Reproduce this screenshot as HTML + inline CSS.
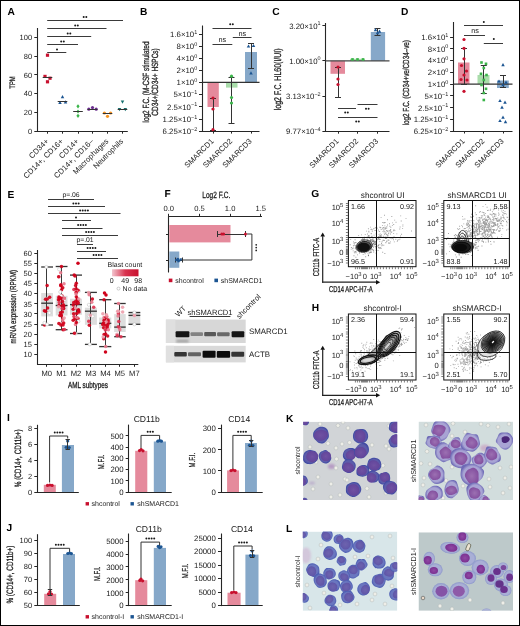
<!DOCTYPE html>
<html><head><meta charset="utf-8"><style>
html,body{margin:0;padding:0;background:#fff;width:520px;height:626px;overflow:hidden}
svg{display:block;will-change:transform}
text{font-family:"Liberation Sans",sans-serif;text-rendering:geometricPrecision}
</style></head><body>
<svg width="520" height="626" viewBox="0 0 520 626" font-family='"Liberation Sans",sans-serif' fill="#1a1a1a">
<defs><linearGradient id="bc" x1="0" x2="1" y1="0" y2="0"><stop offset="0" stop-color="#f2c6cf"/><stop offset="0.5" stop-color="#d9334f"/><stop offset="1" stop-color="#c8102e"/></linearGradient>
<filter id="bl" x="-30%" y="-80%" width="160%" height="260%"><feGaussianBlur stdDeviation="0.9"/></filter>
<filter id="bl2" x="-30%" y="-80%" width="160%" height="260%"><feGaussianBlur stdDeviation="0.6"/></filter>
<filter id="mb" x="-20%" y="-20%" width="140%" height="140%"><feGaussianBlur stdDeviation="0.55"/></filter>
<filter id="mb2" x="-50%" y="-50%" width="200%" height="200%"><feGaussianBlur stdDeviation="1.1"/></filter>
<radialGradient id="c_k1"><stop offset="0" stop-color="#5c5caa"/><stop offset="0.75" stop-color="#5c5caa"/><stop offset="1" stop-color="#3e49a3"/></radialGradient>
<radialGradient id="n_k1"><stop offset="0" stop-color="#7052a2"/><stop offset="1" stop-color="#62459b"/></radialGradient>
<radialGradient id="c_k2"><stop offset="0" stop-color="#a8a4d4"/><stop offset="0.75" stop-color="#a8a4d4"/><stop offset="1" stop-color="#6e6ab6"/></radialGradient>
<radialGradient id="n_k2"><stop offset="0" stop-color="#9c70b2"/><stop offset="1" stop-color="#84509f"/></radialGradient>
<radialGradient id="c_l1"><stop offset="0" stop-color="#6a76bf"/><stop offset="0.75" stop-color="#6a76bf"/><stop offset="1" stop-color="#4a5cb2"/></radialGradient>
<radialGradient id="n_l1"><stop offset="0" stop-color="#6e63ae"/><stop offset="1" stop-color="#5f56a8"/></radialGradient>
<radialGradient id="c_l2"><stop offset="0" stop-color="#a9afd6"/><stop offset="0.75" stop-color="#a9afd6"/><stop offset="1" stop-color="#8d98ca"/></radialGradient>
<radialGradient id="n_l2"><stop offset="0" stop-color="#9049a4"/><stop offset="1" stop-color="#7a3090"/></radialGradient>
<clipPath id="cp_k1"><rect x="303.1" y="421.7" width="94.2" height="78.4"/></clipPath>
<clipPath id="cp_k2"><rect x="418.5" y="421.6" width="94.5" height="78.5"/></clipPath>
<clipPath id="cp_l1"><rect x="302.7" y="531.6" width="94.6" height="79.2"/></clipPath>
<clipPath id="cp_l2"><rect x="418.5" y="532.3" width="94.5" height="78.5"/></clipPath></defs>
<rect x="0" y="0" width="520" height="626" fill="#fff"/>
<text x="7.5" y="15.3" font-size="10.2" font-weight="bold" fill="#000">A</text>
<text x="140" y="14.8" font-size="10.2" font-weight="bold" fill="#000">B</text>
<text x="272.3" y="14.8" font-size="10.2" font-weight="bold" fill="#000">C</text>
<text x="401" y="14.8" font-size="10.2" font-weight="bold" fill="#000">D</text>
<text x="7.5" y="197.6" font-size="10.2" font-weight="bold" fill="#000">E</text>
<text x="164.5" y="197.4" font-size="10.2" font-weight="bold" fill="#000">F</text>
<text x="311.3" y="197.4" font-size="10.2" font-weight="bold" fill="#000">G</text>
<text x="311.8" y="310.9" font-size="10.2" font-weight="bold" fill="#000">H</text>
<text x="7" y="421.2" font-size="10.2" font-weight="bold" fill="#000">I</text>
<text x="6.5" y="530.5" font-size="10.2" font-weight="bold" fill="#000">J</text>
<text x="286.1" y="421.5" font-size="10.2" font-weight="bold" fill="#000">K</text>
<text x="286.1" y="531.8" font-size="10.2" font-weight="bold" fill="#000">L</text>
<line x1="37.5" y1="28" x2="37.5" y2="131.7" stroke="#262626" stroke-width="1.1"/>
<line x1="37" y1="131.5" x2="127.8" y2="131.5" stroke="#262626" stroke-width="1.1"/>
<line x1="34.3" y1="131.5" x2="37.5" y2="131.5" stroke="#262626" stroke-width="1"/>
<text x="32.1" y="133.9" font-size="7.5" text-anchor="end">0</text>
<line x1="34.3" y1="112.5" x2="37.5" y2="112.5" stroke="#262626" stroke-width="1"/>
<text x="32.1" y="115.15" font-size="7.5" text-anchor="end">20</text>
<line x1="34.3" y1="93.5" x2="37.5" y2="93.5" stroke="#262626" stroke-width="1"/>
<text x="32.1" y="96.4" font-size="7.5" text-anchor="end">40</text>
<line x1="34.3" y1="74.5" x2="37.5" y2="74.5" stroke="#262626" stroke-width="1"/>
<text x="32.1" y="77.65" font-size="7.5" text-anchor="end">60</text>
<line x1="34.3" y1="56.5" x2="37.5" y2="56.5" stroke="#262626" stroke-width="1"/>
<text x="32.1" y="58.9" font-size="7.5" text-anchor="end">80</text>
<line x1="34.3" y1="37.5" x2="37.5" y2="37.5" stroke="#262626" stroke-width="1"/>
<text x="32.1" y="40.15" font-size="7.5" text-anchor="end">100</text>
<line x1="47.5" y1="131.2" x2="47.5" y2="133.7" stroke="#262626" stroke-width="1"/>
<text transform="translate(49.1 141.8) rotate(-45)" font-size="7.7" text-anchor="end">CD34+</text>
<line x1="62.5" y1="131.2" x2="62.5" y2="133.7" stroke="#262626" stroke-width="1"/>
<text transform="translate(63.7 141.8) rotate(-45)" font-size="7.7" text-anchor="end">CD14+, CD16+</text>
<line x1="78.5" y1="131.2" x2="78.5" y2="133.7" stroke="#262626" stroke-width="1"/>
<text transform="translate(79.2 141.8) rotate(-45)" font-size="7.7" text-anchor="end">CD14+</text>
<line x1="92.5" y1="131.2" x2="92.5" y2="133.7" stroke="#262626" stroke-width="1"/>
<text transform="translate(94.1 141.8) rotate(-45)" font-size="7.7" text-anchor="end">CD14+, CD16–</text>
<line x1="107.5" y1="131.2" x2="107.5" y2="133.7" stroke="#262626" stroke-width="1"/>
<text transform="translate(108.9 141.8) rotate(-45)" font-size="7.7" text-anchor="end">Macrophages</text>
<line x1="122.5" y1="131.2" x2="122.5" y2="133.7" stroke="#262626" stroke-width="1"/>
<text transform="translate(123.7 141.8) rotate(-45)" font-size="7.7" text-anchor="end">Neutrophils</text>
<text transform="translate(15.4 82.5) rotate(-90) scale(0.74 1)" font-size="7.88" text-anchor="middle" stroke="#1a1a1a" stroke-width="0.28">TPM</text>
<line x1="47.2" y1="20.5" x2="123" y2="20.5" stroke="#3a3a3a" stroke-width="1"/>
<circle cx="83.7" cy="17" r="1" fill="#1a1a1a"/>
<circle cx="86.3" cy="17" r="1" fill="#1a1a1a"/>
<line x1="47.2" y1="28.5" x2="106.5" y2="28.5" stroke="#3a3a3a" stroke-width="1"/>
<circle cx="75.2" cy="25.5" r="1" fill="#1a1a1a"/>
<circle cx="77.8" cy="25.5" r="1" fill="#1a1a1a"/>
<line x1="47.2" y1="36.5" x2="91.2" y2="36.5" stroke="#3a3a3a" stroke-width="1"/>
<circle cx="67.7" cy="33.5" r="1" fill="#1a1a1a"/>
<circle cx="70.3" cy="33.5" r="1" fill="#1a1a1a"/>
<line x1="47.2" y1="44.5" x2="78" y2="44.5" stroke="#3a3a3a" stroke-width="1"/>
<circle cx="61.2" cy="41.5" r="1" fill="#1a1a1a"/>
<circle cx="63.8" cy="41.5" r="1" fill="#1a1a1a"/>
<line x1="47.2" y1="52.5" x2="66.3" y2="52.5" stroke="#3a3a3a" stroke-width="1"/>
<circle cx="57" cy="49.5" r="1" fill="#1a1a1a"/>
<rect x="45.9" y="53.6" width="3.2" height="3.2" fill="#c8102e"/>
<rect x="43.4" y="74.8" width="3.2" height="3.2" fill="#c8102e"/>
<rect x="48.4" y="76.6" width="3.2" height="3.2" fill="#c8102e"/>
<rect x="45.9" y="80.2" width="3.2" height="3.2" fill="#c8102e"/>
<line x1="42.7" y1="77.5" x2="52.3" y2="77.5" stroke="#333" stroke-width="1"/>
<path d="M62.5 95.08L64.26 98.28L60.74 98.28Z" fill="#1c5592"/>
<path d="M60 100.68L61.76 103.88L58.24 103.88Z" fill="#1c5592"/>
<path d="M65.5 100.28L67.26 103.48L63.74 103.48Z" fill="#1c5592"/>
<line x1="57.7" y1="101.5" x2="67.3" y2="101.5" stroke="#333" stroke-width="1"/>
<path d="M78 104.22L79.6 106.3L78 108.38L76.4 106.3Z" fill="#3bb54a"/>
<path d="M78 109.42L79.6 111.5L78 113.58L76.4 111.5Z" fill="#3bb54a"/>
<path d="M78 113.72L79.6 115.8L78 117.88L76.4 115.8Z" fill="#3bb54a"/>
<line x1="73.2" y1="111.5" x2="82.8" y2="111.5" stroke="#333" stroke-width="1"/>
<circle cx="88.8" cy="109.2" r="1.6" fill="#6b2d8f"/>
<circle cx="92.5" cy="107.6" r="1.6" fill="#6b2d8f"/>
<circle cx="96.2" cy="109.2" r="1.6" fill="#6b2d8f"/>
<line x1="87.7" y1="109.5" x2="97.3" y2="109.5" stroke="#333" stroke-width="1"/>
<circle cx="104.4" cy="113" r="1.6" fill="#f7941d"/>
<circle cx="107.5" cy="116.3" r="1.6" fill="#f7941d"/>
<circle cx="110.6" cy="113" r="1.6" fill="#f7941d"/>
<line x1="102.7" y1="113.5" x2="112.3" y2="113.5" stroke="#333" stroke-width="1"/>
<path d="M122.5 103.72L124.26 100.52L120.74 100.52Z" fill="#16706e"/>
<path d="M119.5 111.22L121.26 108.02L117.74 108.02Z" fill="#16706e"/>
<path d="M125.3 111.22L127.06 108.02L123.54 108.02Z" fill="#16706e"/>
<line x1="117.7" y1="109.5" x2="127.3" y2="109.5" stroke="#333" stroke-width="1"/>
<line x1="202.5" y1="25.5" x2="202.5" y2="131.6" stroke="#262626" stroke-width="1.1"/>
<line x1="199" y1="34.5" x2="202.2" y2="34.5" stroke="#262626" stroke-width="1"/>
<text x="197.2" y="37" font-size="7.8" text-anchor="end">1.6×10<tspan font-size="5.46" dy="-3.12">1</tspan></text>
<line x1="199" y1="46.5" x2="202.2" y2="46.5" stroke="#262626" stroke-width="1"/>
<text x="197.2" y="49.1" font-size="7.8" text-anchor="end">8×10<tspan font-size="5.46" dy="-3.12">0</tspan></text>
<line x1="199" y1="58.5" x2="202.2" y2="58.5" stroke="#262626" stroke-width="1"/>
<text x="197.2" y="61.2" font-size="7.8" text-anchor="end">4×10<tspan font-size="5.46" dy="-3.12">0</tspan></text>
<line x1="199" y1="70.5" x2="202.2" y2="70.5" stroke="#262626" stroke-width="1"/>
<text x="197.2" y="73.3" font-size="7.8" text-anchor="end">2×10<tspan font-size="5.46" dy="-3.12">0</tspan></text>
<line x1="199" y1="82.5" x2="202.2" y2="82.5" stroke="#262626" stroke-width="1"/>
<text x="197.2" y="85.1" font-size="7.8" text-anchor="end">1×10<tspan font-size="5.46" dy="-3.12">0</tspan></text>
<line x1="199" y1="94.5" x2="202.2" y2="94.5" stroke="#262626" stroke-width="1"/>
<text x="197.2" y="97.3" font-size="7.8" text-anchor="end">5×10<tspan font-size="5.46" dy="-3.12">−1</tspan></text>
<line x1="199" y1="106.5" x2="202.2" y2="106.5" stroke="#262626" stroke-width="1"/>
<text x="197.2" y="109.6" font-size="7.8" text-anchor="end">2.5×10<tspan font-size="5.46" dy="-3.12">−1</tspan></text>
<line x1="199" y1="119.5" x2="202.2" y2="119.5" stroke="#262626" stroke-width="1"/>
<text x="197.2" y="121.8" font-size="7.8" text-anchor="end">1.25×10<tspan font-size="5.46" dy="-3.12">−1</tspan></text>
<line x1="199" y1="131.5" x2="202.2" y2="131.5" stroke="#262626" stroke-width="1"/>
<text x="197.2" y="133.9" font-size="7.8" text-anchor="end">6.25×10<tspan font-size="5.46" dy="-3.12">−2</tspan></text>
<line x1="201.7" y1="131.5" x2="259.5" y2="131.5" stroke="#262626" stroke-width="1.1"/>
<rect x="207.5" y="82.3" width="11.3" height="24.7" fill="#e58a9c"/>
<rect x="226" y="82.3" width="11.5" height="5.3" fill="#a9dcaa"/>
<rect x="245" y="52" width="12" height="30.3" fill="#86a8c9"/>
<line x1="202.2" y1="82.3" x2="259.5" y2="82.3" stroke="#333" stroke-width="1.2"/>
<line x1="213.5" y1="98" x2="213.5" y2="130" stroke="#333" stroke-width="1"/>
<line x1="210" y1="98.5" x2="216" y2="98.5" stroke="#333" stroke-width="1"/>
<line x1="210" y1="130.5" x2="216" y2="130.5" stroke="#333" stroke-width="1"/>
<line x1="231.5" y1="77" x2="231.5" y2="123" stroke="#333" stroke-width="1"/>
<line x1="228.5" y1="77.5" x2="234.5" y2="77.5" stroke="#333" stroke-width="1"/>
<line x1="228.5" y1="123.5" x2="234.5" y2="123.5" stroke="#333" stroke-width="1"/>
<line x1="251.5" y1="43" x2="251.5" y2="68" stroke="#333" stroke-width="1"/>
<line x1="248" y1="43.5" x2="254" y2="43.5" stroke="#333" stroke-width="1"/>
<line x1="248" y1="68.5" x2="254" y2="68.5" stroke="#333" stroke-width="1"/>
<circle cx="213" cy="98" r="1.6" fill="#c8102e"/>
<circle cx="213" cy="109" r="1.6" fill="#c8102e"/>
<circle cx="213" cy="129.7" r="1.6" fill="#c8102e"/>
<circle cx="231.5" cy="76.2" r="1.6" fill="#3bb54a"/>
<circle cx="231.5" cy="97.5" r="1.6" fill="#3bb54a"/>
<circle cx="231.5" cy="103" r="1.6" fill="#3bb54a"/>
<path d="M248.5 44.38L250.26 47.58L246.74 47.58Z" fill="#1c5592"/>
<path d="M253.5 43.88L255.26 47.08L251.74 47.08Z" fill="#1c5592"/>
<path d="M251 71.28L252.76 74.48L249.24 74.48Z" fill="#1c5592"/>
<line x1="213.5" y1="131.1" x2="213.5" y2="133.6" stroke="#262626" stroke-width="1"/>
<text transform="translate(214.2 141.7) rotate(-45)" font-size="7.7" text-anchor="end">SMARCD1</text>
<line x1="231.5" y1="131.1" x2="231.5" y2="133.6" stroke="#262626" stroke-width="1"/>
<text transform="translate(232.7 141.7) rotate(-45)" font-size="7.7" text-anchor="end">SMARCD2</text>
<line x1="251.5" y1="131.1" x2="251.5" y2="133.6" stroke="#262626" stroke-width="1"/>
<text transform="translate(252.2 141.7) rotate(-45)" font-size="7.7" text-anchor="end">SMARCD3</text>
<line x1="212.5" y1="28.5" x2="251.5" y2="28.5" stroke="#3a3a3a" stroke-width="1"/>
<circle cx="230.2" cy="24.3" r="1" fill="#1a1a1a"/>
<circle cx="232.8" cy="24.3" r="1" fill="#1a1a1a"/>
<line x1="212.5" y1="44.5" x2="232.3" y2="44.5" stroke="#3a3a3a" stroke-width="1"/>
<text x="222.3" y="42" font-size="7.3" text-anchor="middle">ns</text>
<line x1="232.8" y1="37.5" x2="251.5" y2="37.5" stroke="#3a3a3a" stroke-width="1"/>
<text x="242.3" y="35.5" font-size="7.3" text-anchor="middle">ns</text>
<text transform="translate(148.8 82) rotate(-90) scale(0.72 1)" font-size="8.96" text-anchor="middle" stroke="#1a1a1a" stroke-width="0.28">log2 F.C. (M-CSF stimulated</text>
<text transform="translate(157.7 82) rotate(-90) scale(0.72 1)" font-size="8.96" text-anchor="middle" stroke="#1a1a1a" stroke-width="0.28">CD34+/CD34+ HSPCs)</text>
<line x1="325.5" y1="23" x2="325.5" y2="131.6" stroke="#262626" stroke-width="1.1"/>
<line x1="322.4" y1="25.5" x2="325.6" y2="25.5" stroke="#262626" stroke-width="1"/>
<text x="320.6" y="28.6" font-size="7.8" text-anchor="end">3.20×10<tspan font-size="5.46" dy="-3.12">1</tspan></text>
<line x1="322.4" y1="60.5" x2="325.6" y2="60.5" stroke="#262626" stroke-width="1"/>
<text x="320.6" y="63.6" font-size="7.8" text-anchor="end">1.00×10<tspan font-size="5.46" dy="-3.12">0</tspan></text>
<line x1="322.4" y1="96.5" x2="325.6" y2="96.5" stroke="#262626" stroke-width="1"/>
<text x="320.6" y="99" font-size="7.8" text-anchor="end">3.13×10<tspan font-size="5.46" dy="-3.12">−2</tspan></text>
<line x1="322.4" y1="131.5" x2="325.6" y2="131.5" stroke="#262626" stroke-width="1"/>
<text x="320.6" y="134" font-size="7.8" text-anchor="end">9.77×10<tspan font-size="5.46" dy="-3.12">−4</tspan></text>
<line x1="325.1" y1="131.5" x2="389.5" y2="131.5" stroke="#262626" stroke-width="1.1"/>
<rect x="330.5" y="60.8" width="14.5" height="13" fill="#e58a9c"/>
<rect x="350" y="58.8" width="15" height="2.2" fill="#a9dcaa"/>
<rect x="370.8" y="32" width="14.3" height="28.8" fill="#86a8c9"/>
<line x1="325.6" y1="60.8" x2="389.5" y2="60.8" stroke="#444" stroke-width="1.2"/>
<line x1="338.5" y1="67" x2="338.5" y2="97" stroke="#333" stroke-width="1"/>
<line x1="335" y1="67.5" x2="341" y2="67.5" stroke="#333" stroke-width="1"/>
<line x1="335" y1="97.5" x2="341" y2="97.5" stroke="#333" stroke-width="1"/>
<line x1="377.5" y1="28.8" x2="377.5" y2="35" stroke="#333" stroke-width="1"/>
<line x1="374.5" y1="28.5" x2="380.5" y2="28.5" stroke="#333" stroke-width="1"/>
<line x1="374.5" y1="35.5" x2="380.5" y2="35.5" stroke="#333" stroke-width="1"/>
<circle cx="338" cy="67" r="1.6" fill="#c8102e"/>
<circle cx="338" cy="79" r="1.6" fill="#c8102e"/>
<circle cx="338" cy="84.5" r="1.6" fill="#c8102e"/>
<rect x="351.2" y="58.1" width="2.6" height="2.6" fill="#3bb54a"/>
<rect x="356.2" y="58.1" width="2.6" height="2.6" fill="#3bb54a"/>
<rect x="361.7" y="58.1" width="2.6" height="2.6" fill="#3bb54a"/>
<path d="M375.5 28.08L377.26 31.28L373.74 31.28Z" fill="#1c5592"/>
<path d="M379.5 29.58L381.26 32.78L377.74 32.78Z" fill="#1c5592"/>
<path d="M377.5 31.08L379.26 34.28L375.74 34.28Z" fill="#1c5592"/>
<line x1="338.5" y1="131.2" x2="338.5" y2="133.7" stroke="#262626" stroke-width="1"/>
<text transform="translate(339.2 141.8) rotate(-45)" font-size="7.7" text-anchor="end">SMARCD1</text>
<line x1="357.5" y1="131.2" x2="357.5" y2="133.7" stroke="#262626" stroke-width="1"/>
<text transform="translate(358.7 141.8) rotate(-45)" font-size="7.7" text-anchor="end">SMARCD2</text>
<line x1="377.5" y1="131.2" x2="377.5" y2="133.7" stroke="#262626" stroke-width="1"/>
<text transform="translate(378.7 141.8) rotate(-45)" font-size="7.7" text-anchor="end">SMARCD3</text>
<line x1="338" y1="108.5" x2="356" y2="108.5" stroke="#3a3a3a" stroke-width="1"/>
<circle cx="345.2" cy="112.5" r="1" fill="#1a1a1a"/>
<circle cx="347.8" cy="112.5" r="1" fill="#1a1a1a"/>
<line x1="357.5" y1="104.5" x2="377.5" y2="104.5" stroke="#3a3a3a" stroke-width="1"/>
<circle cx="366" cy="108.8" r="1" fill="#1a1a1a"/>
<circle cx="368.6" cy="108.8" r="1" fill="#1a1a1a"/>
<line x1="338" y1="117.5" x2="377.5" y2="117.5" stroke="#3a3a3a" stroke-width="1"/>
<circle cx="356.2" cy="121.5" r="1" fill="#1a1a1a"/>
<circle cx="358.8" cy="121.5" r="1" fill="#1a1a1a"/>
<text transform="translate(280.6 79.3) rotate(-90) scale(0.72 1)" font-size="9.72" text-anchor="middle" stroke="#1a1a1a" stroke-width="0.28">log2 F.C. HL60(I/UI)</text>
<line x1="453.5" y1="22" x2="453.5" y2="131.5" stroke="#262626" stroke-width="1.1"/>
<line x1="450.1" y1="37.5" x2="453.3" y2="37.5" stroke="#262626" stroke-width="1"/>
<text x="448.3" y="39.8" font-size="7.8" text-anchor="end">1.6×10<tspan font-size="5.46" dy="-3.12">1</tspan></text>
<line x1="450.1" y1="48.5" x2="453.3" y2="48.5" stroke="#262626" stroke-width="1"/>
<text x="448.3" y="51.6" font-size="7.8" text-anchor="end">8×10<tspan font-size="5.46" dy="-3.12">0</tspan></text>
<line x1="450.1" y1="60.5" x2="453.3" y2="60.5" stroke="#262626" stroke-width="1"/>
<text x="448.3" y="63.4" font-size="7.8" text-anchor="end">4×10<tspan font-size="5.46" dy="-3.12">0</tspan></text>
<line x1="450.1" y1="72.5" x2="453.3" y2="72.5" stroke="#262626" stroke-width="1"/>
<text x="448.3" y="75.2" font-size="7.8" text-anchor="end">2×10<tspan font-size="5.46" dy="-3.12">0</tspan></text>
<line x1="450.1" y1="84.5" x2="453.3" y2="84.5" stroke="#262626" stroke-width="1"/>
<text x="448.3" y="86.9" font-size="7.8" text-anchor="end">1×10<tspan font-size="5.46" dy="-3.12">0</tspan></text>
<line x1="450.1" y1="95.5" x2="453.3" y2="95.5" stroke="#262626" stroke-width="1"/>
<text x="448.3" y="98.7" font-size="7.8" text-anchor="end">5×10<tspan font-size="5.46" dy="-3.12">−1</tspan></text>
<line x1="450.1" y1="107.5" x2="453.3" y2="107.5" stroke="#262626" stroke-width="1"/>
<text x="448.3" y="110.5" font-size="7.8" text-anchor="end">2.5×10<tspan font-size="5.46" dy="-3.12">−1</tspan></text>
<line x1="450.1" y1="119.5" x2="453.3" y2="119.5" stroke="#262626" stroke-width="1"/>
<text x="448.3" y="122.3" font-size="7.8" text-anchor="end">1.25×10<tspan font-size="5.46" dy="-3.12">−1</tspan></text>
<line x1="450.1" y1="131.5" x2="453.3" y2="131.5" stroke="#262626" stroke-width="1"/>
<text x="448.3" y="133.8" font-size="7.8" text-anchor="end">6.25×10<tspan font-size="5.46" dy="-3.12">−2</tspan></text>
<line x1="452.8" y1="131.5" x2="512.5" y2="131.5" stroke="#262626" stroke-width="1.1"/>
<rect x="458" y="62.5" width="11.5" height="21.6" fill="#e58a9c"/>
<rect x="477.5" y="75" width="12" height="9.1" fill="#a9dcaa"/>
<rect x="497" y="80.5" width="11.8" height="7.5" fill="#86a8c9"/>
<line x1="453.3" y1="84.1" x2="512.5" y2="84.1" stroke="#333" stroke-width="1.2"/>
<line x1="464.5" y1="48.8" x2="464.5" y2="84" stroke="#333" stroke-width="1"/>
<line x1="461" y1="48.5" x2="467" y2="48.5" stroke="#333" stroke-width="1"/>
<line x1="461" y1="84.5" x2="467" y2="84.5" stroke="#333" stroke-width="1"/>
<line x1="483.5" y1="65.5" x2="483.5" y2="93.8" stroke="#333" stroke-width="1"/>
<line x1="480.8" y1="65.5" x2="486.8" y2="65.5" stroke="#333" stroke-width="1"/>
<line x1="480.8" y1="93.5" x2="486.8" y2="93.5" stroke="#333" stroke-width="1"/>
<line x1="503.5" y1="75" x2="503.5" y2="87.5" stroke="#333" stroke-width="1"/>
<line x1="500" y1="75.5" x2="506" y2="75.5" stroke="#333" stroke-width="1"/>
<line x1="500" y1="87.5" x2="506" y2="87.5" stroke="#333" stroke-width="1"/>
<circle cx="464" cy="39.5" r="1.6" fill="#c8102e"/>
<circle cx="464" cy="48.3" r="1.6" fill="#c8102e"/>
<circle cx="464" cy="58.8" r="1.6" fill="#c8102e"/>
<circle cx="461.5" cy="65.5" r="1.6" fill="#c8102e"/>
<circle cx="466.5" cy="71" r="1.6" fill="#c8102e"/>
<circle cx="464" cy="75" r="1.6" fill="#c8102e"/>
<circle cx="461" cy="79.5" r="1.6" fill="#c8102e"/>
<circle cx="467" cy="80" r="1.6" fill="#c8102e"/>
<circle cx="464" cy="91.3" r="1.6" fill="#c8102e"/>
<rect x="480.2" y="61.2" width="2.6" height="2.6" fill="#3bb54a"/>
<rect x="484.7" y="62.5" width="2.6" height="2.6" fill="#3bb54a"/>
<rect x="482.5" y="66.7" width="2.6" height="2.6" fill="#3bb54a"/>
<rect x="479.7" y="72.5" width="2.6" height="2.6" fill="#3bb54a"/>
<rect x="485.2" y="73.7" width="2.6" height="2.6" fill="#3bb54a"/>
<rect x="482.5" y="78.7" width="2.6" height="2.6" fill="#3bb54a"/>
<rect x="480.2" y="83.7" width="2.6" height="2.6" fill="#3bb54a"/>
<rect x="484.7" y="87.5" width="2.6" height="2.6" fill="#3bb54a"/>
<rect x="482.5" y="91.7" width="2.6" height="2.6" fill="#3bb54a"/>
<rect x="482.5" y="98.7" width="2.6" height="2.6" fill="#3bb54a"/>
<path d="M503 63.08L504.76 66.28L501.24 66.28Z" fill="#1c5592"/>
<path d="M499 79.38L500.76 82.58L497.24 82.58Z" fill="#1c5592"/>
<path d="M506 80.58L507.76 83.78L504.24 83.78Z" fill="#1c5592"/>
<path d="M503 83.08L504.76 86.28L501.24 86.28Z" fill="#1c5592"/>
<path d="M500 98.88L501.76 102.08L498.24 102.08Z" fill="#1c5592"/>
<path d="M505 100.58L506.76 103.78L503.24 103.78Z" fill="#1c5592"/>
<path d="M502 105.58L503.76 108.78L500.24 108.78Z" fill="#1c5592"/>
<path d="M503 115.58L504.76 118.78L501.24 118.78Z" fill="#1c5592"/>
<path d="M500 118.88L501.76 122.08L498.24 122.08Z" fill="#1c5592"/>
<path d="M505.5 120.08L507.26 123.28L503.74 123.28Z" fill="#1c5592"/>
<line x1="464.5" y1="131" x2="464.5" y2="133.5" stroke="#262626" stroke-width="1"/>
<text transform="translate(465.2 141.6) rotate(-45)" font-size="7.7" text-anchor="end">SMARCD1</text>
<line x1="483.5" y1="131" x2="483.5" y2="133.5" stroke="#262626" stroke-width="1"/>
<text transform="translate(485 141.6) rotate(-45)" font-size="7.7" text-anchor="end">SMARCD2</text>
<line x1="503.5" y1="131" x2="503.5" y2="133.5" stroke="#262626" stroke-width="1"/>
<text transform="translate(504.2 141.6) rotate(-45)" font-size="7.7" text-anchor="end">SMARCD3</text>
<line x1="464" y1="25.5" x2="503" y2="25.5" stroke="#3a3a3a" stroke-width="1"/>
<circle cx="483.8" cy="22" r="1" fill="#1a1a1a"/>
<line x1="464" y1="35.5" x2="485" y2="35.5" stroke="#3a3a3a" stroke-width="1"/>
<text x="475" y="33" font-size="7.3" text-anchor="middle">ns</text>
<line x1="483.8" y1="43.5" x2="503" y2="43.5" stroke="#3a3a3a" stroke-width="1"/>
<circle cx="493.8" cy="39" r="1" fill="#1a1a1a"/>
<text transform="translate(408.6 82.7) rotate(-90) scale(0.72 1)" font-size="8.75" text-anchor="middle" stroke="#1a1a1a" stroke-width="0.28">log2 F.C. (CD34+ve/CD34–ve)</text>
<line x1="37.5" y1="250" x2="37.5" y2="364.8" stroke="#262626" stroke-width="1.1"/>
<line x1="37" y1="364.5" x2="138.3" y2="364.5" stroke="#262626" stroke-width="1.1"/>
<line x1="34.3" y1="354.5" x2="37.5" y2="354.5" stroke="#262626" stroke-width="1"/>
<text x="31.9" y="357.3" font-size="7.5" text-anchor="end">10</text>
<line x1="34.3" y1="344.5" x2="37.5" y2="344.5" stroke="#262626" stroke-width="1"/>
<text x="31.9" y="347.14" font-size="7.5" text-anchor="end">15</text>
<line x1="34.3" y1="334.5" x2="37.5" y2="334.5" stroke="#262626" stroke-width="1"/>
<text x="31.9" y="336.98" font-size="7.5" text-anchor="end">20</text>
<line x1="34.3" y1="324.5" x2="37.5" y2="324.5" stroke="#262626" stroke-width="1"/>
<text x="31.9" y="326.82" font-size="7.5" text-anchor="end">25</text>
<line x1="34.3" y1="313.5" x2="37.5" y2="313.5" stroke="#262626" stroke-width="1"/>
<text x="31.9" y="316.66" font-size="7.5" text-anchor="end">30</text>
<line x1="34.3" y1="303.5" x2="37.5" y2="303.5" stroke="#262626" stroke-width="1"/>
<text x="31.9" y="306.5" font-size="7.5" text-anchor="end">35</text>
<line x1="34.3" y1="293.5" x2="37.5" y2="293.5" stroke="#262626" stroke-width="1"/>
<text x="31.9" y="296.34" font-size="7.5" text-anchor="end">40</text>
<line x1="34.3" y1="283.5" x2="37.5" y2="283.5" stroke="#262626" stroke-width="1"/>
<text x="31.9" y="286.18" font-size="7.5" text-anchor="end">45</text>
<line x1="34.3" y1="273.5" x2="37.5" y2="273.5" stroke="#262626" stroke-width="1"/>
<text x="31.9" y="276.02" font-size="7.5" text-anchor="end">50</text>
<line x1="34.3" y1="263.5" x2="37.5" y2="263.5" stroke="#262626" stroke-width="1"/>
<text x="31.9" y="265.86" font-size="7.5" text-anchor="end">55</text>
<line x1="34.3" y1="253.5" x2="37.5" y2="253.5" stroke="#262626" stroke-width="1"/>
<text x="31.9" y="255.7" font-size="7.5" text-anchor="end">60</text>
<line x1="46.5" y1="364.4" x2="46.5" y2="366.8" stroke="#262626" stroke-width="1"/>
<text x="46.8" y="376.1" font-size="7.6" text-anchor="middle">M0</text>
<line x1="61.5" y1="364.4" x2="61.5" y2="366.8" stroke="#262626" stroke-width="1"/>
<text x="61.5" y="376.1" font-size="7.6" text-anchor="middle">M1</text>
<line x1="76.5" y1="364.4" x2="76.5" y2="366.8" stroke="#262626" stroke-width="1"/>
<text x="76" y="376.1" font-size="7.6" text-anchor="middle">M2</text>
<line x1="90.5" y1="364.4" x2="90.5" y2="366.8" stroke="#262626" stroke-width="1"/>
<text x="90.9" y="376.1" font-size="7.6" text-anchor="middle">M3</text>
<line x1="105.5" y1="364.4" x2="105.5" y2="366.8" stroke="#262626" stroke-width="1"/>
<text x="105.5" y="376.1" font-size="7.6" text-anchor="middle">M4</text>
<line x1="119.5" y1="364.4" x2="119.5" y2="366.8" stroke="#262626" stroke-width="1"/>
<text x="119.8" y="376.1" font-size="7.6" text-anchor="middle">M5</text>
<line x1="134.5" y1="364.4" x2="134.5" y2="366.8" stroke="#262626" stroke-width="1"/>
<text x="134.4" y="376.1" font-size="7.6" text-anchor="middle">M7</text>
<text transform="translate(88 388) scale(0.72 1)" font-size="8.86" text-anchor="middle" stroke="#1a1a1a" stroke-width="0.28">AML subtypes</text>
<text transform="translate(15.5 306.8) rotate(-90) scale(0.72 1)" font-size="8.64" text-anchor="middle" stroke="#1a1a1a" stroke-width="0.28">mRNA expression (RPKM)</text>
<line x1="48" y1="199.5" x2="94" y2="199.5" stroke="#3a3a3a" stroke-width="1"/>
<text x="71" y="197.3" font-size="6.8" text-anchor="middle">p=.06</text>
<line x1="48" y1="206.5" x2="105" y2="206.5" stroke="#3a3a3a" stroke-width="1"/>
<circle cx="73.4" cy="203.4" r="1" fill="#1a1a1a"/>
<circle cx="76" cy="203.4" r="1" fill="#1a1a1a"/>
<circle cx="78.6" cy="203.4" r="1" fill="#1a1a1a"/>
<line x1="48" y1="213.5" x2="120.5" y2="213.5" stroke="#3a3a3a" stroke-width="1"/>
<circle cx="80.1" cy="210.4" r="1" fill="#1a1a1a"/>
<circle cx="82.7" cy="210.4" r="1" fill="#1a1a1a"/>
<circle cx="85.3" cy="210.4" r="1" fill="#1a1a1a"/>
<circle cx="87.9" cy="210.4" r="1" fill="#1a1a1a"/>
<line x1="62" y1="220.5" x2="91" y2="220.5" stroke="#3a3a3a" stroke-width="1"/>
<circle cx="76" cy="217.4" r="1" fill="#1a1a1a"/>
<line x1="62" y1="228.5" x2="102.5" y2="228.5" stroke="#3a3a3a" stroke-width="1"/>
<circle cx="78.1" cy="224.9" r="1" fill="#1a1a1a"/>
<circle cx="80.7" cy="224.9" r="1" fill="#1a1a1a"/>
<circle cx="83.3" cy="224.9" r="1" fill="#1a1a1a"/>
<circle cx="85.9" cy="224.9" r="1" fill="#1a1a1a"/>
<line x1="62" y1="235.5" x2="118" y2="235.5" stroke="#3a3a3a" stroke-width="1"/>
<circle cx="86.1" cy="231.9" r="1" fill="#1a1a1a"/>
<circle cx="88.7" cy="231.9" r="1" fill="#1a1a1a"/>
<circle cx="91.3" cy="231.9" r="1" fill="#1a1a1a"/>
<circle cx="93.9" cy="231.9" r="1" fill="#1a1a1a"/>
<line x1="77" y1="244.5" x2="93" y2="244.5" stroke="#3a3a3a" stroke-width="1"/>
<text x="85" y="241.8" font-size="6.8" text-anchor="middle">p=.01</text>
<line x1="77" y1="251.5" x2="106" y2="251.5" stroke="#3a3a3a" stroke-width="1"/>
<circle cx="87.6" cy="247.9" r="1" fill="#1a1a1a"/>
<circle cx="90.2" cy="247.9" r="1" fill="#1a1a1a"/>
<circle cx="92.8" cy="247.9" r="1" fill="#1a1a1a"/>
<circle cx="95.4" cy="247.9" r="1" fill="#1a1a1a"/>
<line x1="77" y1="258.5" x2="118" y2="258.5" stroke="#3a3a3a" stroke-width="1"/>
<circle cx="93.6" cy="254.9" r="1" fill="#1a1a1a"/>
<circle cx="96.2" cy="254.9" r="1" fill="#1a1a1a"/>
<circle cx="98.8" cy="254.9" r="1" fill="#1a1a1a"/>
<circle cx="101.4" cy="254.9" r="1" fill="#1a1a1a"/>
<text x="107.6" y="266.6" font-size="7">Blast count</text>
<rect x="112" y="269.3" width="26.5" height="7" fill="url(#bc)"/>
<text x="111.6" y="283.3" font-size="7" text-anchor="middle">0</text>
<text x="125.2" y="283.3" font-size="7" text-anchor="middle">49</text>
<text x="138.2" y="283.3" font-size="7" text-anchor="middle">98</text>
<circle cx="118.5" cy="288.6" r="1.5" fill="#fff" stroke="#aaa" stroke-width="0.6"/>
<text x="122.6" y="291.2" font-size="7">No data</text>
<rect x="41.2" y="293" width="11.8" height="23.4" fill="#dddddd"/>
<rect x="55.7" y="295.8" width="11.8" height="19.7" fill="#dddddd"/>
<rect x="70" y="298.7" width="12" height="16.1" fill="#dddddd"/>
<rect x="84.9" y="307.7" width="12" height="17.1" fill="#dddddd"/>
<rect x="99.2" y="317.6" width="12.1" height="10.8" fill="#dddddd"/>
<rect x="114.2" y="314.1" width="11.5" height="17.9" fill="#dddddd"/>
<rect x="128.5" y="312.5" width="11.8" height="11.8" fill="#dddddd"/>
<line x1="46.5" y1="267" x2="46.5" y2="325" stroke="#3a3a3a" stroke-width="1"/>
<line x1="41.2" y1="267" x2="53" y2="267" stroke="#333" stroke-width="1.3"/>
<line x1="41.2" y1="325" x2="53" y2="325" stroke="#333" stroke-width="1.3"/>
<line x1="41.2" y1="303.2" x2="53" y2="303.2" stroke="#333" stroke-width="1.3"/>
<line x1="61.5" y1="266.5" x2="61.5" y2="329.7" stroke="#3a3a3a" stroke-width="1"/>
<line x1="55.7" y1="266.5" x2="67.5" y2="266.5" stroke="#333" stroke-width="1.3"/>
<line x1="55.7" y1="329.7" x2="67.5" y2="329.7" stroke="#333" stroke-width="1.3"/>
<line x1="55.7" y1="305.5" x2="67.5" y2="305.5" stroke="#333" stroke-width="1.3"/>
<line x1="76.5" y1="275.1" x2="76.5" y2="333.5" stroke="#3a3a3a" stroke-width="1"/>
<line x1="70" y1="275.1" x2="82" y2="275.1" stroke="#333" stroke-width="1.3"/>
<line x1="70" y1="333.5" x2="82" y2="333.5" stroke="#333" stroke-width="1.3"/>
<line x1="70" y1="304.6" x2="82" y2="304.6" stroke="#333" stroke-width="1.3"/>
<line x1="90.5" y1="292.4" x2="90.5" y2="344.4" stroke="#3a3a3a" stroke-width="1"/>
<line x1="84.9" y1="292.4" x2="96.9" y2="292.4" stroke="#333" stroke-width="1.3"/>
<line x1="84.9" y1="344.4" x2="96.9" y2="344.4" stroke="#333" stroke-width="1.3"/>
<line x1="84.9" y1="311.2" x2="96.9" y2="311.2" stroke="#333" stroke-width="1.3"/>
<line x1="105.5" y1="299.7" x2="105.5" y2="346.6" stroke="#3a3a3a" stroke-width="1"/>
<line x1="99.2" y1="299.7" x2="111.3" y2="299.7" stroke="#333" stroke-width="1.3"/>
<line x1="99.2" y1="346.6" x2="111.3" y2="346.6" stroke="#333" stroke-width="1.3"/>
<line x1="99.2" y1="323.3" x2="111.3" y2="323.3" stroke="#333" stroke-width="1.3"/>
<line x1="119.5" y1="303.5" x2="119.5" y2="336.7" stroke="#3a3a3a" stroke-width="1"/>
<line x1="114.2" y1="303.5" x2="125.7" y2="303.5" stroke="#333" stroke-width="1.3"/>
<line x1="114.2" y1="336.7" x2="125.7" y2="336.7" stroke="#333" stroke-width="1.3"/>
<line x1="114.2" y1="327.1" x2="125.7" y2="327.1" stroke="#333" stroke-width="1.3"/>
<line x1="128.5" y1="312.5" x2="140.3" y2="312.5" stroke="#333" stroke-width="1.3"/>
<line x1="128.5" y1="324.3" x2="140.3" y2="324.3" stroke="#333" stroke-width="1.3"/>
<line x1="128.5" y1="315.4" x2="140.3" y2="315.4" stroke="#333" stroke-width="1.3"/>
<circle cx="46.35" cy="267" r="1.6" fill="#fff" stroke="#bbb" stroke-width="0.5"/>
<circle cx="44.54" cy="325" r="1.75" fill="#d0021b" fill-opacity="0.92"/>
<circle cx="47.58" cy="298.32" r="1.6" fill="#fff" stroke="#bbb" stroke-width="0.5"/>
<circle cx="49.49" cy="312.95" r="1.6" fill="#fff" stroke="#bbb" stroke-width="0.5"/>
<circle cx="47.31" cy="298.89" r="1.75" fill="#d0021b" fill-opacity="0.92"/>
<circle cx="49.66" cy="297.19" r="1.75" fill="#d0021b" fill-opacity="0.92"/>
<circle cx="47.14" cy="285.47" r="1.75" fill="#d0021b" fill-opacity="0.92"/>
<circle cx="45.54" cy="299.13" r="1.75" fill="#d0021b" fill-opacity="0.92"/>
<circle cx="47.04" cy="324.4" r="1.6" fill="#fff" stroke="#bbb" stroke-width="0.5"/>
<circle cx="45.65" cy="311.29" r="1.75" fill="#d0021b" fill-opacity="0.92"/>
<circle cx="44.42" cy="322.97" r="1.6" fill="#fff" stroke="#bbb" stroke-width="0.5"/>
<circle cx="47.63" cy="307.95" r="1.75" fill="#d0021b" fill-opacity="0.92"/>
<circle cx="44.38" cy="310.73" r="1.75" fill="#d0021b" fill-opacity="0.92"/>
<circle cx="61.46" cy="266.5" r="1.75" fill="#d0021b" fill-opacity="0.92"/>
<circle cx="63.11" cy="329.7" r="1.75" fill="#d0021b" fill-opacity="0.92"/>
<circle cx="62.93" cy="308.47" r="1.75" fill="#d0021b" fill-opacity="0.92"/>
<circle cx="60.85" cy="285" r="1.75" fill="#dc3350" fill-opacity="0.92"/>
<circle cx="58.98" cy="296.73" r="1.75" fill="#dc3350" fill-opacity="0.92"/>
<circle cx="60.91" cy="285.73" r="1.75" fill="#d0021b" fill-opacity="0.92"/>
<circle cx="63.8" cy="305.95" r="1.75" fill="#d0021b" fill-opacity="0.92"/>
<circle cx="63.68" cy="308.56" r="1.75" fill="#d0021b" fill-opacity="0.92"/>
<circle cx="62.74" cy="287.79" r="1.75" fill="#d0021b" fill-opacity="0.92"/>
<circle cx="62.6" cy="318.98" r="1.75" fill="#d0021b" fill-opacity="0.92"/>
<circle cx="64.25" cy="298.46" r="1.75" fill="#d0021b" fill-opacity="0.92"/>
<circle cx="59" cy="305.6" r="1.75" fill="#d0021b" fill-opacity="0.92"/>
<circle cx="59.89" cy="315.6" r="1.75" fill="#d0021b" fill-opacity="0.92"/>
<circle cx="58.57" cy="306.74" r="1.75" fill="#eda0ad" fill-opacity="0.92"/>
<circle cx="59.59" cy="298.98" r="1.75" fill="#d0021b" fill-opacity="0.92"/>
<circle cx="58.52" cy="299.67" r="1.75" fill="#d0021b" fill-opacity="0.92"/>
<circle cx="61.71" cy="323.34" r="1.75" fill="#eda0ad" fill-opacity="0.92"/>
<circle cx="61.9" cy="295.79" r="1.75" fill="#d0021b" fill-opacity="0.92"/>
<circle cx="62.64" cy="320.09" r="1.75" fill="#e8788c" fill-opacity="0.92"/>
<circle cx="64.2" cy="300.65" r="1.6" fill="#fff" stroke="#bbb" stroke-width="0.5"/>
<circle cx="62.56" cy="301.54" r="1.75" fill="#d0021b" fill-opacity="0.92"/>
<circle cx="61.24" cy="295.89" r="1.6" fill="#fff" stroke="#bbb" stroke-width="0.5"/>
<circle cx="63.29" cy="304.78" r="1.75" fill="#d0021b" fill-opacity="0.92"/>
<circle cx="60.89" cy="285.08" r="1.75" fill="#d0021b" fill-opacity="0.92"/>
<circle cx="59.12" cy="269.31" r="1.6" fill="#fff" stroke="#bbb" stroke-width="0.5"/>
<circle cx="60.9" cy="324.89" r="1.75" fill="#d0021b" fill-opacity="0.92"/>
<circle cx="58.9" cy="323.62" r="1.75" fill="#d0021b" fill-opacity="0.92"/>
<circle cx="61.14" cy="315.11" r="1.75" fill="#d0021b" fill-opacity="0.92"/>
<circle cx="60.54" cy="312.71" r="1.75" fill="#d0021b" fill-opacity="0.92"/>
<circle cx="59.11" cy="276.74" r="1.75" fill="#eda0ad" fill-opacity="0.92"/>
<circle cx="59.41" cy="297.5" r="1.75" fill="#d0021b" fill-opacity="0.92"/>
<circle cx="64.19" cy="318.08" r="1.75" fill="#eda0ad" fill-opacity="0.92"/>
<circle cx="58.65" cy="276.85" r="1.75" fill="#d0021b" fill-opacity="0.92"/>
<circle cx="62.18" cy="306.1" r="1.75" fill="#d0021b" fill-opacity="0.92"/>
<circle cx="62.31" cy="311.96" r="1.75" fill="#d0021b" fill-opacity="0.92"/>
<circle cx="62.11" cy="308.48" r="1.75" fill="#dc3350" fill-opacity="0.92"/>
<circle cx="59.24" cy="302.4" r="1.75" fill="#dc3350" fill-opacity="0.92"/>
<circle cx="64.46" cy="329.38" r="1.75" fill="#dc3350" fill-opacity="0.92"/>
<circle cx="61.38" cy="315.83" r="1.75" fill="#d0021b" fill-opacity="0.92"/>
<circle cx="59.02" cy="297.79" r="1.75" fill="#d0021b" fill-opacity="0.92"/>
<circle cx="63" cy="325.12" r="1.75" fill="#d0021b" fill-opacity="0.92"/>
<circle cx="61.37" cy="298.2" r="1.75" fill="#d0021b" fill-opacity="0.92"/>
<circle cx="61.6" cy="289.67" r="1.75" fill="#d0021b" fill-opacity="0.92"/>
<circle cx="64.21" cy="298.52" r="1.75" fill="#e8788c" fill-opacity="0.92"/>
<circle cx="60.67" cy="272.71" r="1.75" fill="#e8788c" fill-opacity="0.92"/>
<circle cx="63.98" cy="283.66" r="1.75" fill="#e8788c" fill-opacity="0.92"/>
<circle cx="60.29" cy="291.93" r="1.6" fill="#fff" stroke="#bbb" stroke-width="0.5"/>
<circle cx="63.68" cy="322.89" r="1.75" fill="#d0021b" fill-opacity="0.92"/>
<circle cx="74.2" cy="275.1" r="1.75" fill="#d0021b" fill-opacity="0.92"/>
<circle cx="75.6" cy="333.5" r="1.6" fill="#fff" stroke="#bbb" stroke-width="0.5"/>
<circle cx="75" cy="276.12" r="1.75" fill="#d0021b" fill-opacity="0.92"/>
<circle cx="75.78" cy="301.29" r="1.75" fill="#d0021b" fill-opacity="0.92"/>
<circle cx="77.35" cy="298.86" r="1.75" fill="#d0021b" fill-opacity="0.92"/>
<circle cx="78.96" cy="311.93" r="1.75" fill="#d0021b" fill-opacity="0.92"/>
<circle cx="73.91" cy="289.62" r="1.75" fill="#dc3350" fill-opacity="0.92"/>
<circle cx="77.84" cy="300.6" r="1.75" fill="#d0021b" fill-opacity="0.92"/>
<circle cx="76.67" cy="292.77" r="1.75" fill="#eda0ad" fill-opacity="0.92"/>
<circle cx="78.88" cy="290.93" r="1.6" fill="#fff" stroke="#bbb" stroke-width="0.5"/>
<circle cx="78.62" cy="309.88" r="1.75" fill="#d0021b" fill-opacity="0.92"/>
<circle cx="76.29" cy="283.13" r="1.75" fill="#d0021b" fill-opacity="0.92"/>
<circle cx="73.13" cy="307.88" r="1.6" fill="#fff" stroke="#bbb" stroke-width="0.5"/>
<circle cx="73.62" cy="313.73" r="1.75" fill="#d0021b" fill-opacity="0.92"/>
<circle cx="75.6" cy="285.4" r="1.75" fill="#d0021b" fill-opacity="0.92"/>
<circle cx="77.96" cy="318.42" r="1.75" fill="#d0021b" fill-opacity="0.92"/>
<circle cx="73.17" cy="309.33" r="1.75" fill="#d0021b" fill-opacity="0.92"/>
<circle cx="74.76" cy="319.13" r="1.75" fill="#d0021b" fill-opacity="0.92"/>
<circle cx="77.58" cy="299.88" r="1.75" fill="#d0021b" fill-opacity="0.92"/>
<circle cx="74.56" cy="308.3" r="1.75" fill="#d0021b" fill-opacity="0.92"/>
<circle cx="78.01" cy="290.24" r="1.75" fill="#d0021b" fill-opacity="0.92"/>
<circle cx="78.46" cy="310.8" r="1.75" fill="#d0021b" fill-opacity="0.92"/>
<circle cx="78.39" cy="321.37" r="1.6" fill="#fff" stroke="#bbb" stroke-width="0.5"/>
<circle cx="76.5" cy="291.28" r="1.75" fill="#e8788c" fill-opacity="0.92"/>
<circle cx="75.52" cy="324.39" r="1.75" fill="#e8788c" fill-opacity="0.92"/>
<circle cx="73.78" cy="302.56" r="1.75" fill="#d0021b" fill-opacity="0.92"/>
<circle cx="76.14" cy="292.61" r="1.75" fill="#d0021b" fill-opacity="0.92"/>
<circle cx="78.24" cy="309.91" r="1.75" fill="#d0021b" fill-opacity="0.92"/>
<circle cx="76.65" cy="303.74" r="1.75" fill="#d0021b" fill-opacity="0.92"/>
<circle cx="74.03" cy="316.44" r="1.75" fill="#dc3350" fill-opacity="0.92"/>
<circle cx="76.71" cy="313.45" r="1.75" fill="#d0021b" fill-opacity="0.92"/>
<circle cx="76.34" cy="296.71" r="1.75" fill="#d0021b" fill-opacity="0.92"/>
<circle cx="77.09" cy="317.43" r="1.75" fill="#e8788c" fill-opacity="0.92"/>
<circle cx="76.33" cy="322.53" r="1.75" fill="#d0021b" fill-opacity="0.92"/>
<circle cx="78.3" cy="302.93" r="1.75" fill="#d0021b" fill-opacity="0.92"/>
<circle cx="74.49" cy="333.33" r="1.75" fill="#d0021b" fill-opacity="0.92"/>
<circle cx="73.25" cy="304.94" r="1.75" fill="#d0021b" fill-opacity="0.92"/>
<circle cx="76.05" cy="294.11" r="1.75" fill="#e8788c" fill-opacity="0.92"/>
<circle cx="73.17" cy="320.24" r="1.75" fill="#d0021b" fill-opacity="0.92"/>
<circle cx="75.66" cy="307.96" r="1.75" fill="#eda0ad" fill-opacity="0.92"/>
<circle cx="78.84" cy="298.89" r="1.75" fill="#eda0ad" fill-opacity="0.92"/>
<circle cx="76.07" cy="288.78" r="1.75" fill="#d0021b" fill-opacity="0.92"/>
<circle cx="88.63" cy="292.4" r="1.75" fill="#eda0ad" fill-opacity="0.92"/>
<circle cx="89.8" cy="344.4" r="1.6" fill="#fff" stroke="#bbb" stroke-width="0.5"/>
<circle cx="89.34" cy="325.36" r="1.75" fill="#d0021b" fill-opacity="0.92"/>
<circle cx="89.18" cy="294.76" r="1.75" fill="#e8788c" fill-opacity="0.92"/>
<circle cx="92.6" cy="316.27" r="1.6" fill="#fff" stroke="#bbb" stroke-width="0.5"/>
<circle cx="88.83" cy="315.77" r="1.6" fill="#fff" stroke="#bbb" stroke-width="0.5"/>
<circle cx="91.76" cy="302.26" r="1.75" fill="#e8788c" fill-opacity="0.92"/>
<circle cx="88.76" cy="321.3" r="1.75" fill="#dc3350" fill-opacity="0.92"/>
<circle cx="93.71" cy="307.36" r="1.75" fill="#dc3350" fill-opacity="0.92"/>
<circle cx="92.38" cy="299.01" r="1.75" fill="#d0021b" fill-opacity="0.92"/>
<circle cx="90.29" cy="315.25" r="1.75" fill="#eda0ad" fill-opacity="0.92"/>
<circle cx="88.88" cy="304.81" r="1.6" fill="#fff" stroke="#bbb" stroke-width="0.5"/>
<circle cx="104.05" cy="299.7" r="1.75" fill="#d0021b" fill-opacity="0.92"/>
<circle cx="105.72" cy="346.6" r="1.75" fill="#e8788c" fill-opacity="0.92"/>
<circle cx="105.92" cy="325.89" r="1.75" fill="#eda0ad" fill-opacity="0.92"/>
<circle cx="104.46" cy="318.76" r="1.75" fill="#d0021b" fill-opacity="0.92"/>
<circle cx="102.85" cy="313.67" r="1.75" fill="#eda0ad" fill-opacity="0.92"/>
<circle cx="103.6" cy="327.72" r="1.75" fill="#d0021b" fill-opacity="0.92"/>
<circle cx="104.11" cy="320.21" r="1.75" fill="#d0021b" fill-opacity="0.92"/>
<circle cx="106.31" cy="328.22" r="1.75" fill="#eda0ad" fill-opacity="0.92"/>
<circle cx="104.06" cy="317.42" r="1.75" fill="#e8788c" fill-opacity="0.92"/>
<circle cx="107.64" cy="336.1" r="1.75" fill="#d0021b" fill-opacity="0.92"/>
<circle cx="104.09" cy="334.4" r="1.75" fill="#d0021b" fill-opacity="0.92"/>
<circle cx="105.22" cy="324.67" r="1.75" fill="#d0021b" fill-opacity="0.92"/>
<circle cx="108.47" cy="321.74" r="1.75" fill="#dc3350" fill-opacity="0.92"/>
<circle cx="108.06" cy="323.91" r="1.75" fill="#d0021b" fill-opacity="0.92"/>
<circle cx="106.23" cy="317.27" r="1.75" fill="#d0021b" fill-opacity="0.92"/>
<circle cx="105.66" cy="334.03" r="1.75" fill="#d0021b" fill-opacity="0.92"/>
<circle cx="108.13" cy="320.1" r="1.75" fill="#d0021b" fill-opacity="0.92"/>
<circle cx="104.07" cy="323.05" r="1.75" fill="#d0021b" fill-opacity="0.92"/>
<circle cx="103.71" cy="338.74" r="1.75" fill="#d0021b" fill-opacity="0.92"/>
<circle cx="106.27" cy="321.85" r="1.75" fill="#e8788c" fill-opacity="0.92"/>
<circle cx="107.06" cy="327.38" r="1.75" fill="#d0021b" fill-opacity="0.92"/>
<circle cx="105.17" cy="322.57" r="1.75" fill="#eda0ad" fill-opacity="0.92"/>
<circle cx="103.57" cy="323.06" r="1.75" fill="#d0021b" fill-opacity="0.92"/>
<circle cx="107.32" cy="325.79" r="1.75" fill="#d0021b" fill-opacity="0.92"/>
<circle cx="102.72" cy="324.57" r="1.75" fill="#d0021b" fill-opacity="0.92"/>
<circle cx="106.9" cy="316.43" r="1.75" fill="#e8788c" fill-opacity="0.92"/>
<circle cx="108.37" cy="329.63" r="1.75" fill="#e8788c" fill-opacity="0.92"/>
<circle cx="105.35" cy="330" r="1.75" fill="#dc3350" fill-opacity="0.92"/>
<circle cx="103.14" cy="337.11" r="1.75" fill="#eda0ad" fill-opacity="0.92"/>
<circle cx="106.4" cy="314.7" r="1.75" fill="#eda0ad" fill-opacity="0.92"/>
<circle cx="118.49" cy="303.5" r="1.75" fill="#e8788c" fill-opacity="0.92"/>
<circle cx="120.96" cy="336.7" r="1.75" fill="#dc3350" fill-opacity="0.92"/>
<circle cx="119.56" cy="327.97" r="1.75" fill="#e8788c" fill-opacity="0.92"/>
<circle cx="118.41" cy="313.53" r="1.75" fill="#dc3350" fill-opacity="0.92"/>
<circle cx="118.38" cy="311.29" r="1.75" fill="#eda0ad" fill-opacity="0.92"/>
<circle cx="122.64" cy="311.94" r="1.75" fill="#eda0ad" fill-opacity="0.92"/>
<circle cx="118.74" cy="321.53" r="1.75" fill="#dc3350" fill-opacity="0.92"/>
<circle cx="122.59" cy="307.13" r="1.75" fill="#eda0ad" fill-opacity="0.92"/>
<circle cx="118.11" cy="315.97" r="1.75" fill="#e8788c" fill-opacity="0.92"/>
<circle cx="116.81" cy="334.7" r="1.75" fill="#eda0ad" fill-opacity="0.92"/>
<circle cx="117.3" cy="334.35" r="1.75" fill="#eda0ad" fill-opacity="0.92"/>
<circle cx="119.82" cy="329.68" r="1.75" fill="#e8788c" fill-opacity="0.92"/>
<circle cx="118.29" cy="326.79" r="1.75" fill="#dc3350" fill-opacity="0.92"/>
<circle cx="117.35" cy="335.8" r="1.75" fill="#dc3350" fill-opacity="0.92"/>
<circle cx="117.66" cy="311.31" r="1.75" fill="#eda0ad" fill-opacity="0.92"/>
<circle cx="105.5" cy="352" r="1.75" fill="#d0021b"/>
<circle cx="78" cy="263.3" r="1.75" fill="#d0021b"/>
<circle cx="104.5" cy="293" r="1.75" fill="#d0021b"/>
<circle cx="106" cy="295" r="1.75" fill="#d0021b"/>
<circle cx="134.4" cy="312.5" r="1.6" fill="#fff" stroke="#bbb" stroke-width="0.5"/>
<circle cx="134.4" cy="315.5" r="1.75" fill="#eda0ad"/>
<circle cx="134.4" cy="324.3" r="1.6" fill="#fff" stroke="#bbb" stroke-width="0.5"/>
<text transform="translate(216.3 197.8) scale(0.72 1)" font-size="9.07" text-anchor="middle" stroke="#1a1a1a" stroke-width="0.28">Log2 F.C.</text>
<line x1="168.8" y1="216.5" x2="262" y2="216.5" stroke="#262626" stroke-width="1.1"/>
<line x1="168.5" y1="216.1" x2="168.5" y2="272.5" stroke="#262626" stroke-width="1.1"/>
<line x1="168.5" y1="213.8" x2="168.5" y2="216.6" stroke="#262626" stroke-width="1"/>
<text x="168.8" y="210.7" font-size="7.6" text-anchor="middle">0.0</text>
<line x1="199.5" y1="213.8" x2="199.5" y2="216.6" stroke="#262626" stroke-width="1"/>
<text x="199.45" y="210.7" font-size="7.6" text-anchor="middle">0.5</text>
<line x1="230.5" y1="213.8" x2="230.5" y2="216.6" stroke="#262626" stroke-width="1"/>
<text x="230.1" y="210.7" font-size="7.6" text-anchor="middle">1.0</text>
<line x1="260.5" y1="213.8" x2="260.5" y2="216.6" stroke="#262626" stroke-width="1"/>
<text x="260.75" y="210.7" font-size="7.6" text-anchor="middle">1.5</text>
<line x1="166" y1="234.5" x2="168.8" y2="234.5" stroke="#262626" stroke-width="1"/>
<line x1="166" y1="260.5" x2="168.8" y2="260.5" stroke="#262626" stroke-width="1"/>
<rect x="169.3" y="225" width="61.2" height="17.4" fill="#e58a9c"/>
<rect x="169.3" y="251.5" width="10" height="16.3" fill="#86a8c9"/>
<line x1="217.4" y1="234.5" x2="245" y2="234.5" stroke="#333" stroke-width="1"/>
<line x1="217.5" y1="231" x2="217.5" y2="237" stroke="#333" stroke-width="1"/>
<line x1="245.5" y1="231" x2="245.5" y2="237" stroke="#333" stroke-width="1"/>
<circle cx="221.8" cy="234" r="1.5" fill="#c8102e"/>
<circle cx="223.6" cy="234" r="1.5" fill="#c8102e"/>
<circle cx="245.5" cy="234" r="1.5" fill="#c8102e"/>
<line x1="175" y1="260.5" x2="182.5" y2="260.5" stroke="#333" stroke-width="1"/>
<line x1="175.5" y1="257.5" x2="175.5" y2="262.5" stroke="#333" stroke-width="1"/>
<line x1="182.5" y1="257.5" x2="182.5" y2="262.5" stroke="#333" stroke-width="1"/>
<rect x="175.1" y="258.9" width="2.2" height="2.2" fill="#1c5592"/>
<rect x="176.7" y="257.9" width="2.2" height="2.2" fill="#1c5592"/>
<rect x="178.1" y="259.4" width="2.2" height="2.2" fill="#1c5592"/>
<rect x="179.7" y="258.3" width="2.2" height="2.2" fill="#1c5592"/>
<rect x="177.3" y="260.1" width="2.2" height="2.2" fill="#1c5592"/>
<polyline points="247,234 251.9,234 251.9,260 182.5,260" stroke="#333" stroke-width="1" fill="none"/>
<circle cx="256.2" cy="244.8" r="0.85" fill="#1a1a1a"/>
<circle cx="256.2" cy="247.6" r="0.85" fill="#1a1a1a"/>
<circle cx="256.2" cy="250.4" r="0.85" fill="#1a1a1a"/>
<rect x="168.8" y="278.6" width="3.6" height="3.6" fill="#c8102e"/>
<text x="175.3" y="282.9" font-size="7">shcontrol</text>
<rect x="214.4" y="278.6" width="3.6" height="3.6" fill="#1c5592"/>
<text x="220.8" y="282.9" font-size="7">shSMARCD1</text>
<rect x="165.9" y="319.6" width="79.8" height="23.4" fill="#d7d7d7"/>
<rect x="165.9" y="319.6" width="9.5" height="23.4" fill="#dfdfdf"/>
<rect x="165.9" y="345.8" width="79.8" height="16.6" fill="#d9d9d9"/>
<rect x="165.9" y="345.8" width="8" height="16.6" fill="#e0e0e0"/>
<rect x="175.6" y="331.2" width="13.8" height="6" rx="1" fill="#141414" filter="url(#bl2)"/>
<rect x="190.5" y="332.3" width="12.5" height="3.8" rx="1" fill="#828282" filter="url(#bl2)"/>
<rect x="204.2" y="332.1" width="11.8" height="4.2" rx="1" fill="#585858" filter="url(#bl2)"/>
<rect x="217.1" y="332.2" width="12.5" height="4" rx="1" fill="#686868" filter="url(#bl2)"/>
<rect x="231.6" y="331.2" width="12.7" height="6" rx="1" fill="#161616" filter="url(#bl2)"/>
<rect x="176.5" y="340" width="12" height="2.2" fill="#9a9a9a" filter="url(#bl)"/>
<rect x="174.3" y="352" width="12.5" height="4.6" rx="1" fill="#363636" filter="url(#bl2)"/>
<rect x="188" y="352.3" width="13" height="4" rx="1" fill="#646464" filter="url(#bl2)"/>
<rect x="202.6" y="350.8" width="13" height="7" rx="1" fill="#0c0c0c" filter="url(#bl2)"/>
<rect x="216.8" y="350.9" width="13.3" height="6.8" rx="1" fill="#0c0c0c" filter="url(#bl2)"/>
<rect x="231.3" y="351.8" width="12.9" height="5" rx="1" fill="#363636" filter="url(#bl2)"/>
<text x="249" y="334.2" font-size="7.9">SMARCD1</text>
<text x="249" y="356.5" font-size="7.9">ACTB</text>
<text transform="translate(178.3 317.2) rotate(-45)" font-size="7.6">WT</text>
<text x="210" y="314.6" font-size="7.6" text-anchor="middle">shSMARCD1</text>
<line x1="189.6" y1="316.5" x2="230.4" y2="316.5" stroke="#222" stroke-width="0.9"/>
<text transform="translate(239.4 319.2) rotate(-45)" font-size="7.6">shcontrol</text>
<g>
<path d="M393.86 241.39h0.9v0.9h-0.9zM379.2 230.94h0.9v0.9h-0.9zM365.29 241.09h0.9v0.9h-0.9zM366.13 230.63h0.9v0.9h-0.9zM380.79 236.63h0.9v0.9h-0.9zM384.96 227.98h0.9v0.9h-0.9zM378.46 236.03h0.9v0.9h-0.9zM360.33 246.25h0.9v0.9h-0.9zM382.25 251.77h0.9v0.9h-0.9zM380.84 234.69h0.9v0.9h-0.9zM393.19 232.95h0.9v0.9h-0.9zM389.31 230.33h0.9v0.9h-0.9zM381.02 242.72h0.9v0.9h-0.9zM386.75 234.61h0.9v0.9h-0.9zM365.41 243.91h0.9v0.9h-0.9zM379.32 241.18h0.9v0.9h-0.9zM380.99 243.17h0.9v0.9h-0.9zM377.78 238.11h0.9v0.9h-0.9zM386.4 226.3h0.9v0.9h-0.9zM373.58 234.64h0.9v0.9h-0.9zM402.17 227.93h0.9v0.9h-0.9zM386.23 238.18h0.9v0.9h-0.9zM375.03 226.88h0.9v0.9h-0.9zM389.98 229.82h0.9v0.9h-0.9zM387.02 224.59h0.9v0.9h-0.9zM373.14 246.96h0.9v0.9h-0.9zM395.57 221.75h0.9v0.9h-0.9zM362.41 241.52h0.9v0.9h-0.9zM387.14 234.7h0.9v0.9h-0.9zM382.04 228.43h0.9v0.9h-0.9zM385.44 241.89h0.9v0.9h-0.9zM373.17 228.31h0.9v0.9h-0.9zM369.29 244.81h0.9v0.9h-0.9zM357.6 242.8h0.9v0.9h-0.9zM366.51 239.56h0.9v0.9h-0.9zM375.47 237.59h0.9v0.9h-0.9zM396.41 233.41h0.9v0.9h-0.9zM394.4 230.19h0.9v0.9h-0.9zM372.64 241.04h0.9v0.9h-0.9zM380.32 227.3h0.9v0.9h-0.9zM383.97 230.77h0.9v0.9h-0.9zM366.65 236.81h0.9v0.9h-0.9zM376.57 245.78h0.9v0.9h-0.9zM379.64 235.89h0.9v0.9h-0.9zM383.07 222.39h0.9v0.9h-0.9zM393.28 224.08h0.9v0.9h-0.9zM383.67 226.94h0.9v0.9h-0.9zM366.68 237.66h0.9v0.9h-0.9zM401.15 233.75h0.9v0.9h-0.9zM371.15 236.95h0.9v0.9h-0.9zM364.58 240.87h0.9v0.9h-0.9zM371.52 243.79h0.9v0.9h-0.9zM362.12 239.61h0.9v0.9h-0.9zM368.3 234.89h0.9v0.9h-0.9zM386.93 234.53h0.9v0.9h-0.9zM385.42 242.4h0.9v0.9h-0.9zM392.19 222.4h0.9v0.9h-0.9zM384.84 222.15h0.9v0.9h-0.9zM377.63 250.05h0.9v0.9h-0.9zM376.08 234.72h0.9v0.9h-0.9zM380.44 235.94h0.9v0.9h-0.9zM378.72 231.15h0.9v0.9h-0.9zM391.38 238.33h0.9v0.9h-0.9zM375.85 239.53h0.9v0.9h-0.9zM386.3 241.02h0.9v0.9h-0.9zM383.11 239.74h0.9v0.9h-0.9zM375.24 230.14h0.9v0.9h-0.9zM372.46 245.54h0.9v0.9h-0.9zM390.13 233.6h0.9v0.9h-0.9zM371.59 240.9h0.9v0.9h-0.9zM398.36 239.23h0.9v0.9h-0.9zM370.2 238.93h0.9v0.9h-0.9zM360.98 234.44h0.9v0.9h-0.9zM380.66 235.92h0.9v0.9h-0.9zM389.98 241.42h0.9v0.9h-0.9zM388.42 242.3h0.9v0.9h-0.9zM371.83 230.87h0.9v0.9h-0.9zM384.41 253.06h0.9v0.9h-0.9zM382.68 227.09h0.9v0.9h-0.9zM381.31 245.41h0.9v0.9h-0.9zM365.99 246.2h0.9v0.9h-0.9zM371.07 247.76h0.9v0.9h-0.9zM387.83 235.46h0.9v0.9h-0.9zM402.4 225.67h0.9v0.9h-0.9zM370.17 252.1h0.9v0.9h-0.9zM367.88 255.24h0.9v0.9h-0.9zM377.92 229.48h0.9v0.9h-0.9zM378.38 237.41h0.9v0.9h-0.9zM380.81 234.37h0.9v0.9h-0.9zM391.37 216.1h0.9v0.9h-0.9zM371.74 236.9h0.9v0.9h-0.9zM400.24 215.42h0.9v0.9h-0.9zM374.32 229.94h0.9v0.9h-0.9zM370.42 243.6h0.9v0.9h-0.9zM383.33 244.83h0.9v0.9h-0.9zM371.21 240.76h0.9v0.9h-0.9zM392.48 238.07h0.9v0.9h-0.9zM374.37 245.66h0.9v0.9h-0.9zM367.31 252.69h0.9v0.9h-0.9zM380.25 235.1h0.9v0.9h-0.9zM381.65 241.3h0.9v0.9h-0.9zM399.3 228.55h0.9v0.9h-0.9zM373.99 242.03h0.9v0.9h-0.9zM367.94 228.23h0.9v0.9h-0.9zM388.43 230.53h0.9v0.9h-0.9zM391.92 224.88h0.9v0.9h-0.9zM380.26 246.97h0.9v0.9h-0.9zM384.71 236.54h0.9v0.9h-0.9zM385.44 231.61h0.9v0.9h-0.9zM379.33 226.82h0.9v0.9h-0.9zM384.63 228.84h0.9v0.9h-0.9zM373.05 243.13h0.9v0.9h-0.9zM389.39 225.86h0.9v0.9h-0.9zM402.45 224.39h0.9v0.9h-0.9zM388.42 239.75h0.9v0.9h-0.9zM381.09 236.8h0.9v0.9h-0.9zM399.97 235.48h0.9v0.9h-0.9zM383.75 222.08h0.9v0.9h-0.9zM369.43 247.54h0.9v0.9h-0.9zM380.73 229.11h0.9v0.9h-0.9zM370.69 236.95h0.9v0.9h-0.9zM386.63 236.44h0.9v0.9h-0.9zM390.37 226.85h0.9v0.9h-0.9zM390.23 229.08h0.9v0.9h-0.9zM374.81 249.7h0.9v0.9h-0.9zM379.29 235.24h0.9v0.9h-0.9zM375.88 234.67h0.9v0.9h-0.9zM397.11 239.8h0.9v0.9h-0.9zM387 234.91h0.9v0.9h-0.9zM390.91 231.79h0.9v0.9h-0.9zM383.83 237.47h0.9v0.9h-0.9zM379.47 247.56h0.9v0.9h-0.9zM399.46 238.65h0.9v0.9h-0.9zM355.44 256.87h0.9v0.9h-0.9zM386.83 230.57h0.9v0.9h-0.9zM378.11 244.48h0.9v0.9h-0.9zM392.5 237.72h0.9v0.9h-0.9zM380.09 236.18h0.9v0.9h-0.9zM388.38 232.54h0.9v0.9h-0.9zM367.62 235.77h0.9v0.9h-0.9zM376.72 239.36h0.9v0.9h-0.9zM405.56 217.95h0.9v0.9h-0.9zM384.13 233.96h0.9v0.9h-0.9zM382.01 244.68h0.9v0.9h-0.9zM393.3 230.45h0.9v0.9h-0.9zM371.71 229.29h0.9v0.9h-0.9zM377.54 245.42h0.9v0.9h-0.9zM375.22 242.44h0.9v0.9h-0.9zM386.9 236.42h0.9v0.9h-0.9zM391.41 231.38h0.9v0.9h-0.9zM368.45 231.69h0.9v0.9h-0.9zM389.52 230.28h0.9v0.9h-0.9zM374.67 243.52h0.9v0.9h-0.9zM368.93 251.92h0.9v0.9h-0.9zM386.39 230.18h0.9v0.9h-0.9zM370.8 246.53h0.9v0.9h-0.9zM364.19 236.79h0.9v0.9h-0.9zM378.47 237.88h0.9v0.9h-0.9zM378.58 239.12h0.9v0.9h-0.9zM374.03 237.12h0.9v0.9h-0.9zM393.58 235.91h0.9v0.9h-0.9zM373 250.18h0.9v0.9h-0.9zM354.51 245.05h0.9v0.9h-0.9zM386.42 240.56h0.9v0.9h-0.9zM379.74 233.39h0.9v0.9h-0.9zM385.43 232.82h0.9v0.9h-0.9zM384.1 214.81h0.9v0.9h-0.9zM382.98 229.5h0.9v0.9h-0.9zM389.69 237.92h0.9v0.9h-0.9zM387.15 230.78h0.9v0.9h-0.9zM383.61 232.39h0.9v0.9h-0.9zM380.98 234.7h0.9v0.9h-0.9zM367.94 253.68h0.9v0.9h-0.9zM387.09 219.36h0.9v0.9h-0.9zM389.12 223.27h0.9v0.9h-0.9zM375.62 233.4h0.9v0.9h-0.9zM371.99 240.31h0.9v0.9h-0.9zM374.49 227.77h0.9v0.9h-0.9zM378.33 239.05h0.9v0.9h-0.9zM399.63 226.55h0.9v0.9h-0.9zM364.13 238.62h0.9v0.9h-0.9zM386.24 227.76h0.9v0.9h-0.9zM369.75 243.22h0.9v0.9h-0.9zM378.27 238.08h0.9v0.9h-0.9zM370.85 233.29h0.9v0.9h-0.9zM374.51 236.73h0.9v0.9h-0.9zM374.39 240.82h0.9v0.9h-0.9zM384.97 238.11h0.9v0.9h-0.9zM384.15 228.45h0.9v0.9h-0.9zM364.97 246.53h0.9v0.9h-0.9zM378.55 237.29h0.9v0.9h-0.9zM364.48 239.67h0.9v0.9h-0.9zM370.75 233.06h0.9v0.9h-0.9zM370.84 228.67h0.9v0.9h-0.9zM379.42 244.24h0.9v0.9h-0.9zM369.91 239.99h0.9v0.9h-0.9zM365.29 245.52h0.9v0.9h-0.9zM400.76 220.5h0.9v0.9h-0.9zM375.67 247.28h0.9v0.9h-0.9zM382.81 235.82h0.9v0.9h-0.9zM353.88 243.63h0.9v0.9h-0.9zM389.42 242.78h0.9v0.9h-0.9zM386.1 229.92h0.9v0.9h-0.9zM370.16 226.64h0.9v0.9h-0.9zM365.49 248.58h0.9v0.9h-0.9zM377.03 227.68h0.9v0.9h-0.9zM394.23 219.63h0.9v0.9h-0.9zM393.53 229.22h0.9v0.9h-0.9zM382.47 239.85h0.9v0.9h-0.9zM381.55 244.26h0.9v0.9h-0.9zM378.59 234.17h0.9v0.9h-0.9zM370.46 229.14h0.9v0.9h-0.9zM370.06 246.08h0.9v0.9h-0.9zM388.3 242.84h0.9v0.9h-0.9zM411.13 230.53h0.9v0.9h-0.9zM384.41 225.39h0.9v0.9h-0.9zM375.49 252.68h0.9v0.9h-0.9zM384.76 233.43h0.9v0.9h-0.9zM382.11 222.13h0.9v0.9h-0.9zM368.39 230.76h0.9v0.9h-0.9zM352.74 250.38h0.9v0.9h-0.9zM389.99 231.41h0.9v0.9h-0.9zM382.56 228.14h0.9v0.9h-0.9zM383.83 239.98h0.9v0.9h-0.9zM396.82 241.17h0.9v0.9h-0.9zM384.25 233.67h0.9v0.9h-0.9zM368.49 235.61h0.9v0.9h-0.9zM385.8 237.95h0.9v0.9h-0.9zM378.62 247.95h0.9v0.9h-0.9zM386.18 234.02h0.9v0.9h-0.9zM376.11 237.8h0.9v0.9h-0.9zM367.01 233.51h0.9v0.9h-0.9zM382.57 231.06h0.9v0.9h-0.9zM375.15 246.04h0.9v0.9h-0.9zM376.08 246.37h0.9v0.9h-0.9zM378.3 247.04h0.9v0.9h-0.9zM383.97 222.46h0.9v0.9h-0.9zM393.26 230.11h0.9v0.9h-0.9zM354.83 245.14h0.9v0.9h-0.9zM380.26 226.94h0.9v0.9h-0.9zM371.11 242.72h0.9v0.9h-0.9zM395.35 238.75h0.9v0.9h-0.9zM393.07 239.37h0.9v0.9h-0.9zM380.65 217.13h0.9v0.9h-0.9zM387.64 239.6h0.9v0.9h-0.9zM369.1 236.97h0.9v0.9h-0.9zM367.13 240.13h0.9v0.9h-0.9zM377.91 236.61h0.9v0.9h-0.9zM366.14 243.27h0.9v0.9h-0.9zM374.31 244.45h0.9v0.9h-0.9zM382.16 224.97h0.9v0.9h-0.9zM361.09 242.75h0.9v0.9h-0.9zM372.58 241.7h0.9v0.9h-0.9zM388.07 233.41h0.9v0.9h-0.9zM358.18 234.96h0.9v0.9h-0.9zM385.27 226.93h0.9v0.9h-0.9z" fill="#222" fill-opacity="0.45"/>
<path d="M372.05 244.26h0.9v0.9h-0.9zM368.52 241.62h0.9v0.9h-0.9zM364.8 233.97h0.9v0.9h-0.9zM364.15 247.92h0.9v0.9h-0.9zM360.02 242.92h0.9v0.9h-0.9zM365.08 245.8h0.9v0.9h-0.9zM360.55 248.79h0.9v0.9h-0.9zM355.53 251.18h0.9v0.9h-0.9zM356.98 243.4h0.9v0.9h-0.9zM373.39 240.54h0.9v0.9h-0.9zM355.48 247.12h0.9v0.9h-0.9zM359.88 241.86h0.9v0.9h-0.9zM361.19 243.15h0.9v0.9h-0.9zM359.55 242.25h0.9v0.9h-0.9zM375.07 241.58h0.9v0.9h-0.9zM371.23 239.22h0.9v0.9h-0.9zM368.67 240.16h0.9v0.9h-0.9zM362.65 248.36h0.9v0.9h-0.9zM362.22 238.22h0.9v0.9h-0.9zM362.09 245.32h0.9v0.9h-0.9zM368.84 241.13h0.9v0.9h-0.9zM363.61 245.98h0.9v0.9h-0.9zM355.51 246.4h0.9v0.9h-0.9zM360.43 247.88h0.9v0.9h-0.9zM364.74 244.94h0.9v0.9h-0.9zM350.91 247.01h0.9v0.9h-0.9zM363.18 242.1h0.9v0.9h-0.9zM362.34 240.96h0.9v0.9h-0.9zM366.45 247.95h0.9v0.9h-0.9zM368.98 242.99h0.9v0.9h-0.9zM375.48 247.5h0.9v0.9h-0.9zM359.71 245.71h0.9v0.9h-0.9zM355.62 246.34h0.9v0.9h-0.9zM369.68 249.9h0.9v0.9h-0.9zM362.89 238.82h0.9v0.9h-0.9zM364.38 250.97h0.9v0.9h-0.9zM366.26 250.38h0.9v0.9h-0.9zM370.37 250.95h0.9v0.9h-0.9zM368.99 242.42h0.9v0.9h-0.9zM368.07 255.09h0.9v0.9h-0.9zM362.29 238.64h0.9v0.9h-0.9zM378.02 245.42h0.9v0.9h-0.9zM361.64 243.62h0.9v0.9h-0.9zM356.16 249.49h0.9v0.9h-0.9zM366.26 242.9h0.9v0.9h-0.9zM362.86 244.16h0.9v0.9h-0.9zM371.8 243.93h0.9v0.9h-0.9zM373.68 241.11h0.9v0.9h-0.9zM361.73 244.1h0.9v0.9h-0.9zM362.17 245.57h0.9v0.9h-0.9zM371.55 249.42h0.9v0.9h-0.9zM358.97 251.37h0.9v0.9h-0.9zM365.97 251.65h0.9v0.9h-0.9zM364.39 242.35h0.9v0.9h-0.9zM370.14 247.31h0.9v0.9h-0.9zM362.65 245.95h0.9v0.9h-0.9zM366.18 246.62h0.9v0.9h-0.9zM355.11 242.15h0.9v0.9h-0.9zM365.73 246.47h0.9v0.9h-0.9zM362.25 239.02h0.9v0.9h-0.9zM373.46 243.22h0.9v0.9h-0.9zM359.12 252.59h0.9v0.9h-0.9zM372.19 248.66h0.9v0.9h-0.9zM370.41 247.06h0.9v0.9h-0.9zM359.56 246.4h0.9v0.9h-0.9zM367.53 247.7h0.9v0.9h-0.9zM368.25 241.17h0.9v0.9h-0.9zM361.77 244.68h0.9v0.9h-0.9zM364.23 242.23h0.9v0.9h-0.9zM354.46 242.19h0.9v0.9h-0.9zM367.24 245.21h0.9v0.9h-0.9zM368.88 237.64h0.9v0.9h-0.9zM362.9 249.32h0.9v0.9h-0.9zM353.63 242.83h0.9v0.9h-0.9zM355.41 251.58h0.9v0.9h-0.9zM365.59 243.23h0.9v0.9h-0.9zM366.3 245.03h0.9v0.9h-0.9zM370.83 249.36h0.9v0.9h-0.9zM370.89 246.11h0.9v0.9h-0.9zM369.98 248.07h0.9v0.9h-0.9zM372.39 237.37h0.9v0.9h-0.9zM367.47 245.53h0.9v0.9h-0.9zM366.36 244.4h0.9v0.9h-0.9zM364.96 247.5h0.9v0.9h-0.9zM366.59 245.84h0.9v0.9h-0.9zM358.96 241.43h0.9v0.9h-0.9zM360.91 239.11h0.9v0.9h-0.9zM362.3 242.59h0.9v0.9h-0.9zM354.62 239.34h0.9v0.9h-0.9zM362.58 243.6h0.9v0.9h-0.9zM378.44 247.15h0.9v0.9h-0.9zM360.71 244.17h0.9v0.9h-0.9zM359.33 243.22h0.9v0.9h-0.9zM363.3 245.59h0.9v0.9h-0.9zM361.66 249.22h0.9v0.9h-0.9zM369.27 252.65h0.9v0.9h-0.9zM357.54 249.2h0.9v0.9h-0.9zM363.15 239.51h0.9v0.9h-0.9zM363.59 239.3h0.9v0.9h-0.9zM365.24 256.25h0.9v0.9h-0.9zM373.23 251.59h0.9v0.9h-0.9zM372.57 238.48h0.9v0.9h-0.9zM367.88 245.73h0.9v0.9h-0.9zM368.01 241.08h0.9v0.9h-0.9zM353.51 255.33h0.9v0.9h-0.9zM372.55 245.75h0.9v0.9h-0.9zM362.45 246.61h0.9v0.9h-0.9zM357.96 250.25h0.9v0.9h-0.9zM366.39 244.78h0.9v0.9h-0.9zM362.82 245.58h0.9v0.9h-0.9zM366.19 243.82h0.9v0.9h-0.9zM371.17 245.55h0.9v0.9h-0.9zM364.83 242.2h0.9v0.9h-0.9zM372.71 249.61h0.9v0.9h-0.9zM369.53 237.72h0.9v0.9h-0.9zM363.31 249.67h0.9v0.9h-0.9zM365.62 250.47h0.9v0.9h-0.9zM362.77 248.97h0.9v0.9h-0.9zM368.55 235.49h0.9v0.9h-0.9zM362.96 244.9h0.9v0.9h-0.9zM361.64 242.5h0.9v0.9h-0.9zM374.94 243.76h0.9v0.9h-0.9zM370.14 239.62h0.9v0.9h-0.9zM352.93 245.31h0.9v0.9h-0.9zM367.84 242.34h0.9v0.9h-0.9zM368.58 248.22h0.9v0.9h-0.9zM362.71 245.62h0.9v0.9h-0.9zM360.97 250.32h0.9v0.9h-0.9zM376.01 246.03h0.9v0.9h-0.9zM362.37 243.14h0.9v0.9h-0.9zM363.73 249.21h0.9v0.9h-0.9zM360.86 251.9h0.9v0.9h-0.9zM358.07 246.45h0.9v0.9h-0.9zM373.3 251.44h0.9v0.9h-0.9zM362.96 248.93h0.9v0.9h-0.9zM380.58 248.05h0.9v0.9h-0.9zM352.25 248.35h0.9v0.9h-0.9zM379.66 239.05h0.9v0.9h-0.9zM370.88 236.59h0.9v0.9h-0.9zM374.93 240.92h0.9v0.9h-0.9zM370.25 248.43h0.9v0.9h-0.9zM367.38 239.27h0.9v0.9h-0.9zM365.28 241.8h0.9v0.9h-0.9zM373.46 242.43h0.9v0.9h-0.9zM359.91 248.75h0.9v0.9h-0.9zM372.74 243.91h0.9v0.9h-0.9zM367.08 247.21h0.9v0.9h-0.9zM362.43 241.24h0.9v0.9h-0.9zM368.59 243.69h0.9v0.9h-0.9zM357.19 249.95h0.9v0.9h-0.9zM368.01 245.71h0.9v0.9h-0.9zM360.88 245.23h0.9v0.9h-0.9zM369.06 246.91h0.9v0.9h-0.9zM360.45 242.62h0.9v0.9h-0.9zM367.45 245.95h0.9v0.9h-0.9zM370.49 240.28h0.9v0.9h-0.9zM370.93 251.67h0.9v0.9h-0.9zM371.09 245.25h0.9v0.9h-0.9zM370.84 239.73h0.9v0.9h-0.9zM362.74 253.93h0.9v0.9h-0.9zM355.59 242.27h0.9v0.9h-0.9zM370.34 242.27h0.9v0.9h-0.9zM362.01 241.56h0.9v0.9h-0.9zM375.49 241.77h0.9v0.9h-0.9zM363.73 238.62h0.9v0.9h-0.9zM370.02 244.85h0.9v0.9h-0.9zM368.39 251.3h0.9v0.9h-0.9zM366.32 240.71h0.9v0.9h-0.9zM359.32 246.63h0.9v0.9h-0.9zM373.32 239.75h0.9v0.9h-0.9zM363.92 245.13h0.9v0.9h-0.9zM369.34 241.48h0.9v0.9h-0.9zM367.27 248.32h0.9v0.9h-0.9zM365.17 245.15h0.9v0.9h-0.9zM369.11 247.28h0.9v0.9h-0.9zM372.95 240.26h0.9v0.9h-0.9zM372.78 243.62h0.9v0.9h-0.9zM358.57 244.24h0.9v0.9h-0.9zM358 245.7h0.9v0.9h-0.9zM371.6 235.86h0.9v0.9h-0.9zM358.31 249.46h0.9v0.9h-0.9zM363.59 248.85h0.9v0.9h-0.9zM357.43 246.36h0.9v0.9h-0.9zM349.76 244.27h0.9v0.9h-0.9zM369.84 249.67h0.9v0.9h-0.9zM375.19 243.98h0.9v0.9h-0.9zM360.13 244.69h0.9v0.9h-0.9zM353.89 252.34h0.9v0.9h-0.9zM372.47 240.99h0.9v0.9h-0.9zM376.39 238.73h0.9v0.9h-0.9zM368.76 241.88h0.9v0.9h-0.9zM354.97 248.44h0.9v0.9h-0.9zM358.45 251.11h0.9v0.9h-0.9zM360 246.63h0.9v0.9h-0.9zM362.53 246.41h0.9v0.9h-0.9zM361.61 249.22h0.9v0.9h-0.9zM369.06 245.29h0.9v0.9h-0.9zM364.64 253.33h0.9v0.9h-0.9zM361.22 244.34h0.9v0.9h-0.9zM370.03 244.84h0.9v0.9h-0.9zM355.6 246.25h0.9v0.9h-0.9zM363.09 241.91h0.9v0.9h-0.9zM366.57 240.89h0.9v0.9h-0.9zM363.9 241.25h0.9v0.9h-0.9zM374.77 243.14h0.9v0.9h-0.9zM368.05 246.27h0.9v0.9h-0.9zM369.63 244.34h0.9v0.9h-0.9zM369.92 245.39h0.9v0.9h-0.9zM350.72 248.68h0.9v0.9h-0.9zM357.65 250.26h0.9v0.9h-0.9zM366.71 243.86h0.9v0.9h-0.9zM350.26 239.14h0.9v0.9h-0.9zM358.34 244.96h0.9v0.9h-0.9zM357.12 254.38h0.9v0.9h-0.9zM368.15 244.79h0.9v0.9h-0.9zM359.48 244.96h0.9v0.9h-0.9zM363.97 243.95h0.9v0.9h-0.9zM364.93 248.72h0.9v0.9h-0.9zM354.83 247.79h0.9v0.9h-0.9zM372.01 239.25h0.9v0.9h-0.9zM364.26 244.15h0.9v0.9h-0.9zM358.54 250.14h0.9v0.9h-0.9zM363.44 250.25h0.9v0.9h-0.9zM367.87 244.08h0.9v0.9h-0.9zM367.12 243.8h0.9v0.9h-0.9zM355.55 252.39h0.9v0.9h-0.9zM367.6 249.74h0.9v0.9h-0.9zM354.53 251.05h0.9v0.9h-0.9zM370.35 244.68h0.9v0.9h-0.9zM352.68 247.59h0.9v0.9h-0.9zM361.39 245.28h0.9v0.9h-0.9zM365.73 241.91h0.9v0.9h-0.9zM364.62 245.65h0.9v0.9h-0.9zM374.16 243.93h0.9v0.9h-0.9zM379.51 238.98h0.9v0.9h-0.9zM364.58 250.47h0.9v0.9h-0.9zM355.97 249.18h0.9v0.9h-0.9zM367.77 242.82h0.9v0.9h-0.9zM363.96 251.75h0.9v0.9h-0.9zM362.71 246.95h0.9v0.9h-0.9zM367.99 249.89h0.9v0.9h-0.9zM353 241.38h0.9v0.9h-0.9zM357.35 245.47h0.9v0.9h-0.9zM369.08 248.27h0.9v0.9h-0.9zM363.68 251.67h0.9v0.9h-0.9zM364.95 248.27h0.9v0.9h-0.9zM360.84 249.37h0.9v0.9h-0.9zM361.08 250.62h0.9v0.9h-0.9zM370.58 252.14h0.9v0.9h-0.9z" fill="#222" fill-opacity="0.5"/>
<ellipse cx="364.2" cy="246.1" rx="8.2" ry="6" fill="none" stroke="#222" stroke-width="0.7" opacity="1" transform="rotate(-15 364.2 246.1)"/>
<ellipse cx="364" cy="246.6" rx="7.2" ry="5.1" fill="#555" stroke="#111" stroke-width="0.8" opacity="1" transform="rotate(-10 364 246.6)"/>
<ellipse cx="363.7" cy="247.1" rx="6.3" ry="4.3" fill="#111" stroke="none" stroke-width="0" opacity="1" transform="rotate(0 363.7 247.1)"/>
</g>
<rect x="348.4" y="200.5" width="67.6" height="66.2" fill="none" stroke="#111" stroke-width="1"/>
<line x1="376.5" y1="200.5" x2="376.5" y2="266.7" stroke="#111" stroke-width="1"/>
<line x1="348.4" y1="237.5" x2="416" y2="237.5" stroke="#111" stroke-width="1"/>
<text x="351" y="208.5" font-size="7.2">1.66</text>
<text x="414" y="208.5" font-size="7.2" text-anchor="end">0.92</text>
<text x="351" y="264.1" font-size="7.2">96.5</text>
<text x="414" y="264.1" font-size="7.2" text-anchor="end">0.91</text>
<text x="382.7" y="197.9" font-size="8.2" text-anchor="middle">shcontrol UI</text>
<text x="343.4" y="210.2" font-size="7.6" text-anchor="end">10<tspan font-size="5.93" dy="-3.19">5</tspan></text>
<text x="343.4" y="226.2" font-size="7.6" text-anchor="end">10<tspan font-size="5.93" dy="-3.19">4</tspan></text>
<text x="343.4" y="244" font-size="7.6" text-anchor="end">10<tspan font-size="5.93" dy="-3.19">3</tspan></text>
<text x="343.4" y="254.7" font-size="7.6" text-anchor="end">0</text>
<text x="343.4" y="265.7" font-size="7.6" text-anchor="end">−10<tspan font-size="5.93" dy="-3.19">3</tspan></text>
<path d="M347.9 203.5h-2M347.9 205.5h-2M347.9 207.5h-2M347.9 209.5h-2M347.9 212.5h-2M347.9 215.5h-2M347.9 218.5h-2M347.9 220.5h-2M347.9 223.5h-2M347.9 226.5h-2M347.9 229.5h-2M347.9 232.5h-2M347.9 235.5h-2M347.9 237.5h-2M347.9 239.5h-2M347.9 241.3h-2M347.9 242.5h-2M347.9 244.5h-2M347.9 246.5h-2M347.9 248h-2M347.9 249.5h-2M347.9 250.5h-2M347.9 251.5h-2M347.9 252.5h-2M347.9 253.5h-2M347.9 254.5h-2M347.9 256.5h-2M347.9 258.5h-2M347.9 260.5h-2M347.9 263h-2M355.4 267.2v2M357.4 267.2v2M359.4 267.2v2M361.4 267.2v2M362.4 267.2v2M363.4 267.2v2M364.4 267.2v2M365.4 267.2v2M366.4 267.2v2M367.4 267.2v2M369.4 267.2v2M371.4 267.2v2M374.4 267.2v2M377.4 267.2v2M380.4 267.2v2M383.4 267.2v2M386.4 267.2v2M389.4 267.2v2M392.4 267.2v2M395.4 267.2v2M398.4 267.2v2M401.4 267.2v2M404.4 267.2v2M407.4 267.2v2M410.4 267.2v2M412.4 267.2v2" stroke="#222" stroke-width="0.6"/>
<text x="353.6" y="279" font-size="7.5" text-anchor="middle">−10<tspan font-size="5.85" dy="-3.15">3</tspan></text>
<text x="364.9" y="279" font-size="7.5" text-anchor="middle">0</text>
<text x="375.7" y="279" font-size="7.5" text-anchor="middle">10<tspan font-size="5.85" dy="-3.15">3</tspan></text>
<text x="395.6" y="279" font-size="7.5" text-anchor="middle">10<tspan font-size="5.85" dy="-3.15">4</tspan></text>
<text x="411.6" y="279" font-size="7.5" text-anchor="middle">10<tspan font-size="5.85" dy="-3.15">5</tspan></text>
<g>
<path d="M486.54 227.1h0.9v0.9h-0.9zM491.82 213.66h0.9v0.9h-0.9zM476.82 223.38h0.9v0.9h-0.9zM468.9 225.21h0.9v0.9h-0.9zM475.65 227.28h0.9v0.9h-0.9zM470.92 234.17h0.9v0.9h-0.9zM475.23 205.32h0.9v0.9h-0.9zM496.09 219.97h0.9v0.9h-0.9zM472.88 232.38h0.9v0.9h-0.9zM484.56 227.02h0.9v0.9h-0.9zM471.55 232.22h0.9v0.9h-0.9zM463.35 244.34h0.9v0.9h-0.9zM466.61 230.77h0.9v0.9h-0.9zM482.03 229.09h0.9v0.9h-0.9zM478.84 232.11h0.9v0.9h-0.9zM478.33 224.33h0.9v0.9h-0.9zM498.61 213.74h0.9v0.9h-0.9zM479.24 211.87h0.9v0.9h-0.9zM483.51 213.59h0.9v0.9h-0.9zM461.3 251.02h0.9v0.9h-0.9zM488.71 224.23h0.9v0.9h-0.9zM482.28 215.32h0.9v0.9h-0.9zM467.48 234.31h0.9v0.9h-0.9zM454.55 237.27h0.9v0.9h-0.9zM459.15 234.64h0.9v0.9h-0.9zM466.7 244.8h0.9v0.9h-0.9zM492.58 219.09h0.9v0.9h-0.9zM457.21 228.29h0.9v0.9h-0.9zM479.53 219.58h0.9v0.9h-0.9zM483.67 233.52h0.9v0.9h-0.9zM479.55 223.87h0.9v0.9h-0.9zM489.74 221.69h0.9v0.9h-0.9zM490.57 221.25h0.9v0.9h-0.9zM499.91 218.58h0.9v0.9h-0.9zM467.31 231.87h0.9v0.9h-0.9zM472.52 222.23h0.9v0.9h-0.9zM478.7 233.28h0.9v0.9h-0.9zM453.89 235.08h0.9v0.9h-0.9zM478.4 226.48h0.9v0.9h-0.9zM490.06 213.83h0.9v0.9h-0.9zM488.34 222.7h0.9v0.9h-0.9zM481.66 224.9h0.9v0.9h-0.9zM476.31 224.28h0.9v0.9h-0.9zM485.39 241.68h0.9v0.9h-0.9zM493.26 229.56h0.9v0.9h-0.9zM487.26 221.24h0.9v0.9h-0.9zM487.88 240.73h0.9v0.9h-0.9zM464.93 238.49h0.9v0.9h-0.9zM492.96 225.38h0.9v0.9h-0.9zM490.25 234.81h0.9v0.9h-0.9zM507.68 228.64h0.9v0.9h-0.9zM500.96 223.34h0.9v0.9h-0.9zM490.94 225.36h0.9v0.9h-0.9zM484.52 222.54h0.9v0.9h-0.9zM489.24 235.77h0.9v0.9h-0.9zM479.12 229.84h0.9v0.9h-0.9zM488.66 225.04h0.9v0.9h-0.9zM492.54 225.65h0.9v0.9h-0.9zM466.99 223.94h0.9v0.9h-0.9zM490.05 229.36h0.9v0.9h-0.9zM494.65 225h0.9v0.9h-0.9zM483.77 214.48h0.9v0.9h-0.9zM498.25 214.9h0.9v0.9h-0.9zM493.98 214.59h0.9v0.9h-0.9zM473.35 231.12h0.9v0.9h-0.9zM476.24 223.67h0.9v0.9h-0.9zM492.28 229.11h0.9v0.9h-0.9zM486.23 223.28h0.9v0.9h-0.9zM471.48 226.93h0.9v0.9h-0.9zM475.14 229.23h0.9v0.9h-0.9zM490.8 223.16h0.9v0.9h-0.9zM471.96 225.74h0.9v0.9h-0.9zM497.03 223.74h0.9v0.9h-0.9zM484.4 228.68h0.9v0.9h-0.9zM488.76 226.22h0.9v0.9h-0.9zM495.84 229.13h0.9v0.9h-0.9zM447.47 237.31h0.9v0.9h-0.9zM483.23 235.23h0.9v0.9h-0.9zM481.72 237.68h0.9v0.9h-0.9zM466.49 222.8h0.9v0.9h-0.9zM479.47 222.58h0.9v0.9h-0.9zM468.82 235.95h0.9v0.9h-0.9zM485.02 226.53h0.9v0.9h-0.9zM476.91 231.06h0.9v0.9h-0.9zM480.34 222.41h0.9v0.9h-0.9zM487.96 228.36h0.9v0.9h-0.9zM482.77 232.47h0.9v0.9h-0.9zM468.5 230.64h0.9v0.9h-0.9zM475.5 239.63h0.9v0.9h-0.9zM487.91 241.62h0.9v0.9h-0.9zM500.67 218.67h0.9v0.9h-0.9zM468.66 235.36h0.9v0.9h-0.9zM478.4 227.38h0.9v0.9h-0.9zM469.06 236.13h0.9v0.9h-0.9zM484.03 229.85h0.9v0.9h-0.9zM485.52 219.46h0.9v0.9h-0.9zM454.93 234h0.9v0.9h-0.9zM474.17 225.91h0.9v0.9h-0.9zM493.32 223.07h0.9v0.9h-0.9zM499.92 223.1h0.9v0.9h-0.9zM490.05 228.72h0.9v0.9h-0.9zM491.47 214.87h0.9v0.9h-0.9zM494.89 224.15h0.9v0.9h-0.9zM470.08 235.9h0.9v0.9h-0.9zM485.95 235.95h0.9v0.9h-0.9zM490.58 227.48h0.9v0.9h-0.9zM462.21 246.47h0.9v0.9h-0.9zM499.64 227.7h0.9v0.9h-0.9zM487.34 234.98h0.9v0.9h-0.9zM471.39 236.14h0.9v0.9h-0.9zM482.07 219.81h0.9v0.9h-0.9zM486.21 228.77h0.9v0.9h-0.9zM502.25 228.15h0.9v0.9h-0.9zM462.56 218.73h0.9v0.9h-0.9zM480.85 226.21h0.9v0.9h-0.9zM470.56 220.01h0.9v0.9h-0.9zM479.47 219.46h0.9v0.9h-0.9zM473.5 236.69h0.9v0.9h-0.9zM484.66 220.86h0.9v0.9h-0.9zM468.31 230.38h0.9v0.9h-0.9zM502.6 217.02h0.9v0.9h-0.9zM502.57 214.9h0.9v0.9h-0.9zM479.28 233.58h0.9v0.9h-0.9zM472.52 230.87h0.9v0.9h-0.9zM465.54 237.71h0.9v0.9h-0.9zM495.69 218.14h0.9v0.9h-0.9zM484.03 223.69h0.9v0.9h-0.9zM455.9 256.59h0.9v0.9h-0.9zM489.34 231.37h0.9v0.9h-0.9zM486.45 227.33h0.9v0.9h-0.9zM478.04 225.51h0.9v0.9h-0.9zM479.3 233.58h0.9v0.9h-0.9zM473.13 220.18h0.9v0.9h-0.9zM468.24 235.29h0.9v0.9h-0.9zM493.21 229.99h0.9v0.9h-0.9zM500.96 217.45h0.9v0.9h-0.9zM493.71 228.9h0.9v0.9h-0.9zM479.8 222.42h0.9v0.9h-0.9zM492.34 218.97h0.9v0.9h-0.9zM478.26 221.23h0.9v0.9h-0.9zM502.76 220.41h0.9v0.9h-0.9zM475.79 227.53h0.9v0.9h-0.9zM479.07 229.04h0.9v0.9h-0.9zM461.3 225.2h0.9v0.9h-0.9zM487.87 233.78h0.9v0.9h-0.9zM469.65 232.22h0.9v0.9h-0.9zM474.87 212.42h0.9v0.9h-0.9zM478.05 220.45h0.9v0.9h-0.9zM492.25 222.56h0.9v0.9h-0.9zM481.32 216.53h0.9v0.9h-0.9zM483.51 212.15h0.9v0.9h-0.9zM484.42 237.11h0.9v0.9h-0.9zM467.23 238.6h0.9v0.9h-0.9zM498.66 220.59h0.9v0.9h-0.9zM495.18 223.85h0.9v0.9h-0.9zM475.85 214.12h0.9v0.9h-0.9zM468.83 220.33h0.9v0.9h-0.9zM479.69 217.89h0.9v0.9h-0.9zM502.46 212.07h0.9v0.9h-0.9zM499.61 230.06h0.9v0.9h-0.9zM482.65 222.19h0.9v0.9h-0.9zM481.22 217.61h0.9v0.9h-0.9zM489.59 237.81h0.9v0.9h-0.9zM492.5 232.05h0.9v0.9h-0.9zM473.39 232.51h0.9v0.9h-0.9zM469.48 227.99h0.9v0.9h-0.9zM490.54 243.74h0.9v0.9h-0.9zM482.64 227.49h0.9v0.9h-0.9zM459.03 236.08h0.9v0.9h-0.9zM470.85 220.31h0.9v0.9h-0.9zM463.89 234.28h0.9v0.9h-0.9zM476.99 234.18h0.9v0.9h-0.9zM478.97 228.37h0.9v0.9h-0.9zM499.42 227.99h0.9v0.9h-0.9zM491.02 235.78h0.9v0.9h-0.9zM484.42 219.12h0.9v0.9h-0.9zM472.21 218.65h0.9v0.9h-0.9zM486.04 223.07h0.9v0.9h-0.9zM487.94 231.89h0.9v0.9h-0.9zM472.02 232.02h0.9v0.9h-0.9zM497.09 223.26h0.9v0.9h-0.9zM493.02 222.43h0.9v0.9h-0.9zM470.35 229.39h0.9v0.9h-0.9zM459.09 240.14h0.9v0.9h-0.9zM475.57 239.74h0.9v0.9h-0.9zM466.95 233.19h0.9v0.9h-0.9zM485.92 224.64h0.9v0.9h-0.9zM486.4 220.26h0.9v0.9h-0.9zM468.83 220.87h0.9v0.9h-0.9zM474.96 223.45h0.9v0.9h-0.9zM484.66 223.77h0.9v0.9h-0.9zM473.8 224.43h0.9v0.9h-0.9zM458.81 232.01h0.9v0.9h-0.9zM486.8 215.7h0.9v0.9h-0.9zM478.68 233.66h0.9v0.9h-0.9zM473.39 231.64h0.9v0.9h-0.9zM476.61 247.97h0.9v0.9h-0.9zM498.71 231.18h0.9v0.9h-0.9zM473.51 235.12h0.9v0.9h-0.9zM479.79 230.91h0.9v0.9h-0.9zM474.82 230.94h0.9v0.9h-0.9zM472.48 232.72h0.9v0.9h-0.9zM503.16 210.15h0.9v0.9h-0.9zM465.78 236.47h0.9v0.9h-0.9zM491.44 221.54h0.9v0.9h-0.9zM488.97 228.49h0.9v0.9h-0.9zM488.5 235.98h0.9v0.9h-0.9zM473.9 235.09h0.9v0.9h-0.9zM484.24 221.41h0.9v0.9h-0.9zM487.91 215.53h0.9v0.9h-0.9zM463.7 241.56h0.9v0.9h-0.9zM468.3 244.84h0.9v0.9h-0.9zM494.47 219.43h0.9v0.9h-0.9zM471.03 213.73h0.9v0.9h-0.9zM480.86 215.15h0.9v0.9h-0.9zM500.95 208.39h0.9v0.9h-0.9zM482.54 206.16h0.9v0.9h-0.9zM477.47 239.12h0.9v0.9h-0.9zM476.31 222.87h0.9v0.9h-0.9zM475.92 232.25h0.9v0.9h-0.9zM492.62 222.19h0.9v0.9h-0.9zM456.67 237.86h0.9v0.9h-0.9zM493.67 241.51h0.9v0.9h-0.9zM483.8 228.16h0.9v0.9h-0.9zM475.1 235.41h0.9v0.9h-0.9zM503.41 212.83h0.9v0.9h-0.9zM482.73 219.09h0.9v0.9h-0.9zM473.29 228.73h0.9v0.9h-0.9zM487.78 219.06h0.9v0.9h-0.9zM478.11 239.24h0.9v0.9h-0.9zM487.92 230.92h0.9v0.9h-0.9zM486.6 224.45h0.9v0.9h-0.9zM486.89 229.88h0.9v0.9h-0.9zM481.72 235.45h0.9v0.9h-0.9zM481.79 234.46h0.9v0.9h-0.9zM482 233.06h0.9v0.9h-0.9zM473.45 225.76h0.9v0.9h-0.9zM467.5 241.36h0.9v0.9h-0.9zM488 227.13h0.9v0.9h-0.9zM489.33 218.62h0.9v0.9h-0.9zM482.95 223.15h0.9v0.9h-0.9zM458.85 232.7h0.9v0.9h-0.9zM471.02 241.98h0.9v0.9h-0.9zM472.56 225.59h0.9v0.9h-0.9zM493.78 223.56h0.9v0.9h-0.9zM465.34 234.48h0.9v0.9h-0.9zM472.47 243.69h0.9v0.9h-0.9zM468.73 225.85h0.9v0.9h-0.9zM448.06 232.98h0.9v0.9h-0.9zM504.75 219.17h0.9v0.9h-0.9zM469.94 233.48h0.9v0.9h-0.9zM478.16 228.3h0.9v0.9h-0.9zM501.37 234.15h0.9v0.9h-0.9zM470.41 215.89h0.9v0.9h-0.9zM490.87 227.64h0.9v0.9h-0.9zM482.27 226.38h0.9v0.9h-0.9zM490.57 229.06h0.9v0.9h-0.9zM484.94 230.29h0.9v0.9h-0.9zM479.25 225.39h0.9v0.9h-0.9zM498.9 220.09h0.9v0.9h-0.9zM506.24 224.71h0.9v0.9h-0.9zM482.53 235.95h0.9v0.9h-0.9zM475.69 227.95h0.9v0.9h-0.9zM477.57 228.81h0.9v0.9h-0.9zM490.17 240.99h0.9v0.9h-0.9zM488.19 217.16h0.9v0.9h-0.9zM471.63 216.65h0.9v0.9h-0.9zM490.71 231.47h0.9v0.9h-0.9zM485.84 228.99h0.9v0.9h-0.9zM488.24 228.74h0.9v0.9h-0.9zM489.69 226.72h0.9v0.9h-0.9zM469.65 238.67h0.9v0.9h-0.9zM498.19 209.52h0.9v0.9h-0.9zM478.91 219.58h0.9v0.9h-0.9zM488.01 223.27h0.9v0.9h-0.9zM499.26 230.55h0.9v0.9h-0.9zM476.05 225.6h0.9v0.9h-0.9zM474.57 234.25h0.9v0.9h-0.9zM470.3 234.54h0.9v0.9h-0.9zM464.59 241.09h0.9v0.9h-0.9zM487.62 216.61h0.9v0.9h-0.9zM472.12 231.64h0.9v0.9h-0.9zM485.2 204.17h0.9v0.9h-0.9zM484.25 238.45h0.9v0.9h-0.9zM476.27 218.71h0.9v0.9h-0.9zM496.72 224.58h0.9v0.9h-0.9zM484.14 231.52h0.9v0.9h-0.9zM466.65 227.08h0.9v0.9h-0.9zM467.87 223.08h0.9v0.9h-0.9zM477.81 220.53h0.9v0.9h-0.9zM501.52 225.08h0.9v0.9h-0.9zM491.9 211.35h0.9v0.9h-0.9zM479.07 227.15h0.9v0.9h-0.9zM483.72 230.32h0.9v0.9h-0.9zM471.91 223.48h0.9v0.9h-0.9zM493.45 241.26h0.9v0.9h-0.9zM507.27 217.14h0.9v0.9h-0.9zM472.09 232.01h0.9v0.9h-0.9zM487.52 239.36h0.9v0.9h-0.9zM478.87 222.61h0.9v0.9h-0.9zM494.53 217.78h0.9v0.9h-0.9zM471.19 234.98h0.9v0.9h-0.9zM479.36 220.05h0.9v0.9h-0.9zM478.5 225.29h0.9v0.9h-0.9zM478.98 222.62h0.9v0.9h-0.9zM488.85 222.44h0.9v0.9h-0.9zM474.35 238.05h0.9v0.9h-0.9zM470.37 236.94h0.9v0.9h-0.9zM488.94 222.88h0.9v0.9h-0.9zM484.36 215.13h0.9v0.9h-0.9zM484.75 218.5h0.9v0.9h-0.9zM471.19 232.85h0.9v0.9h-0.9zM472.73 231.36h0.9v0.9h-0.9zM486.76 233.96h0.9v0.9h-0.9zM486.6 233.96h0.9v0.9h-0.9zM472.55 227.55h0.9v0.9h-0.9zM489.64 234.08h0.9v0.9h-0.9zM487.23 221.63h0.9v0.9h-0.9zM468.65 224.29h0.9v0.9h-0.9zM495.42 215.55h0.9v0.9h-0.9zM478.89 233.26h0.9v0.9h-0.9zM487.05 220.36h0.9v0.9h-0.9zM505.98 221.01h0.9v0.9h-0.9zM485.14 232.66h0.9v0.9h-0.9zM477.93 234.03h0.9v0.9h-0.9zM480.02 221.2h0.9v0.9h-0.9zM470.15 234.1h0.9v0.9h-0.9zM482.95 225.87h0.9v0.9h-0.9zM476.2 227.34h0.9v0.9h-0.9zM491.39 232.85h0.9v0.9h-0.9zM478.68 230.45h0.9v0.9h-0.9zM459.18 225.86h0.9v0.9h-0.9zM473.2 223.22h0.9v0.9h-0.9zM490.18 208.79h0.9v0.9h-0.9zM487.68 230.83h0.9v0.9h-0.9zM487.26 237.08h0.9v0.9h-0.9zM493.1 216.69h0.9v0.9h-0.9zM477.48 220.04h0.9v0.9h-0.9zM482.6 232.48h0.9v0.9h-0.9zM498.24 226.52h0.9v0.9h-0.9zM492.59 232.14h0.9v0.9h-0.9zM471.84 235.81h0.9v0.9h-0.9zM493.56 222.35h0.9v0.9h-0.9zM470.22 232.36h0.9v0.9h-0.9zM483.66 232.19h0.9v0.9h-0.9zM460.13 231.56h0.9v0.9h-0.9zM506.2 229.59h0.9v0.9h-0.9zM479.98 225.83h0.9v0.9h-0.9zM478.56 221.12h0.9v0.9h-0.9zM476.29 228.93h0.9v0.9h-0.9zM467.29 231.53h0.9v0.9h-0.9zM485 216.68h0.9v0.9h-0.9zM476.33 217.38h0.9v0.9h-0.9zM482.28 229.02h0.9v0.9h-0.9zM475.54 230.03h0.9v0.9h-0.9zM488.45 230.58h0.9v0.9h-0.9zM465.67 230.18h0.9v0.9h-0.9zM464.41 218.61h0.9v0.9h-0.9zM494.09 229.39h0.9v0.9h-0.9zM497.09 228.48h0.9v0.9h-0.9zM475.71 231.04h0.9v0.9h-0.9zM475.25 239.95h0.9v0.9h-0.9zM453.36 239.62h0.9v0.9h-0.9zM475.08 235.1h0.9v0.9h-0.9zM496.28 218.04h0.9v0.9h-0.9zM498.24 230.54h0.9v0.9h-0.9zM462.75 247.51h0.9v0.9h-0.9zM467.54 221.7h0.9v0.9h-0.9zM493.17 218.37h0.9v0.9h-0.9zM484.47 226.29h0.9v0.9h-0.9zM469.49 243.63h0.9v0.9h-0.9zM499.71 222.38h0.9v0.9h-0.9zM500.82 221.37h0.9v0.9h-0.9zM484.91 224.2h0.9v0.9h-0.9zM465.87 229.97h0.9v0.9h-0.9zM470.3 234.28h0.9v0.9h-0.9zM483.6 222.55h0.9v0.9h-0.9zM497.25 225.41h0.9v0.9h-0.9zM503.79 217.52h0.9v0.9h-0.9zM477.14 223.37h0.9v0.9h-0.9zM484.64 225.37h0.9v0.9h-0.9zM482.25 240.73h0.9v0.9h-0.9zM491.41 219.7h0.9v0.9h-0.9zM486.7 223.95h0.9v0.9h-0.9zM478.12 227.05h0.9v0.9h-0.9zM482.61 232.14h0.9v0.9h-0.9zM494.02 223.91h0.9v0.9h-0.9zM472.05 230.6h0.9v0.9h-0.9zM479.52 226.2h0.9v0.9h-0.9zM467.19 231.14h0.9v0.9h-0.9zM459.95 244.1h0.9v0.9h-0.9zM490.66 230.4h0.9v0.9h-0.9zM470.58 232.91h0.9v0.9h-0.9zM497.22 220.96h0.9v0.9h-0.9zM468.95 230.76h0.9v0.9h-0.9zM454.57 243.32h0.9v0.9h-0.9zM487.07 215.38h0.9v0.9h-0.9zM490.23 233.5h0.9v0.9h-0.9zM489.55 230.11h0.9v0.9h-0.9zM500.36 223.3h0.9v0.9h-0.9zM498.73 220.58h0.9v0.9h-0.9zM473.55 227.68h0.9v0.9h-0.9zM469.26 234.5h0.9v0.9h-0.9zM473.38 232.98h0.9v0.9h-0.9zM485.63 238.7h0.9v0.9h-0.9zM503.08 216.57h0.9v0.9h-0.9zM479.74 226.91h0.9v0.9h-0.9zM474.39 243.62h0.9v0.9h-0.9zM496.7 221.12h0.9v0.9h-0.9zM465.21 227.94h0.9v0.9h-0.9zM482.14 239.37h0.9v0.9h-0.9zM466.42 243.44h0.9v0.9h-0.9zM464.6 235.65h0.9v0.9h-0.9zM467.87 228.7h0.9v0.9h-0.9zM453.1 241.21h0.9v0.9h-0.9zM482.18 219.46h0.9v0.9h-0.9zM456.18 235.12h0.9v0.9h-0.9zM481.47 216.56h0.9v0.9h-0.9zM487.59 224.68h0.9v0.9h-0.9zM468.09 225.73h0.9v0.9h-0.9zM452.21 242.42h0.9v0.9h-0.9zM493.49 222.24h0.9v0.9h-0.9zM466.57 223.72h0.9v0.9h-0.9zM478.02 221.91h0.9v0.9h-0.9zM485.12 219.73h0.9v0.9h-0.9zM492.5 233.04h0.9v0.9h-0.9zM474.52 223.55h0.9v0.9h-0.9zM446.14 239.03h0.9v0.9h-0.9zM486.18 218.86h0.9v0.9h-0.9zM495.06 218.08h0.9v0.9h-0.9zM467.48 238.22h0.9v0.9h-0.9zM487.15 209.99h0.9v0.9h-0.9zM473.25 220.34h0.9v0.9h-0.9zM479.01 229.66h0.9v0.9h-0.9zM476.12 230.36h0.9v0.9h-0.9zM492.45 221.55h0.9v0.9h-0.9zM466.39 224.85h0.9v0.9h-0.9zM491.65 237.31h0.9v0.9h-0.9zM479.55 230.98h0.9v0.9h-0.9zM471.94 226.12h0.9v0.9h-0.9zM493.17 219.87h0.9v0.9h-0.9zM483.72 227.71h0.9v0.9h-0.9zM495.54 224.8h0.9v0.9h-0.9zM480.93 225.38h0.9v0.9h-0.9zM475.22 237.19h0.9v0.9h-0.9zM507.29 207.28h0.9v0.9h-0.9zM493.92 215.98h0.9v0.9h-0.9zM474.21 227.47h0.9v0.9h-0.9zM476.3 226.29h0.9v0.9h-0.9zM474.39 243.37h0.9v0.9h-0.9zM464.23 228.03h0.9v0.9h-0.9zM472.31 231.85h0.9v0.9h-0.9zM466.15 232.26h0.9v0.9h-0.9zM483 241.77h0.9v0.9h-0.9zM489.33 224.53h0.9v0.9h-0.9zM482.88 241h0.9v0.9h-0.9zM480.29 222.65h0.9v0.9h-0.9zM474.21 227.04h0.9v0.9h-0.9zM492.2 216.52h0.9v0.9h-0.9zM474.69 229.46h0.9v0.9h-0.9zM470.53 235.89h0.9v0.9h-0.9zM476.92 232.71h0.9v0.9h-0.9zM487.76 236.76h0.9v0.9h-0.9zM502.41 214.29h0.9v0.9h-0.9zM465.89 223.68h0.9v0.9h-0.9zM487.3 229.62h0.9v0.9h-0.9zM481.61 227.17h0.9v0.9h-0.9zM499.81 228.39h0.9v0.9h-0.9zM484.31 231.29h0.9v0.9h-0.9zM463.71 242.09h0.9v0.9h-0.9zM506.34 220.69h0.9v0.9h-0.9zM476.53 238.48h0.9v0.9h-0.9zM475.78 230.08h0.9v0.9h-0.9zM489.01 223.98h0.9v0.9h-0.9zM490.14 210.16h0.9v0.9h-0.9zM452.6 242.31h0.9v0.9h-0.9zM488.06 227.16h0.9v0.9h-0.9zM477.1 229.3h0.9v0.9h-0.9zM487.01 217.16h0.9v0.9h-0.9zM484.78 220.6h0.9v0.9h-0.9zM506.66 222.29h0.9v0.9h-0.9zM485.02 234.09h0.9v0.9h-0.9zM493.04 231.08h0.9v0.9h-0.9zM474.03 231.11h0.9v0.9h-0.9zM492.37 225.81h0.9v0.9h-0.9zM483.25 222.75h0.9v0.9h-0.9zM484.06 237.22h0.9v0.9h-0.9zM467.47 221.78h0.9v0.9h-0.9zM467.48 220.38h0.9v0.9h-0.9zM496.98 236.87h0.9v0.9h-0.9zM487.74 226.29h0.9v0.9h-0.9zM498.29 230.19h0.9v0.9h-0.9zM454.75 235.63h0.9v0.9h-0.9zM473.38 225.54h0.9v0.9h-0.9zM500.59 218.23h0.9v0.9h-0.9zM486.87 234.97h0.9v0.9h-0.9zM484.03 226.97h0.9v0.9h-0.9zM469.5 222.16h0.9v0.9h-0.9zM494.7 213.66h0.9v0.9h-0.9zM494.61 232.83h0.9v0.9h-0.9zM499.71 220.45h0.9v0.9h-0.9zM471.84 231.44h0.9v0.9h-0.9zM497.29 226.71h0.9v0.9h-0.9zM487.56 224.77h0.9v0.9h-0.9zM492.84 209.35h0.9v0.9h-0.9zM467.9 243.68h0.9v0.9h-0.9zM487.46 231.02h0.9v0.9h-0.9zM459.23 228.36h0.9v0.9h-0.9zM476.74 228.38h0.9v0.9h-0.9zM495.93 218.78h0.9v0.9h-0.9zM483.37 221.61h0.9v0.9h-0.9zM479.15 231.19h0.9v0.9h-0.9zM486.78 233.42h0.9v0.9h-0.9zM466.92 238.13h0.9v0.9h-0.9zM487.23 219.85h0.9v0.9h-0.9zM497.38 217.55h0.9v0.9h-0.9zM477.49 232.89h0.9v0.9h-0.9zM498.68 219.09h0.9v0.9h-0.9zM499.37 224.97h0.9v0.9h-0.9zM472.76 235.89h0.9v0.9h-0.9zM482.63 221.87h0.9v0.9h-0.9zM480.08 237.45h0.9v0.9h-0.9zM486 224.34h0.9v0.9h-0.9zM491.45 213.95h0.9v0.9h-0.9zM489.59 235.05h0.9v0.9h-0.9zM468.13 223.62h0.9v0.9h-0.9zM471.67 229.21h0.9v0.9h-0.9zM472.96 230.23h0.9v0.9h-0.9zM470.03 233.4h0.9v0.9h-0.9zM488.63 228.75h0.9v0.9h-0.9zM475.09 235.94h0.9v0.9h-0.9zM463.46 228.47h0.9v0.9h-0.9zM480.93 237.42h0.9v0.9h-0.9zM477.29 233.57h0.9v0.9h-0.9zM501.22 236.13h0.9v0.9h-0.9zM502.41 215.03h0.9v0.9h-0.9zM485.05 230.29h0.9v0.9h-0.9zM489.84 228.85h0.9v0.9h-0.9zM480.49 228.33h0.9v0.9h-0.9zM465.61 238.12h0.9v0.9h-0.9zM485.72 221.99h0.9v0.9h-0.9zM503.16 220.84h0.9v0.9h-0.9zM474.2 234.43h0.9v0.9h-0.9zM487.15 230.75h0.9v0.9h-0.9zM480.86 233.62h0.9v0.9h-0.9zM483.36 236.11h0.9v0.9h-0.9zM485.79 220.21h0.9v0.9h-0.9zM469.87 235.68h0.9v0.9h-0.9zM493.01 213.1h0.9v0.9h-0.9zM489.17 224.72h0.9v0.9h-0.9zM485.22 220.45h0.9v0.9h-0.9zM468.78 227.35h0.9v0.9h-0.9zM472.37 227.48h0.9v0.9h-0.9zM483.16 227.48h0.9v0.9h-0.9zM504.28 213.37h0.9v0.9h-0.9zM476.76 229.93h0.9v0.9h-0.9zM489.25 217.51h0.9v0.9h-0.9zM464.97 234.88h0.9v0.9h-0.9zM486.42 230.48h0.9v0.9h-0.9zM489.53 213.68h0.9v0.9h-0.9zM494.52 222.62h0.9v0.9h-0.9zM506.57 216.79h0.9v0.9h-0.9zM456.5 234.8h0.9v0.9h-0.9zM484.19 229.21h0.9v0.9h-0.9zM484.4 222.82h0.9v0.9h-0.9zM462.28 232.52h0.9v0.9h-0.9zM478.16 223.83h0.9v0.9h-0.9zM482.61 225.06h0.9v0.9h-0.9zM458.1 228.9h0.9v0.9h-0.9zM472.04 228.76h0.9v0.9h-0.9zM501.13 221.13h0.9v0.9h-0.9zM488.39 209.79h0.9v0.9h-0.9zM496.19 218.97h0.9v0.9h-0.9zM488.18 217.46h0.9v0.9h-0.9zM481.49 233.72h0.9v0.9h-0.9zM481.6 229.29h0.9v0.9h-0.9zM472.95 225.07h0.9v0.9h-0.9zM485.09 225.14h0.9v0.9h-0.9zM483.43 222.09h0.9v0.9h-0.9zM477.33 234.57h0.9v0.9h-0.9zM498.47 219.29h0.9v0.9h-0.9zM474.3 230.87h0.9v0.9h-0.9zM492.77 226.15h0.9v0.9h-0.9zM494.64 222.07h0.9v0.9h-0.9zM470.64 217.1h0.9v0.9h-0.9zM491.89 226.25h0.9v0.9h-0.9zM474.33 232.56h0.9v0.9h-0.9zM468.34 239.49h0.9v0.9h-0.9zM494.05 232.35h0.9v0.9h-0.9zM476.73 239.75h0.9v0.9h-0.9zM491.57 236.27h0.9v0.9h-0.9zM461.98 240.79h0.9v0.9h-0.9zM497.31 220.53h0.9v0.9h-0.9zM493.16 224.85h0.9v0.9h-0.9zM499.04 220.34h0.9v0.9h-0.9zM482.53 218.65h0.9v0.9h-0.9zM506.15 213.7h0.9v0.9h-0.9zM469.63 224.79h0.9v0.9h-0.9zM482.96 227.69h0.9v0.9h-0.9zM487.1 237.46h0.9v0.9h-0.9zM493.6 213.08h0.9v0.9h-0.9zM484.06 225.55h0.9v0.9h-0.9zM490.87 225.65h0.9v0.9h-0.9zM497.63 223.6h0.9v0.9h-0.9zM505.02 213.15h0.9v0.9h-0.9zM495.72 230.01h0.9v0.9h-0.9zM473.44 220.39h0.9v0.9h-0.9zM474.31 232.83h0.9v0.9h-0.9zM501.4 210.49h0.9v0.9h-0.9zM478.66 219.2h0.9v0.9h-0.9zM491.25 225.74h0.9v0.9h-0.9zM482.38 232.96h0.9v0.9h-0.9zM485.58 237.31h0.9v0.9h-0.9zM478.62 224.24h0.9v0.9h-0.9zM482.13 227.25h0.9v0.9h-0.9zM497.06 219.87h0.9v0.9h-0.9zM475.83 224.52h0.9v0.9h-0.9zM472.97 215.83h0.9v0.9h-0.9zM483.57 230.81h0.9v0.9h-0.9zM483.94 221.23h0.9v0.9h-0.9zM492.8 229.43h0.9v0.9h-0.9zM485.02 231.33h0.9v0.9h-0.9zM480.74 230.96h0.9v0.9h-0.9zM488.3 216.53h0.9v0.9h-0.9zM476.11 224.14h0.9v0.9h-0.9zM486.62 206.87h0.9v0.9h-0.9zM485.34 226.37h0.9v0.9h-0.9zM479.87 231.17h0.9v0.9h-0.9zM464.45 234.78h0.9v0.9h-0.9zM473.07 225.82h0.9v0.9h-0.9zM498.14 219.88h0.9v0.9h-0.9zM494.43 223.31h0.9v0.9h-0.9zM478.43 225.83h0.9v0.9h-0.9zM464.93 230.43h0.9v0.9h-0.9zM483.6 237.49h0.9v0.9h-0.9zM490.8 230.87h0.9v0.9h-0.9zM471.07 225.51h0.9v0.9h-0.9zM486.33 230.07h0.9v0.9h-0.9zM469.47 239.23h0.9v0.9h-0.9zM474.47 231.91h0.9v0.9h-0.9zM476.39 234.77h0.9v0.9h-0.9zM492.18 231.89h0.9v0.9h-0.9zM471.33 232.06h0.9v0.9h-0.9zM508.37 219.2h0.9v0.9h-0.9zM487.5 226.74h0.9v0.9h-0.9zM476.05 242.23h0.9v0.9h-0.9zM500.46 216.58h0.9v0.9h-0.9zM488.02 239.49h0.9v0.9h-0.9zM487.53 226.42h0.9v0.9h-0.9zM493.59 230.05h0.9v0.9h-0.9zM467.78 226.06h0.9v0.9h-0.9zM500.79 217.38h0.9v0.9h-0.9zM481.51 222.92h0.9v0.9h-0.9zM504.55 211.17h0.9v0.9h-0.9zM484.13 224.01h0.9v0.9h-0.9zM478.54 219.58h0.9v0.9h-0.9zM472.58 229.05h0.9v0.9h-0.9zM484.93 212.88h0.9v0.9h-0.9zM483.05 220.71h0.9v0.9h-0.9zM481.36 224.43h0.9v0.9h-0.9zM480.54 226.19h0.9v0.9h-0.9zM487.43 225.84h0.9v0.9h-0.9zM462.04 215.95h0.9v0.9h-0.9zM464.9 235.1h0.9v0.9h-0.9zM462.07 226.27h0.9v0.9h-0.9zM503.54 217.91h0.9v0.9h-0.9zM479.53 230.78h0.9v0.9h-0.9zM489.4 221.26h0.9v0.9h-0.9zM483.11 211.92h0.9v0.9h-0.9zM485.68 230.6h0.9v0.9h-0.9zM461.34 240.86h0.9v0.9h-0.9zM479.38 238.76h0.9v0.9h-0.9zM489.94 219.62h0.9v0.9h-0.9zM474.49 227.02h0.9v0.9h-0.9zM489.86 218.5h0.9v0.9h-0.9zM464.34 234.02h0.9v0.9h-0.9zM472.56 243.05h0.9v0.9h-0.9zM469.5 233.46h0.9v0.9h-0.9zM479.09 217.24h0.9v0.9h-0.9zM475.67 214.47h0.9v0.9h-0.9zM486.26 218.84h0.9v0.9h-0.9zM466.98 220.32h0.9v0.9h-0.9zM498.34 226.05h0.9v0.9h-0.9zM469.79 230h0.9v0.9h-0.9zM489.05 229.44h0.9v0.9h-0.9zM481.8 211.74h0.9v0.9h-0.9zM501.84 220.05h0.9v0.9h-0.9zM498.18 212.57h0.9v0.9h-0.9zM491.17 234.51h0.9v0.9h-0.9zM495.44 213.87h0.9v0.9h-0.9zM478.72 240.1h0.9v0.9h-0.9zM471.96 235.79h0.9v0.9h-0.9zM479.63 216.88h0.9v0.9h-0.9zM493.07 232.1h0.9v0.9h-0.9zM489.4 226.97h0.9v0.9h-0.9zM493.81 208.72h0.9v0.9h-0.9zM481.27 240.57h0.9v0.9h-0.9zM487.6 233.77h0.9v0.9h-0.9zM478.88 231.02h0.9v0.9h-0.9zM467.91 235.85h0.9v0.9h-0.9zM485.12 223.6h0.9v0.9h-0.9zM481.55 228.25h0.9v0.9h-0.9zM484.23 232.5h0.9v0.9h-0.9zM493.88 207.42h0.9v0.9h-0.9zM484.8 235.04h0.9v0.9h-0.9zM468.01 230.58h0.9v0.9h-0.9zM493.73 225.56h0.9v0.9h-0.9zM464.68 231.02h0.9v0.9h-0.9zM459.97 231.79h0.9v0.9h-0.9zM492.67 228.94h0.9v0.9h-0.9zM485.35 222.3h0.9v0.9h-0.9zM489.47 234.38h0.9v0.9h-0.9zM491.03 232.09h0.9v0.9h-0.9zM487.28 229.19h0.9v0.9h-0.9zM471.2 242.33h0.9v0.9h-0.9zM469.22 224.83h0.9v0.9h-0.9zM473.42 224.68h0.9v0.9h-0.9zM497.76 220.89h0.9v0.9h-0.9zM478.71 226.44h0.9v0.9h-0.9zM481.82 237.57h0.9v0.9h-0.9zM499.8 218.52h0.9v0.9h-0.9zM502.34 225.57h0.9v0.9h-0.9zM485.59 236.22h0.9v0.9h-0.9zM483.35 229.53h0.9v0.9h-0.9zM483.77 218.21h0.9v0.9h-0.9zM466.98 224.96h0.9v0.9h-0.9zM471.45 226.42h0.9v0.9h-0.9zM475.37 237.94h0.9v0.9h-0.9zM482.03 233.35h0.9v0.9h-0.9zM485.9 219.75h0.9v0.9h-0.9zM478.52 217.28h0.9v0.9h-0.9zM461.24 236.93h0.9v0.9h-0.9zM481.31 228.22h0.9v0.9h-0.9zM493.38 213.52h0.9v0.9h-0.9zM479.82 211.11h0.9v0.9h-0.9zM471.2 235.24h0.9v0.9h-0.9zM463.31 223.39h0.9v0.9h-0.9zM477.87 241.3h0.9v0.9h-0.9zM490.66 223.13h0.9v0.9h-0.9zM488.9 225.73h0.9v0.9h-0.9z" fill="#222" fill-opacity="0.45"/>
<path d="M460.81 243.29h0.9v0.9h-0.9zM466.72 244.94h0.9v0.9h-0.9zM468.97 243.2h0.9v0.9h-0.9zM469.38 243.75h0.9v0.9h-0.9zM471.85 249.36h0.9v0.9h-0.9zM458.75 254.54h0.9v0.9h-0.9zM466.18 242.74h0.9v0.9h-0.9zM454.97 245.81h0.9v0.9h-0.9zM464.59 242.4h0.9v0.9h-0.9zM456.06 243.55h0.9v0.9h-0.9zM456.21 242.82h0.9v0.9h-0.9zM457.49 247.13h0.9v0.9h-0.9zM445.99 253.39h0.9v0.9h-0.9zM460.51 245.24h0.9v0.9h-0.9zM454.44 249.72h0.9v0.9h-0.9zM462.61 244.01h0.9v0.9h-0.9zM457.24 247.77h0.9v0.9h-0.9zM466.91 242.89h0.9v0.9h-0.9zM474.9 241.81h0.9v0.9h-0.9zM471.95 246.08h0.9v0.9h-0.9zM454.12 244.35h0.9v0.9h-0.9zM467.37 243.76h0.9v0.9h-0.9zM464.24 245.03h0.9v0.9h-0.9zM466.52 242.8h0.9v0.9h-0.9zM476.44 246.7h0.9v0.9h-0.9zM473.88 244.44h0.9v0.9h-0.9zM465.04 241.54h0.9v0.9h-0.9zM463.94 251.41h0.9v0.9h-0.9zM465.79 242.55h0.9v0.9h-0.9zM459.86 247.74h0.9v0.9h-0.9zM462.5 253.49h0.9v0.9h-0.9zM465.27 245.54h0.9v0.9h-0.9zM468.74 251.92h0.9v0.9h-0.9zM453.14 242.63h0.9v0.9h-0.9zM458.9 237.61h0.9v0.9h-0.9zM462.54 245.06h0.9v0.9h-0.9zM469.57 247.97h0.9v0.9h-0.9zM468.24 247.83h0.9v0.9h-0.9zM460.71 256.81h0.9v0.9h-0.9zM474.01 244.18h0.9v0.9h-0.9zM457.44 247.46h0.9v0.9h-0.9zM470.75 247.38h0.9v0.9h-0.9zM469.16 249.37h0.9v0.9h-0.9zM466.67 241.8h0.9v0.9h-0.9zM460.32 238.43h0.9v0.9h-0.9zM470.15 243.35h0.9v0.9h-0.9zM464.99 253.87h0.9v0.9h-0.9zM458.21 245.52h0.9v0.9h-0.9zM458.12 238.21h0.9v0.9h-0.9zM470.57 245.09h0.9v0.9h-0.9zM463.3 248.52h0.9v0.9h-0.9zM462.33 248.17h0.9v0.9h-0.9zM472.49 242.75h0.9v0.9h-0.9zM466.76 246.05h0.9v0.9h-0.9zM471.09 255.15h0.9v0.9h-0.9zM456.85 251.56h0.9v0.9h-0.9zM464.53 248.11h0.9v0.9h-0.9zM466.39 244.94h0.9v0.9h-0.9zM455.21 245.48h0.9v0.9h-0.9zM457.65 251.23h0.9v0.9h-0.9zM466.88 243.21h0.9v0.9h-0.9zM461.22 249.88h0.9v0.9h-0.9zM453.98 246.22h0.9v0.9h-0.9zM464.77 241.9h0.9v0.9h-0.9zM471 243.89h0.9v0.9h-0.9zM471.01 246.25h0.9v0.9h-0.9zM459.43 245.03h0.9v0.9h-0.9zM470.66 241.8h0.9v0.9h-0.9zM458.12 245.09h0.9v0.9h-0.9zM467.57 247.88h0.9v0.9h-0.9zM457.11 240.8h0.9v0.9h-0.9zM463.08 244.57h0.9v0.9h-0.9zM465.69 239.43h0.9v0.9h-0.9zM460.27 241.07h0.9v0.9h-0.9zM474.68 237.35h0.9v0.9h-0.9zM457.35 243.37h0.9v0.9h-0.9zM451.64 243.65h0.9v0.9h-0.9zM458.43 239.3h0.9v0.9h-0.9zM460.35 250.56h0.9v0.9h-0.9zM464.61 250.73h0.9v0.9h-0.9zM472.41 245.96h0.9v0.9h-0.9zM461.63 236.79h0.9v0.9h-0.9zM449.65 246.26h0.9v0.9h-0.9zM464.13 246.08h0.9v0.9h-0.9zM457.73 244.3h0.9v0.9h-0.9zM456.31 248.8h0.9v0.9h-0.9zM464.3 237.54h0.9v0.9h-0.9zM459.67 250.23h0.9v0.9h-0.9zM456.51 241.07h0.9v0.9h-0.9zM457.03 243.25h0.9v0.9h-0.9zM464.31 244.75h0.9v0.9h-0.9zM464.75 243.14h0.9v0.9h-0.9zM468.12 250.94h0.9v0.9h-0.9zM457.65 246.53h0.9v0.9h-0.9zM465.8 246.11h0.9v0.9h-0.9zM463.45 247.29h0.9v0.9h-0.9zM462.25 242.97h0.9v0.9h-0.9zM458.44 248.35h0.9v0.9h-0.9zM460.18 238.43h0.9v0.9h-0.9zM460.48 243.44h0.9v0.9h-0.9zM469.62 249.39h0.9v0.9h-0.9zM456.3 250.29h0.9v0.9h-0.9zM466.07 251.49h0.9v0.9h-0.9zM460.23 248.02h0.9v0.9h-0.9zM468.75 251.58h0.9v0.9h-0.9zM455.03 245.37h0.9v0.9h-0.9zM464.61 244.69h0.9v0.9h-0.9zM457.8 244.5h0.9v0.9h-0.9zM464.31 253.01h0.9v0.9h-0.9zM464.12 249.6h0.9v0.9h-0.9zM460.31 246.38h0.9v0.9h-0.9zM463.58 245.82h0.9v0.9h-0.9zM453.96 245.49h0.9v0.9h-0.9zM481.51 245.48h0.9v0.9h-0.9zM454.94 254.45h0.9v0.9h-0.9zM466.95 246.88h0.9v0.9h-0.9zM453.38 244.36h0.9v0.9h-0.9zM462.22 244.89h0.9v0.9h-0.9zM456.98 248.05h0.9v0.9h-0.9zM454.84 249.93h0.9v0.9h-0.9zM463.69 243.8h0.9v0.9h-0.9zM453.24 246.84h0.9v0.9h-0.9zM466.26 239.77h0.9v0.9h-0.9zM475.17 244.57h0.9v0.9h-0.9zM453.37 250.21h0.9v0.9h-0.9zM456.61 242h0.9v0.9h-0.9zM454.07 241.79h0.9v0.9h-0.9zM461.81 241.22h0.9v0.9h-0.9zM465.5 241.43h0.9v0.9h-0.9zM462.9 236.65h0.9v0.9h-0.9zM459.91 245.08h0.9v0.9h-0.9zM467.82 243.96h0.9v0.9h-0.9zM464.32 246.69h0.9v0.9h-0.9zM457.6 247.46h0.9v0.9h-0.9zM465.59 243.26h0.9v0.9h-0.9zM455.2 250.28h0.9v0.9h-0.9zM470.94 246.11h0.9v0.9h-0.9zM470.94 251.02h0.9v0.9h-0.9zM462.63 247.6h0.9v0.9h-0.9zM467.45 247.27h0.9v0.9h-0.9zM462.79 243.6h0.9v0.9h-0.9zM468.82 246.23h0.9v0.9h-0.9zM474.75 247.19h0.9v0.9h-0.9zM464.25 240.57h0.9v0.9h-0.9zM462.81 246.48h0.9v0.9h-0.9zM462.67 242.59h0.9v0.9h-0.9zM464.47 251.59h0.9v0.9h-0.9zM455.8 247.38h0.9v0.9h-0.9zM454.81 249.01h0.9v0.9h-0.9zM462.02 245.37h0.9v0.9h-0.9zM466 242.83h0.9v0.9h-0.9zM459.06 249.18h0.9v0.9h-0.9zM454.02 241.75h0.9v0.9h-0.9zM468.85 248.17h0.9v0.9h-0.9zM458.08 242.39h0.9v0.9h-0.9zM464.33 252.62h0.9v0.9h-0.9zM473.61 244.19h0.9v0.9h-0.9zM459.84 245h0.9v0.9h-0.9zM451.64 246.43h0.9v0.9h-0.9zM460.78 249.43h0.9v0.9h-0.9zM458.1 246.61h0.9v0.9h-0.9zM459.43 243.26h0.9v0.9h-0.9zM475.58 241.89h0.9v0.9h-0.9zM462.88 246.89h0.9v0.9h-0.9zM476.49 246.56h0.9v0.9h-0.9zM460.66 246.44h0.9v0.9h-0.9zM475.45 247.55h0.9v0.9h-0.9zM468.09 254.17h0.9v0.9h-0.9zM457.66 249.9h0.9v0.9h-0.9zM457.97 250.29h0.9v0.9h-0.9zM467.29 247.94h0.9v0.9h-0.9zM465.62 246.51h0.9v0.9h-0.9zM478.16 245.84h0.9v0.9h-0.9zM462.84 247.8h0.9v0.9h-0.9zM470.17 246.23h0.9v0.9h-0.9zM470.82 247.91h0.9v0.9h-0.9zM459.71 246.12h0.9v0.9h-0.9zM470.7 241.97h0.9v0.9h-0.9zM464.11 242.54h0.9v0.9h-0.9zM461.89 239.43h0.9v0.9h-0.9zM464.48 242.97h0.9v0.9h-0.9zM471.14 244.12h0.9v0.9h-0.9zM477.64 249.87h0.9v0.9h-0.9zM458.69 253.49h0.9v0.9h-0.9zM464.51 247h0.9v0.9h-0.9zM455 245.08h0.9v0.9h-0.9zM459.19 240.42h0.9v0.9h-0.9zM456.16 250.66h0.9v0.9h-0.9zM459.9 245.29h0.9v0.9h-0.9zM458.17 243.62h0.9v0.9h-0.9zM459.86 244.84h0.9v0.9h-0.9zM463.71 248.64h0.9v0.9h-0.9zM463.01 244.75h0.9v0.9h-0.9zM457.66 247.54h0.9v0.9h-0.9zM466.31 244.04h0.9v0.9h-0.9zM451.09 244.83h0.9v0.9h-0.9zM449.13 250.95h0.9v0.9h-0.9zM463.59 250.17h0.9v0.9h-0.9zM461.86 248.56h0.9v0.9h-0.9zM474.76 248.46h0.9v0.9h-0.9zM456.25 239.23h0.9v0.9h-0.9zM459.41 245.87h0.9v0.9h-0.9zM455.08 237.61h0.9v0.9h-0.9zM458.68 244.4h0.9v0.9h-0.9zM450.22 244.38h0.9v0.9h-0.9zM467.95 240.41h0.9v0.9h-0.9zM463.71 244.48h0.9v0.9h-0.9zM464.48 245.95h0.9v0.9h-0.9zM456.07 246.92h0.9v0.9h-0.9zM476.68 246.31h0.9v0.9h-0.9zM452.95 243.6h0.9v0.9h-0.9zM475.43 244.06h0.9v0.9h-0.9zM463.6 239.8h0.9v0.9h-0.9zM451.98 244.43h0.9v0.9h-0.9zM465 242.2h0.9v0.9h-0.9zM465.14 243.36h0.9v0.9h-0.9zM448.38 243.69h0.9v0.9h-0.9zM466.71 253.76h0.9v0.9h-0.9zM452.54 246.15h0.9v0.9h-0.9zM465.12 246.56h0.9v0.9h-0.9zM463.74 250.88h0.9v0.9h-0.9zM470.84 242.27h0.9v0.9h-0.9zM457.02 244.96h0.9v0.9h-0.9zM452.73 245.46h0.9v0.9h-0.9zM468.13 242.76h0.9v0.9h-0.9zM460.83 242.22h0.9v0.9h-0.9zM463.75 246.84h0.9v0.9h-0.9zM455.88 248.59h0.9v0.9h-0.9zM456.18 245.25h0.9v0.9h-0.9zM464.75 241.14h0.9v0.9h-0.9zM460.57 240.75h0.9v0.9h-0.9zM469.79 244.38h0.9v0.9h-0.9zM452.62 247.94h0.9v0.9h-0.9zM460.25 252.32h0.9v0.9h-0.9zM461.98 247.56h0.9v0.9h-0.9zM455.19 244.04h0.9v0.9h-0.9zM461.89 248.5h0.9v0.9h-0.9zM472.09 245.43h0.9v0.9h-0.9zM461.99 241.46h0.9v0.9h-0.9zM458.34 244.48h0.9v0.9h-0.9zM470.25 252.11h0.9v0.9h-0.9zM461.32 242.4h0.9v0.9h-0.9zM456.35 248.35h0.9v0.9h-0.9zM472.68 247.69h0.9v0.9h-0.9zM474.44 245.31h0.9v0.9h-0.9zM460.33 245.93h0.9v0.9h-0.9zM454.84 244.22h0.9v0.9h-0.9zM459.11 237.67h0.9v0.9h-0.9z" fill="#222" fill-opacity="0.5"/>
<path d="M457 248.5 C 456 224.4 469 224.4 469 248.5 C 468 251.5 457 251.5 457 248.5" fill="none" stroke="#1a1a1a" stroke-width="0.8"/>
<path d="M458 248.5 C 457 228.15 467.4 228.15 467.4 248.5 C 466.4 251.5 458 251.5 458 248.5" fill="none" stroke="#1a1a1a" stroke-width="0.8"/>
<path d="M459 248.5 C 458 231.9 466 231.9 466 248.5 C 465 251.5 459 251.5 459 248.5" fill="none" stroke="#1a1a1a" stroke-width="0.8"/>
<ellipse cx="462.5" cy="246.8" rx="11" ry="6.4" fill="#444" stroke="#111" stroke-width="0.8" opacity="1" transform="rotate(0 462.5 246.8)"/>
<ellipse cx="461.5" cy="247.3" rx="9" ry="5.2" fill="#1a1a1a" stroke="#000" stroke-width="0.8" opacity="1" transform="rotate(0 461.5 247.3)"/>
<ellipse cx="460.5" cy="247.5" rx="6.5" ry="3.8" fill="#0a0a0a" stroke="none" stroke-width="0" opacity="1" transform="rotate(0 460.5 247.5)"/>
</g>
<rect x="443.8" y="200.5" width="65.6" height="66.2" fill="none" stroke="#111" stroke-width="1"/>
<line x1="472.5" y1="200.5" x2="472.5" y2="266.7" stroke="#111" stroke-width="1"/>
<line x1="443.8" y1="238.5" x2="509.4" y2="238.5" stroke="#111" stroke-width="1"/>
<text x="446.4" y="208.5" font-size="7.2">9.13</text>
<text x="507.4" y="208.5" font-size="7.2" text-anchor="end">5.58</text>
<text x="446.4" y="264.1" font-size="7.2">83.8</text>
<text x="507.4" y="264.1" font-size="7.2" text-anchor="end">1.48</text>
<text x="477.1" y="197.9" font-size="8.2" text-anchor="middle">shSMARCD1 UI</text>
<text x="438.8" y="210.2" font-size="7.6" text-anchor="end">10<tspan font-size="5.93" dy="-3.19">5</tspan></text>
<text x="438.8" y="226.2" font-size="7.6" text-anchor="end">10<tspan font-size="5.93" dy="-3.19">4</tspan></text>
<text x="438.8" y="244" font-size="7.6" text-anchor="end">10<tspan font-size="5.93" dy="-3.19">3</tspan></text>
<text x="438.8" y="254.7" font-size="7.6" text-anchor="end">0</text>
<text x="438.8" y="265.7" font-size="7.6" text-anchor="end">−10<tspan font-size="5.93" dy="-3.19">3</tspan></text>
<path d="M443.3 203.5h-2M443.3 205.5h-2M443.3 207.5h-2M443.3 209.5h-2M443.3 212.5h-2M443.3 215.5h-2M443.3 218.5h-2M443.3 220.5h-2M443.3 223.5h-2M443.3 226.5h-2M443.3 229.5h-2M443.3 232.5h-2M443.3 235.5h-2M443.3 237.5h-2M443.3 239.5h-2M443.3 241.3h-2M443.3 242.5h-2M443.3 244.5h-2M443.3 246.5h-2M443.3 248h-2M443.3 249.5h-2M443.3 250.5h-2M443.3 251.5h-2M443.3 252.5h-2M443.3 253.5h-2M443.3 254.5h-2M443.3 256.5h-2M443.3 258.5h-2M443.3 260.5h-2M443.3 263h-2M450.8 267.2v2M452.8 267.2v2M454.8 267.2v2M456.8 267.2v2M457.8 267.2v2M458.8 267.2v2M459.8 267.2v2M460.8 267.2v2M461.8 267.2v2M462.8 267.2v2M464.8 267.2v2M466.8 267.2v2M469.8 267.2v2M472.8 267.2v2M475.8 267.2v2M478.8 267.2v2M481.8 267.2v2M484.8 267.2v2M487.8 267.2v2M490.8 267.2v2M493.8 267.2v2M496.8 267.2v2M499.8 267.2v2M502.8 267.2v2M505.8 267.2v2M507.8 267.2v2" stroke="#222" stroke-width="0.6"/>
<text x="449" y="279" font-size="7.5" text-anchor="middle">−10<tspan font-size="5.85" dy="-3.15">3</tspan></text>
<text x="460.3" y="279" font-size="7.5" text-anchor="middle">0</text>
<text x="471.1" y="279" font-size="7.5" text-anchor="middle">10<tspan font-size="5.85" dy="-3.15">3</tspan></text>
<text x="491" y="279" font-size="7.5" text-anchor="middle">10<tspan font-size="5.85" dy="-3.15">4</tspan></text>
<text x="507" y="279" font-size="7.5" text-anchor="middle">10<tspan font-size="5.85" dy="-3.15">5</tspan></text>
<g>
<path d="M377.54 358.61h0.9v0.9h-0.9zM365.22 362.89h0.9v0.9h-0.9zM373.29 351.96h0.9v0.9h-0.9zM399.2 342.26h0.9v0.9h-0.9zM375.88 356.41h0.9v0.9h-0.9zM389.92 345.51h0.9v0.9h-0.9zM383.46 343.14h0.9v0.9h-0.9zM372 351.55h0.9v0.9h-0.9zM360.41 350.84h0.9v0.9h-0.9zM356.88 359.75h0.9v0.9h-0.9zM374.33 351.14h0.9v0.9h-0.9zM377.23 343.98h0.9v0.9h-0.9zM375.45 353.81h0.9v0.9h-0.9zM385.41 342.96h0.9v0.9h-0.9zM371.6 342.73h0.9v0.9h-0.9zM370.36 342.27h0.9v0.9h-0.9zM359.37 366.24h0.9v0.9h-0.9zM349.98 368.89h0.9v0.9h-0.9zM380.33 348.38h0.9v0.9h-0.9zM381.91 352.44h0.9v0.9h-0.9zM388.95 344.83h0.9v0.9h-0.9zM369.29 351.86h0.9v0.9h-0.9zM364.56 357.27h0.9v0.9h-0.9zM366.97 362.51h0.9v0.9h-0.9zM353.97 356.22h0.9v0.9h-0.9zM364.96 345.38h0.9v0.9h-0.9zM399.23 327.59h0.9v0.9h-0.9zM373 350.59h0.9v0.9h-0.9zM396.27 331.38h0.9v0.9h-0.9zM389.26 341.82h0.9v0.9h-0.9zM374.54 349.04h0.9v0.9h-0.9zM384.09 341.91h0.9v0.9h-0.9zM375.45 354.46h0.9v0.9h-0.9zM398.48 327.95h0.9v0.9h-0.9zM394.7 348.88h0.9v0.9h-0.9zM370.6 356.45h0.9v0.9h-0.9zM370.81 364.02h0.9v0.9h-0.9zM378.92 349.59h0.9v0.9h-0.9zM373.66 352.14h0.9v0.9h-0.9zM374.28 347.97h0.9v0.9h-0.9zM401.1 329.56h0.9v0.9h-0.9zM374.64 354.95h0.9v0.9h-0.9zM373.95 352.3h0.9v0.9h-0.9zM380.39 355.67h0.9v0.9h-0.9zM371.02 352.38h0.9v0.9h-0.9zM399.69 344.16h0.9v0.9h-0.9zM364.57 370.8h0.9v0.9h-0.9zM385.71 344.29h0.9v0.9h-0.9zM362.31 360.28h0.9v0.9h-0.9zM366.41 350.62h0.9v0.9h-0.9zM360.85 356.37h0.9v0.9h-0.9zM389.69 343.32h0.9v0.9h-0.9zM359.01 363.94h0.9v0.9h-0.9zM377.19 356.45h0.9v0.9h-0.9zM390.82 344.31h0.9v0.9h-0.9zM374.66 352.55h0.9v0.9h-0.9zM362.78 362.18h0.9v0.9h-0.9zM392.87 345.31h0.9v0.9h-0.9zM373.55 351.84h0.9v0.9h-0.9zM367.03 351.78h0.9v0.9h-0.9zM371.59 349.43h0.9v0.9h-0.9zM371.15 345.44h0.9v0.9h-0.9zM380.6 350.32h0.9v0.9h-0.9zM362.57 345.32h0.9v0.9h-0.9zM376.31 358.35h0.9v0.9h-0.9zM367.6 353.35h0.9v0.9h-0.9zM369.58 358.92h0.9v0.9h-0.9zM365.41 362.76h0.9v0.9h-0.9zM372.76 358.98h0.9v0.9h-0.9zM376.79 350.5h0.9v0.9h-0.9zM358.66 356.35h0.9v0.9h-0.9zM373.26 357.23h0.9v0.9h-0.9zM379.34 346.65h0.9v0.9h-0.9zM381.32 355.35h0.9v0.9h-0.9zM374.62 350.32h0.9v0.9h-0.9zM371.67 358.84h0.9v0.9h-0.9zM382.86 343.67h0.9v0.9h-0.9zM380.9 347.16h0.9v0.9h-0.9zM367.39 363.29h0.9v0.9h-0.9zM386.25 343.26h0.9v0.9h-0.9zM377.35 354.42h0.9v0.9h-0.9zM368.73 354.89h0.9v0.9h-0.9zM384.4 338.04h0.9v0.9h-0.9zM380.33 354.39h0.9v0.9h-0.9zM382.45 341.51h0.9v0.9h-0.9zM380.22 345.28h0.9v0.9h-0.9zM383.24 352.26h0.9v0.9h-0.9zM379 346.42h0.9v0.9h-0.9zM369.31 360.19h0.9v0.9h-0.9zM365.61 359.87h0.9v0.9h-0.9zM382.54 347.54h0.9v0.9h-0.9zM405.13 338.99h0.9v0.9h-0.9zM402.16 328.46h0.9v0.9h-0.9zM349.48 370.17h0.9v0.9h-0.9zM384.03 346.65h0.9v0.9h-0.9zM375.76 341.43h0.9v0.9h-0.9zM368.85 349.62h0.9v0.9h-0.9zM373.74 358.3h0.9v0.9h-0.9zM377.04 353.83h0.9v0.9h-0.9zM368.02 353.42h0.9v0.9h-0.9zM377.75 349.76h0.9v0.9h-0.9zM391.58 339.91h0.9v0.9h-0.9zM399.09 335.81h0.9v0.9h-0.9zM389.12 341.65h0.9v0.9h-0.9zM396.18 343.55h0.9v0.9h-0.9zM381.18 354.02h0.9v0.9h-0.9zM368.78 349.6h0.9v0.9h-0.9zM352.08 370.32h0.9v0.9h-0.9zM368.05 352.52h0.9v0.9h-0.9zM376.03 363.54h0.9v0.9h-0.9zM355.66 363.1h0.9v0.9h-0.9zM371.65 357.26h0.9v0.9h-0.9zM354.81 359.8h0.9v0.9h-0.9zM386.49 356.2h0.9v0.9h-0.9zM395.56 338.17h0.9v0.9h-0.9zM377.06 351.07h0.9v0.9h-0.9zM359.88 351.48h0.9v0.9h-0.9zM385.48 349.16h0.9v0.9h-0.9zM374.69 359.74h0.9v0.9h-0.9zM364.38 360.62h0.9v0.9h-0.9zM376.52 351.61h0.9v0.9h-0.9zM382.28 350.26h0.9v0.9h-0.9zM379.6 352.02h0.9v0.9h-0.9zM399.66 339.37h0.9v0.9h-0.9zM388.55 349.81h0.9v0.9h-0.9zM372.2 358.5h0.9v0.9h-0.9zM366.11 363.43h0.9v0.9h-0.9zM366.69 353.73h0.9v0.9h-0.9zM380.28 354.95h0.9v0.9h-0.9zM387.29 352.02h0.9v0.9h-0.9zM373.91 347.7h0.9v0.9h-0.9zM383 350.65h0.9v0.9h-0.9zM364.97 362.9h0.9v0.9h-0.9zM378.79 345.41h0.9v0.9h-0.9zM381.7 341.96h0.9v0.9h-0.9zM365.87 359.21h0.9v0.9h-0.9zM357.71 360.94h0.9v0.9h-0.9zM360.19 363.78h0.9v0.9h-0.9zM367.67 357.12h0.9v0.9h-0.9zM358.37 358.45h0.9v0.9h-0.9zM387.77 349.31h0.9v0.9h-0.9zM354.34 367.58h0.9v0.9h-0.9zM387.11 344.85h0.9v0.9h-0.9zM393.41 338.01h0.9v0.9h-0.9zM375.38 358.84h0.9v0.9h-0.9zM392.12 351.98h0.9v0.9h-0.9zM363.27 347.96h0.9v0.9h-0.9zM381.1 341.63h0.9v0.9h-0.9zM374.82 345.41h0.9v0.9h-0.9zM389.14 350.65h0.9v0.9h-0.9zM383.08 348.98h0.9v0.9h-0.9zM376.95 350.04h0.9v0.9h-0.9zM381 351.28h0.9v0.9h-0.9zM381.91 346.98h0.9v0.9h-0.9zM399.18 342.98h0.9v0.9h-0.9zM393.13 351.79h0.9v0.9h-0.9zM365.85 347.29h0.9v0.9h-0.9zM391.49 342.75h0.9v0.9h-0.9zM377.38 350.06h0.9v0.9h-0.9zM377.97 344.47h0.9v0.9h-0.9zM375.16 349.93h0.9v0.9h-0.9zM376.22 338.74h0.9v0.9h-0.9zM386.25 349.3h0.9v0.9h-0.9zM355.68 357.48h0.9v0.9h-0.9zM376.77 355.42h0.9v0.9h-0.9zM376.4 359.9h0.9v0.9h-0.9zM376.67 346.16h0.9v0.9h-0.9zM368.28 360.04h0.9v0.9h-0.9zM369.04 360.24h0.9v0.9h-0.9zM388.64 349.65h0.9v0.9h-0.9zM388.61 345.31h0.9v0.9h-0.9zM376.28 348.67h0.9v0.9h-0.9zM369.08 346.47h0.9v0.9h-0.9zM369.73 348.99h0.9v0.9h-0.9zM359.27 360.83h0.9v0.9h-0.9zM381.86 347.5h0.9v0.9h-0.9zM392.82 349.71h0.9v0.9h-0.9zM388.94 342.7h0.9v0.9h-0.9zM358.49 363.54h0.9v0.9h-0.9zM380.1 354.42h0.9v0.9h-0.9zM381.4 356.87h0.9v0.9h-0.9zM372.94 357.43h0.9v0.9h-0.9zM365.66 343.82h0.9v0.9h-0.9zM371.07 363.05h0.9v0.9h-0.9zM356.29 367.2h0.9v0.9h-0.9zM368.25 353.52h0.9v0.9h-0.9zM376.92 352.97h0.9v0.9h-0.9zM364.71 358.18h0.9v0.9h-0.9zM381.73 354.28h0.9v0.9h-0.9zM367.35 365.09h0.9v0.9h-0.9zM399.29 355.12h0.9v0.9h-0.9zM360.31 360.5h0.9v0.9h-0.9zM354.09 364.57h0.9v0.9h-0.9zM383.06 342.33h0.9v0.9h-0.9zM357.37 361.95h0.9v0.9h-0.9zM383.94 343.96h0.9v0.9h-0.9zM373.26 339.03h0.9v0.9h-0.9zM367.91 356.8h0.9v0.9h-0.9zM378.22 360.19h0.9v0.9h-0.9zM362.7 345.52h0.9v0.9h-0.9zM381.83 346.09h0.9v0.9h-0.9zM379.84 354.5h0.9v0.9h-0.9zM383.61 356.87h0.9v0.9h-0.9zM392.63 334.92h0.9v0.9h-0.9zM375.64 363.78h0.9v0.9h-0.9zM371.51 359.8h0.9v0.9h-0.9zM375.73 349.91h0.9v0.9h-0.9zM395.39 349.09h0.9v0.9h-0.9zM373.48 358.55h0.9v0.9h-0.9zM360.64 355.21h0.9v0.9h-0.9zM387.23 347.17h0.9v0.9h-0.9zM363.65 360.52h0.9v0.9h-0.9zM380.35 357.5h0.9v0.9h-0.9zM387.88 345.07h0.9v0.9h-0.9zM370.59 353.92h0.9v0.9h-0.9zM373.65 361.64h0.9v0.9h-0.9zM395.46 350.86h0.9v0.9h-0.9zM380.95 348.48h0.9v0.9h-0.9zM387.24 344.95h0.9v0.9h-0.9zM379.24 341.16h0.9v0.9h-0.9zM371.32 362.6h0.9v0.9h-0.9zM364.08 349.23h0.9v0.9h-0.9zM374.43 362.44h0.9v0.9h-0.9zM393.81 341.82h0.9v0.9h-0.9zM370.67 354.04h0.9v0.9h-0.9zM365.23 357.42h0.9v0.9h-0.9zM372.8 345.25h0.9v0.9h-0.9zM369.45 353.78h0.9v0.9h-0.9zM366.07 350.43h0.9v0.9h-0.9zM387.26 357.76h0.9v0.9h-0.9zM372.95 351.18h0.9v0.9h-0.9zM382.43 347.88h0.9v0.9h-0.9zM367.01 364.33h0.9v0.9h-0.9zM363.9 353.65h0.9v0.9h-0.9zM368.43 350.67h0.9v0.9h-0.9zM373.54 356.62h0.9v0.9h-0.9zM393.69 347.72h0.9v0.9h-0.9zM376.82 344.65h0.9v0.9h-0.9zM375.66 346.96h0.9v0.9h-0.9zM375.23 358.14h0.9v0.9h-0.9zM378.85 349.65h0.9v0.9h-0.9zM367.36 356.09h0.9v0.9h-0.9zM377.73 346.08h0.9v0.9h-0.9zM370.33 359.87h0.9v0.9h-0.9zM356.47 358.77h0.9v0.9h-0.9zM362.4 367.37h0.9v0.9h-0.9zM383.66 351.55h0.9v0.9h-0.9zM381.15 351.42h0.9v0.9h-0.9zM379.9 341.31h0.9v0.9h-0.9zM379.49 353.95h0.9v0.9h-0.9zM359.26 364.71h0.9v0.9h-0.9zM384.41 339.57h0.9v0.9h-0.9zM370.74 352.89h0.9v0.9h-0.9zM370.08 357.18h0.9v0.9h-0.9zM361.08 357.87h0.9v0.9h-0.9zM379.1 354.88h0.9v0.9h-0.9zM376.99 350.34h0.9v0.9h-0.9zM384.69 336.76h0.9v0.9h-0.9zM387.6 345.01h0.9v0.9h-0.9zM361.39 356.55h0.9v0.9h-0.9zM354.4 350.59h0.9v0.9h-0.9zM372.48 349.39h0.9v0.9h-0.9zM385.2 342.83h0.9v0.9h-0.9zM360.86 353.78h0.9v0.9h-0.9zM396.99 342.54h0.9v0.9h-0.9zM369.06 349.77h0.9v0.9h-0.9zM363.21 357.21h0.9v0.9h-0.9zM381.53 356.18h0.9v0.9h-0.9zM390.16 347.13h0.9v0.9h-0.9zM368.49 350.78h0.9v0.9h-0.9zM381.44 347.71h0.9v0.9h-0.9zM380.81 342.24h0.9v0.9h-0.9zM387.17 348.66h0.9v0.9h-0.9zM376.9 354.05h0.9v0.9h-0.9zM349.56 361.34h0.9v0.9h-0.9zM365.64 367.37h0.9v0.9h-0.9zM374.2 350.14h0.9v0.9h-0.9zM386.64 341.2h0.9v0.9h-0.9zM393.47 340.02h0.9v0.9h-0.9zM375.69 347.1h0.9v0.9h-0.9zM386.09 335.07h0.9v0.9h-0.9zM384.69 343.45h0.9v0.9h-0.9zM376.99 345.15h0.9v0.9h-0.9zM379.14 351.79h0.9v0.9h-0.9zM383.48 350.49h0.9v0.9h-0.9zM383.88 354.18h0.9v0.9h-0.9zM371.73 347.44h0.9v0.9h-0.9zM361.07 363.04h0.9v0.9h-0.9zM371.89 360.12h0.9v0.9h-0.9zM376.94 345.96h0.9v0.9h-0.9zM387.26 358.03h0.9v0.9h-0.9zM374.23 347.65h0.9v0.9h-0.9zM366.25 361.82h0.9v0.9h-0.9zM369.38 352.96h0.9v0.9h-0.9zM384.62 348.23h0.9v0.9h-0.9zM377.78 348.24h0.9v0.9h-0.9zM368.74 356.51h0.9v0.9h-0.9zM378.26 354.52h0.9v0.9h-0.9zM370.41 356.77h0.9v0.9h-0.9zM382.11 349.81h0.9v0.9h-0.9zM383.25 354.58h0.9v0.9h-0.9zM378.78 351.34h0.9v0.9h-0.9zM364.77 359.3h0.9v0.9h-0.9zM375.28 350.75h0.9v0.9h-0.9zM366.5 359.9h0.9v0.9h-0.9zM407.11 340.14h0.9v0.9h-0.9zM377.44 354.01h0.9v0.9h-0.9zM369.29 355.86h0.9v0.9h-0.9zM368.45 352.04h0.9v0.9h-0.9zM379.19 352.01h0.9v0.9h-0.9zM375.05 348.09h0.9v0.9h-0.9zM379.56 344.31h0.9v0.9h-0.9zM385.66 345.7h0.9v0.9h-0.9zM376.4 356.49h0.9v0.9h-0.9zM383.08 341.49h0.9v0.9h-0.9zM373.41 355.49h0.9v0.9h-0.9zM363.35 344.35h0.9v0.9h-0.9zM375.54 352.13h0.9v0.9h-0.9zM381.53 350.08h0.9v0.9h-0.9zM377.97 352.63h0.9v0.9h-0.9zM392.9 347.07h0.9v0.9h-0.9zM382.91 346.72h0.9v0.9h-0.9zM389.88 344.65h0.9v0.9h-0.9zM385.25 335.83h0.9v0.9h-0.9zM379.34 350.07h0.9v0.9h-0.9zM370.87 361.93h0.9v0.9h-0.9zM381.26 348.93h0.9v0.9h-0.9zM370.1 365.65h0.9v0.9h-0.9zM385.36 351.56h0.9v0.9h-0.9zM367.26 363.71h0.9v0.9h-0.9zM383.1 347.34h0.9v0.9h-0.9zM375.15 343.31h0.9v0.9h-0.9zM384.21 342.13h0.9v0.9h-0.9zM386.5 344.78h0.9v0.9h-0.9zM368.95 357.58h0.9v0.9h-0.9zM378.93 344.39h0.9v0.9h-0.9zM375.51 355.88h0.9v0.9h-0.9zM373.4 345.74h0.9v0.9h-0.9zM373.49 347.88h0.9v0.9h-0.9zM369.49 355.49h0.9v0.9h-0.9zM375.77 351.1h0.9v0.9h-0.9zM356.61 363.22h0.9v0.9h-0.9zM374.01 350.8h0.9v0.9h-0.9zM378.26 362.1h0.9v0.9h-0.9zM360.98 350.05h0.9v0.9h-0.9zM385.52 343.25h0.9v0.9h-0.9zM391.95 339.14h0.9v0.9h-0.9zM370.61 359.45h0.9v0.9h-0.9zM387.3 349.44h0.9v0.9h-0.9zM381.83 348.72h0.9v0.9h-0.9zM371.14 353.3h0.9v0.9h-0.9zM391.57 348.94h0.9v0.9h-0.9zM376.62 353.7h0.9v0.9h-0.9zM386.31 354.1h0.9v0.9h-0.9zM374.82 352.29h0.9v0.9h-0.9zM380.35 364.98h0.9v0.9h-0.9zM379.28 357.87h0.9v0.9h-0.9zM358.09 365.36h0.9v0.9h-0.9zM359.63 353.68h0.9v0.9h-0.9zM368.84 354.72h0.9v0.9h-0.9zM378.54 353.08h0.9v0.9h-0.9zM379.08 348.27h0.9v0.9h-0.9zM407.31 339.81h0.9v0.9h-0.9zM384.36 359.76h0.9v0.9h-0.9zM387.92 349.9h0.9v0.9h-0.9zM380.25 360.79h0.9v0.9h-0.9zM363.53 352.58h0.9v0.9h-0.9zM378.14 339.64h0.9v0.9h-0.9zM367.14 362.72h0.9v0.9h-0.9zM370.92 355.49h0.9v0.9h-0.9zM384.64 341.56h0.9v0.9h-0.9zM379.63 346.93h0.9v0.9h-0.9zM363.4 356.51h0.9v0.9h-0.9zM375.74 350.04h0.9v0.9h-0.9zM368.55 361.08h0.9v0.9h-0.9zM390.11 348.75h0.9v0.9h-0.9zM375.24 346.58h0.9v0.9h-0.9zM366.64 350.29h0.9v0.9h-0.9zM378.89 356.01h0.9v0.9h-0.9zM387.24 346.8h0.9v0.9h-0.9zM371.84 355.14h0.9v0.9h-0.9zM377.85 354.69h0.9v0.9h-0.9zM393.93 339.95h0.9v0.9h-0.9zM401.27 328.51h0.9v0.9h-0.9zM355.24 353.31h0.9v0.9h-0.9zM364.21 356.36h0.9v0.9h-0.9zM400.96 336.58h0.9v0.9h-0.9zM389.52 343.83h0.9v0.9h-0.9zM378.2 345.38h0.9v0.9h-0.9zM403.39 339.19h0.9v0.9h-0.9zM369.09 368.28h0.9v0.9h-0.9zM378.55 353.35h0.9v0.9h-0.9zM374.67 348.11h0.9v0.9h-0.9zM359.39 358.94h0.9v0.9h-0.9zM395.6 345.42h0.9v0.9h-0.9zM374.32 358.97h0.9v0.9h-0.9zM365.32 364.96h0.9v0.9h-0.9zM376.2 347.39h0.9v0.9h-0.9zM384.46 351.15h0.9v0.9h-0.9zM372.31 355.12h0.9v0.9h-0.9zM388.03 354.53h0.9v0.9h-0.9zM366.33 341.81h0.9v0.9h-0.9zM400.73 339.16h0.9v0.9h-0.9zM371.44 356.75h0.9v0.9h-0.9zM371.32 360.27h0.9v0.9h-0.9zM361.6 357.75h0.9v0.9h-0.9zM361.46 367.6h0.9v0.9h-0.9zM373.46 359.59h0.9v0.9h-0.9zM392.89 337.54h0.9v0.9h-0.9zM373.78 357.3h0.9v0.9h-0.9zM376.99 350.96h0.9v0.9h-0.9zM386.41 352.5h0.9v0.9h-0.9zM369.36 354.52h0.9v0.9h-0.9zM384.1 349.6h0.9v0.9h-0.9zM378.08 344.87h0.9v0.9h-0.9zM397.28 340.96h0.9v0.9h-0.9zM379.58 350.32h0.9v0.9h-0.9zM377.18 352.49h0.9v0.9h-0.9zM366.47 358.78h0.9v0.9h-0.9zM390.71 347.6h0.9v0.9h-0.9zM385.02 350.72h0.9v0.9h-0.9zM376.78 362.11h0.9v0.9h-0.9zM368.28 357.97h0.9v0.9h-0.9zM388.63 347.94h0.9v0.9h-0.9zM363.87 351.69h0.9v0.9h-0.9zM395.01 337.89h0.9v0.9h-0.9zM376.51 355.03h0.9v0.9h-0.9zM377.51 341.41h0.9v0.9h-0.9zM353.81 361.95h0.9v0.9h-0.9zM367.19 354.82h0.9v0.9h-0.9zM377.49 352.42h0.9v0.9h-0.9zM360.48 349.9h0.9v0.9h-0.9zM387.6 343.21h0.9v0.9h-0.9zM362.44 347.2h0.9v0.9h-0.9zM382.78 341.88h0.9v0.9h-0.9zM363.94 361.35h0.9v0.9h-0.9zM380.04 353.49h0.9v0.9h-0.9zM361.31 342.78h0.9v0.9h-0.9zM364.64 355.78h0.9v0.9h-0.9zM368.5 360.73h0.9v0.9h-0.9zM380.7 344.07h0.9v0.9h-0.9zM383.14 348.01h0.9v0.9h-0.9zM370.62 361.07h0.9v0.9h-0.9zM356.48 367.16h0.9v0.9h-0.9zM389.41 334.25h0.9v0.9h-0.9zM374.12 352.14h0.9v0.9h-0.9zM362.87 355.06h0.9v0.9h-0.9zM366.71 356.88h0.9v0.9h-0.9zM369.73 342.94h0.9v0.9h-0.9zM390.67 350.44h0.9v0.9h-0.9zM366.44 361.62h0.9v0.9h-0.9zM400.57 331.88h0.9v0.9h-0.9zM371.5 351.33h0.9v0.9h-0.9zM383.06 347.16h0.9v0.9h-0.9zM359.67 366.99h0.9v0.9h-0.9zM372.55 357.95h0.9v0.9h-0.9zM403.78 334.98h0.9v0.9h-0.9zM371.48 359.5h0.9v0.9h-0.9zM375.13 355.57h0.9v0.9h-0.9zM376.35 368.02h0.9v0.9h-0.9zM384.02 350.42h0.9v0.9h-0.9zM377.91 353.51h0.9v0.9h-0.9zM356.89 359.56h0.9v0.9h-0.9zM385.33 340.98h0.9v0.9h-0.9zM376.91 351.22h0.9v0.9h-0.9zM370.25 369.13h0.9v0.9h-0.9zM384.99 349.9h0.9v0.9h-0.9zM366.98 356.88h0.9v0.9h-0.9zM372.83 353.16h0.9v0.9h-0.9zM379.06 365.06h0.9v0.9h-0.9zM392.48 354.27h0.9v0.9h-0.9zM392.9 360.44h0.9v0.9h-0.9zM368.5 348.35h0.9v0.9h-0.9zM378.92 352.32h0.9v0.9h-0.9zM376.84 348.24h0.9v0.9h-0.9zM384.67 358.01h0.9v0.9h-0.9zM379.08 349.47h0.9v0.9h-0.9zM390.8 343.56h0.9v0.9h-0.9zM372.18 355.8h0.9v0.9h-0.9zM375.18 355.55h0.9v0.9h-0.9zM380.22 352.57h0.9v0.9h-0.9zM360.41 369.61h0.9v0.9h-0.9zM383.34 350.5h0.9v0.9h-0.9zM414.26 327.11h0.9v0.9h-0.9zM385.35 347.29h0.9v0.9h-0.9zM358.44 371.5h0.9v0.9h-0.9zM357.77 361.53h0.9v0.9h-0.9zM375.43 353.54h0.9v0.9h-0.9zM365.16 365.08h0.9v0.9h-0.9zM379.5 343.29h0.9v0.9h-0.9zM361.86 360.37h0.9v0.9h-0.9zM362.53 360.98h0.9v0.9h-0.9zM380.4 346.82h0.9v0.9h-0.9zM353.27 355.38h0.9v0.9h-0.9zM380.77 347.03h0.9v0.9h-0.9zM398.77 339.07h0.9v0.9h-0.9zM381.05 353.74h0.9v0.9h-0.9z" fill="#222" fill-opacity="0.4"/>
<path d="M385.28 350.5h0.9v0.9h-0.9zM393.55 344.38h0.9v0.9h-0.9zM387.49 347.13h0.9v0.9h-0.9zM402.5 340.3h0.9v0.9h-0.9zM391.99 336.3h0.9v0.9h-0.9zM380.07 348.91h0.9v0.9h-0.9zM384.8 348.39h0.9v0.9h-0.9zM375 354.47h0.9v0.9h-0.9zM391.79 349.22h0.9v0.9h-0.9zM379.66 356.05h0.9v0.9h-0.9zM378.88 355.1h0.9v0.9h-0.9zM376.72 357.68h0.9v0.9h-0.9zM405.35 337.22h0.9v0.9h-0.9zM395.47 339.15h0.9v0.9h-0.9zM378.74 361.64h0.9v0.9h-0.9zM383.83 351.93h0.9v0.9h-0.9zM369.79 358.25h0.9v0.9h-0.9zM377.39 357.8h0.9v0.9h-0.9zM379.65 360.77h0.9v0.9h-0.9zM374.59 356.61h0.9v0.9h-0.9zM366.41 358.93h0.9v0.9h-0.9zM395.4 343.44h0.9v0.9h-0.9zM372.75 358.18h0.9v0.9h-0.9zM392.99 346.53h0.9v0.9h-0.9zM393.37 340.43h0.9v0.9h-0.9zM400.86 342.94h0.9v0.9h-0.9zM365.46 366.67h0.9v0.9h-0.9zM380.22 354h0.9v0.9h-0.9zM366.59 358.12h0.9v0.9h-0.9zM367.98 361.97h0.9v0.9h-0.9zM382.35 348.26h0.9v0.9h-0.9zM381.06 355.45h0.9v0.9h-0.9zM377.4 355.77h0.9v0.9h-0.9zM373.77 350.77h0.9v0.9h-0.9zM380.04 351.57h0.9v0.9h-0.9zM386.03 352.07h0.9v0.9h-0.9zM380.69 350.96h0.9v0.9h-0.9zM391.3 347.45h0.9v0.9h-0.9zM383.95 351.01h0.9v0.9h-0.9zM364.71 359.44h0.9v0.9h-0.9zM370.02 357.04h0.9v0.9h-0.9zM392.52 340.09h0.9v0.9h-0.9zM392.7 343.53h0.9v0.9h-0.9zM382.52 349.6h0.9v0.9h-0.9zM390.8 344.27h0.9v0.9h-0.9zM365.71 361.62h0.9v0.9h-0.9zM383.06 352.75h0.9v0.9h-0.9zM389.83 343.1h0.9v0.9h-0.9zM386.25 349.34h0.9v0.9h-0.9zM383.74 350.68h0.9v0.9h-0.9zM387.24 346.64h0.9v0.9h-0.9zM383.05 353.87h0.9v0.9h-0.9zM374.85 355.17h0.9v0.9h-0.9zM375.27 351.82h0.9v0.9h-0.9zM380.66 352.68h0.9v0.9h-0.9zM398.08 341.61h0.9v0.9h-0.9zM392.81 346.95h0.9v0.9h-0.9zM385.03 339.85h0.9v0.9h-0.9zM385.54 349.53h0.9v0.9h-0.9zM375.05 355.71h0.9v0.9h-0.9zM397.67 338.84h0.9v0.9h-0.9zM379.8 355.47h0.9v0.9h-0.9zM368.19 355.92h0.9v0.9h-0.9zM387.07 351.5h0.9v0.9h-0.9zM395.35 346.18h0.9v0.9h-0.9zM405.15 339.47h0.9v0.9h-0.9zM372.77 355.97h0.9v0.9h-0.9zM390.03 347.99h0.9v0.9h-0.9zM366.98 361.09h0.9v0.9h-0.9zM377.25 353.42h0.9v0.9h-0.9zM397.56 342.02h0.9v0.9h-0.9zM378.44 353h0.9v0.9h-0.9zM378.6 359.75h0.9v0.9h-0.9zM391.84 348.67h0.9v0.9h-0.9zM378.26 351.46h0.9v0.9h-0.9zM386.72 341.8h0.9v0.9h-0.9zM393.61 340.74h0.9v0.9h-0.9zM385.31 350.55h0.9v0.9h-0.9zM377.3 355.14h0.9v0.9h-0.9zM390.69 352.44h0.9v0.9h-0.9zM387.94 353.74h0.9v0.9h-0.9zM388.6 347.01h0.9v0.9h-0.9zM392.15 343.96h0.9v0.9h-0.9zM385.77 351.2h0.9v0.9h-0.9zM394.68 345.05h0.9v0.9h-0.9zM371.27 361.54h0.9v0.9h-0.9zM385.94 348.19h0.9v0.9h-0.9zM377.13 355.95h0.9v0.9h-0.9zM387.4 350.46h0.9v0.9h-0.9zM383.24 355.51h0.9v0.9h-0.9zM382.05 352.62h0.9v0.9h-0.9zM386.2 352.34h0.9v0.9h-0.9zM378.2 352.57h0.9v0.9h-0.9zM382.45 349.01h0.9v0.9h-0.9zM378.51 349.53h0.9v0.9h-0.9zM391.15 350.88h0.9v0.9h-0.9zM375.58 357.43h0.9v0.9h-0.9zM374.06 353.3h0.9v0.9h-0.9zM381.54 352h0.9v0.9h-0.9zM388.48 341.59h0.9v0.9h-0.9zM372.58 356.95h0.9v0.9h-0.9zM382.17 357.98h0.9v0.9h-0.9zM381.89 349.36h0.9v0.9h-0.9zM395.23 335.44h0.9v0.9h-0.9zM367.61 368.08h0.9v0.9h-0.9zM378.78 353.39h0.9v0.9h-0.9zM382.71 348.15h0.9v0.9h-0.9zM383.08 346.59h0.9v0.9h-0.9zM393 347.55h0.9v0.9h-0.9zM390.47 343.65h0.9v0.9h-0.9zM367 358.32h0.9v0.9h-0.9zM374.5 356.82h0.9v0.9h-0.9zM369.85 355.32h0.9v0.9h-0.9zM385.56 350.68h0.9v0.9h-0.9zM385.2 345.55h0.9v0.9h-0.9zM378.22 359.81h0.9v0.9h-0.9zM392.81 342.62h0.9v0.9h-0.9zM401.47 339.89h0.9v0.9h-0.9zM384.31 347.43h0.9v0.9h-0.9zM397.93 342.66h0.9v0.9h-0.9zM383.62 347.52h0.9v0.9h-0.9zM372.86 357.09h0.9v0.9h-0.9zM384.41 354.88h0.9v0.9h-0.9zM376.19 353.46h0.9v0.9h-0.9zM393.23 347.55h0.9v0.9h-0.9zM378.27 358.07h0.9v0.9h-0.9zM388.62 350.41h0.9v0.9h-0.9zM387.46 351.32h0.9v0.9h-0.9zM380.6 351.46h0.9v0.9h-0.9zM394.12 345.72h0.9v0.9h-0.9zM387.6 351.76h0.9v0.9h-0.9zM386.46 350.1h0.9v0.9h-0.9zM364.57 359.56h0.9v0.9h-0.9zM391.74 343.04h0.9v0.9h-0.9zM381.74 352.21h0.9v0.9h-0.9zM383.11 353.44h0.9v0.9h-0.9zM388.59 347.06h0.9v0.9h-0.9zM394.1 343.35h0.9v0.9h-0.9zM377.97 354.63h0.9v0.9h-0.9zM390.02 346.34h0.9v0.9h-0.9zM374.7 353.86h0.9v0.9h-0.9zM386.39 351h0.9v0.9h-0.9zM400.25 340.51h0.9v0.9h-0.9zM382.38 344.35h0.9v0.9h-0.9zM395.83 346.38h0.9v0.9h-0.9zM384.42 347.73h0.9v0.9h-0.9zM360.91 365.59h0.9v0.9h-0.9zM377.32 358.76h0.9v0.9h-0.9zM391.18 350.2h0.9v0.9h-0.9zM383.09 354.48h0.9v0.9h-0.9zM371.75 361.76h0.9v0.9h-0.9zM384.06 346.45h0.9v0.9h-0.9zM380.75 348.99h0.9v0.9h-0.9zM386.72 346.39h0.9v0.9h-0.9zM372.91 355.36h0.9v0.9h-0.9zM382.28 351.83h0.9v0.9h-0.9zM390.6 350.45h0.9v0.9h-0.9zM388.05 353.1h0.9v0.9h-0.9zM362.14 362.37h0.9v0.9h-0.9zM392.77 341.1h0.9v0.9h-0.9zM382.53 351.74h0.9v0.9h-0.9zM370.44 356.09h0.9v0.9h-0.9zM389.73 345.97h0.9v0.9h-0.9zM398.14 349.66h0.9v0.9h-0.9zM383.71 346.76h0.9v0.9h-0.9zM384.03 348.42h0.9v0.9h-0.9zM371.53 356.01h0.9v0.9h-0.9zM380.16 351.27h0.9v0.9h-0.9zM392.63 348.69h0.9v0.9h-0.9zM388.07 346.78h0.9v0.9h-0.9zM388.14 347.94h0.9v0.9h-0.9zM386.37 345.82h0.9v0.9h-0.9zM356.7 368.47h0.9v0.9h-0.9zM379.01 351.47h0.9v0.9h-0.9zM384.23 349.91h0.9v0.9h-0.9zM381.66 356.35h0.9v0.9h-0.9zM385.51 350.09h0.9v0.9h-0.9zM376.43 354.19h0.9v0.9h-0.9zM388.5 347.41h0.9v0.9h-0.9zM387.27 345.4h0.9v0.9h-0.9zM387.73 344.89h0.9v0.9h-0.9zM380.43 349.81h0.9v0.9h-0.9zM385.97 352.53h0.9v0.9h-0.9zM386.97 345.78h0.9v0.9h-0.9zM385.58 352.59h0.9v0.9h-0.9zM390.86 347.9h0.9v0.9h-0.9zM374.26 353.99h0.9v0.9h-0.9zM378.3 351.95h0.9v0.9h-0.9zM386.46 348.95h0.9v0.9h-0.9zM381.24 353.56h0.9v0.9h-0.9zM377.99 352.59h0.9v0.9h-0.9zM385.31 345.21h0.9v0.9h-0.9zM376.72 349.96h0.9v0.9h-0.9zM375 354.88h0.9v0.9h-0.9zM383.24 351.72h0.9v0.9h-0.9zM387.32 344.77h0.9v0.9h-0.9zM401.06 344.79h0.9v0.9h-0.9zM373.45 354.03h0.9v0.9h-0.9zM380.07 353.07h0.9v0.9h-0.9zM389.86 346.9h0.9v0.9h-0.9zM361.43 372.02h0.9v0.9h-0.9zM392.02 348.26h0.9v0.9h-0.9zM377.67 354.12h0.9v0.9h-0.9zM392.68 343.82h0.9v0.9h-0.9zM394.57 344.5h0.9v0.9h-0.9zM398.53 342.14h0.9v0.9h-0.9zM397.7 337.43h0.9v0.9h-0.9zM397.29 344.1h0.9v0.9h-0.9zM380.97 355.31h0.9v0.9h-0.9zM382.01 353.92h0.9v0.9h-0.9zM392.88 348.48h0.9v0.9h-0.9zM404.12 343.13h0.9v0.9h-0.9zM406.74 339.56h0.9v0.9h-0.9zM385.75 350.47h0.9v0.9h-0.9zM384.04 346.32h0.9v0.9h-0.9zM385.67 345.54h0.9v0.9h-0.9zM381.85 350.48h0.9v0.9h-0.9zM379.43 349.45h0.9v0.9h-0.9zM385.38 349.36h0.9v0.9h-0.9zM396.69 345.01h0.9v0.9h-0.9zM392.82 343.75h0.9v0.9h-0.9zM381.6 347.66h0.9v0.9h-0.9zM376.6 356.66h0.9v0.9h-0.9zM382.65 350.54h0.9v0.9h-0.9zM379.36 357.72h0.9v0.9h-0.9zM383.88 353.87h0.9v0.9h-0.9zM384.04 353.17h0.9v0.9h-0.9zM375.71 350.69h0.9v0.9h-0.9zM394.27 343.44h0.9v0.9h-0.9zM386.79 351.39h0.9v0.9h-0.9zM390.62 347.32h0.9v0.9h-0.9zM373.74 353.84h0.9v0.9h-0.9zM384.7 351.83h0.9v0.9h-0.9zM389.01 348.53h0.9v0.9h-0.9zM377.49 353.89h0.9v0.9h-0.9zM393.05 342.38h0.9v0.9h-0.9zM379.27 355.74h0.9v0.9h-0.9zM398.56 343.25h0.9v0.9h-0.9zM384.46 346.96h0.9v0.9h-0.9zM383.3 348.13h0.9v0.9h-0.9zM385.63 351.53h0.9v0.9h-0.9zM388.44 351.79h0.9v0.9h-0.9zM375.3 351.19h0.9v0.9h-0.9zM396.6 346.36h0.9v0.9h-0.9zM375.7 355.35h0.9v0.9h-0.9zM374.82 355.36h0.9v0.9h-0.9zM387.18 351.44h0.9v0.9h-0.9zM375.73 350.93h0.9v0.9h-0.9zM389.49 346.06h0.9v0.9h-0.9zM396.91 339.32h0.9v0.9h-0.9zM378.61 344.7h0.9v0.9h-0.9zM394.49 348.45h0.9v0.9h-0.9zM388.1 346.95h0.9v0.9h-0.9zM366.33 355.95h0.9v0.9h-0.9zM379.68 358.67h0.9v0.9h-0.9zM392.4 343.59h0.9v0.9h-0.9zM388.24 349.57h0.9v0.9h-0.9zM388.93 344.53h0.9v0.9h-0.9zM380.5 355.34h0.9v0.9h-0.9zM390.6 345.43h0.9v0.9h-0.9zM406.23 338.52h0.9v0.9h-0.9zM380.77 354.9h0.9v0.9h-0.9zM391.64 345.51h0.9v0.9h-0.9zM400.56 344.24h0.9v0.9h-0.9zM384.65 352.1h0.9v0.9h-0.9zM390.4 345.73h0.9v0.9h-0.9zM390.99 344.61h0.9v0.9h-0.9zM382.34 353.25h0.9v0.9h-0.9zM373.27 355.24h0.9v0.9h-0.9zM375.8 357.12h0.9v0.9h-0.9zM379.29 358.65h0.9v0.9h-0.9zM398.17 340.06h0.9v0.9h-0.9zM385.86 348.07h0.9v0.9h-0.9zM384.39 352.14h0.9v0.9h-0.9zM397.72 349.32h0.9v0.9h-0.9zM400.91 336.72h0.9v0.9h-0.9zM380.21 351.81h0.9v0.9h-0.9zM381.65 352.03h0.9v0.9h-0.9zM390.24 345.29h0.9v0.9h-0.9zM379.24 360.34h0.9v0.9h-0.9zM390.63 353.28h0.9v0.9h-0.9zM379.41 357.16h0.9v0.9h-0.9zM399.48 345.65h0.9v0.9h-0.9zM377.74 355.5h0.9v0.9h-0.9zM377.57 350.37h0.9v0.9h-0.9zM384.37 351.64h0.9v0.9h-0.9zM382.61 350.69h0.9v0.9h-0.9zM390.11 344.67h0.9v0.9h-0.9zM388.28 350.27h0.9v0.9h-0.9zM390.33 348.45h0.9v0.9h-0.9zM375.54 354.16h0.9v0.9h-0.9zM380.63 354.4h0.9v0.9h-0.9zM368.83 359.29h0.9v0.9h-0.9zM370.18 360.12h0.9v0.9h-0.9zM379.87 352.74h0.9v0.9h-0.9zM392.79 350.62h0.9v0.9h-0.9zM375.64 355.37h0.9v0.9h-0.9zM367.07 359.22h0.9v0.9h-0.9zM378.36 355.54h0.9v0.9h-0.9zM383.52 350.85h0.9v0.9h-0.9zM374.53 354.59h0.9v0.9h-0.9zM374.54 355.68h0.9v0.9h-0.9zM370.34 358.83h0.9v0.9h-0.9zM394.32 352.59h0.9v0.9h-0.9zM397.97 346.49h0.9v0.9h-0.9zM391.67 350.9h0.9v0.9h-0.9zM384.16 351.41h0.9v0.9h-0.9zM367.76 357.9h0.9v0.9h-0.9zM394.8 338.76h0.9v0.9h-0.9zM387.35 348.2h0.9v0.9h-0.9zM381.3 352.79h0.9v0.9h-0.9zM384.72 346.36h0.9v0.9h-0.9zM383.8 344.71h0.9v0.9h-0.9zM397.93 342.3h0.9v0.9h-0.9zM392.44 342.63h0.9v0.9h-0.9zM400.97 343.84h0.9v0.9h-0.9zM387.6 348.91h0.9v0.9h-0.9zM387.93 345.75h0.9v0.9h-0.9zM383.27 349.99h0.9v0.9h-0.9zM387.88 352.89h0.9v0.9h-0.9zM394.86 344.96h0.9v0.9h-0.9zM390.18 345.89h0.9v0.9h-0.9zM380.24 347.35h0.9v0.9h-0.9zM373.21 352.65h0.9v0.9h-0.9zM383.91 349.77h0.9v0.9h-0.9zM388.39 351.4h0.9v0.9h-0.9zM390.58 346.08h0.9v0.9h-0.9zM380.37 351.42h0.9v0.9h-0.9zM389.98 344.02h0.9v0.9h-0.9zM371.14 356.87h0.9v0.9h-0.9zM393.91 348.47h0.9v0.9h-0.9zM389.9 340.93h0.9v0.9h-0.9zM383.11 353h0.9v0.9h-0.9zM394.22 350.26h0.9v0.9h-0.9zM376.12 355.88h0.9v0.9h-0.9zM370.58 357.21h0.9v0.9h-0.9zM381.02 354.52h0.9v0.9h-0.9zM385.99 343.66h0.9v0.9h-0.9zM383.4 351.75h0.9v0.9h-0.9zM397.5 340.35h0.9v0.9h-0.9zM376.79 352.51h0.9v0.9h-0.9zM393.63 343.91h0.9v0.9h-0.9zM385.26 350.93h0.9v0.9h-0.9zM377.17 357.55h0.9v0.9h-0.9zM370.02 363.91h0.9v0.9h-0.9zM378.53 350.5h0.9v0.9h-0.9zM377.88 350.07h0.9v0.9h-0.9zM376.62 351.92h0.9v0.9h-0.9zM374.05 355.34h0.9v0.9h-0.9zM387.27 346.57h0.9v0.9h-0.9zM386.07 346.46h0.9v0.9h-0.9zM386.43 347.85h0.9v0.9h-0.9zM374.71 355.81h0.9v0.9h-0.9zM382.95 348.76h0.9v0.9h-0.9zM384.02 351.9h0.9v0.9h-0.9zM373.47 354.63h0.9v0.9h-0.9zM390.03 346.81h0.9v0.9h-0.9zM391.43 353.56h0.9v0.9h-0.9zM373.24 357.46h0.9v0.9h-0.9zM381.14 356.34h0.9v0.9h-0.9zM389.57 342.72h0.9v0.9h-0.9zM394.08 344.54h0.9v0.9h-0.9zM381.69 351.6h0.9v0.9h-0.9zM386.36 346.21h0.9v0.9h-0.9zM381.01 356.19h0.9v0.9h-0.9zM375.32 353.27h0.9v0.9h-0.9zM391.3 343.13h0.9v0.9h-0.9zM382.59 351.99h0.9v0.9h-0.9zM376.31 353.6h0.9v0.9h-0.9zM376.3 353.92h0.9v0.9h-0.9zM386.9 348.62h0.9v0.9h-0.9zM386.59 349.94h0.9v0.9h-0.9zM391.46 342.65h0.9v0.9h-0.9zM385.42 354.39h0.9v0.9h-0.9zM382.26 350.37h0.9v0.9h-0.9zM384.45 347.69h0.9v0.9h-0.9zM389.38 347.15h0.9v0.9h-0.9zM382.88 353.19h0.9v0.9h-0.9zM395.18 339.45h0.9v0.9h-0.9zM379.91 351.68h0.9v0.9h-0.9zM371.78 359.28h0.9v0.9h-0.9zM403.35 341.8h0.9v0.9h-0.9zM395.72 337.43h0.9v0.9h-0.9zM380.44 348.09h0.9v0.9h-0.9zM391.41 345.64h0.9v0.9h-0.9zM382.82 352.42h0.9v0.9h-0.9zM391.22 351.26h0.9v0.9h-0.9zM396.68 345.98h0.9v0.9h-0.9zM369.73 362.24h0.9v0.9h-0.9zM385.23 344.72h0.9v0.9h-0.9zM385.89 348.38h0.9v0.9h-0.9zM383.56 353.49h0.9v0.9h-0.9zM372.29 358.88h0.9v0.9h-0.9zM395.12 340.36h0.9v0.9h-0.9zM396.92 340.79h0.9v0.9h-0.9zM377.75 356.72h0.9v0.9h-0.9zM384.25 344.28h0.9v0.9h-0.9zM378.63 355.43h0.9v0.9h-0.9zM379.53 351.26h0.9v0.9h-0.9zM384.48 349.93h0.9v0.9h-0.9zM378.23 350.56h0.9v0.9h-0.9zM388.36 351.62h0.9v0.9h-0.9zM361.68 364.18h0.9v0.9h-0.9zM393.35 342.14h0.9v0.9h-0.9zM397.3 337.95h0.9v0.9h-0.9zM392.97 350.25h0.9v0.9h-0.9zM398.19 333.8h0.9v0.9h-0.9zM384.94 346.54h0.9v0.9h-0.9zM387.94 352.42h0.9v0.9h-0.9zM388.1 353.06h0.9v0.9h-0.9zM369.38 355.85h0.9v0.9h-0.9zM379.66 354.79h0.9v0.9h-0.9zM395.34 341.17h0.9v0.9h-0.9zM376.07 357.53h0.9v0.9h-0.9zM372.53 358.51h0.9v0.9h-0.9zM377.06 353.89h0.9v0.9h-0.9zM402.98 338.64h0.9v0.9h-0.9zM384.8 347.23h0.9v0.9h-0.9zM389.41 351.97h0.9v0.9h-0.9zM390.15 342.61h0.9v0.9h-0.9zM387.67 353.06h0.9v0.9h-0.9zM375.79 354.43h0.9v0.9h-0.9zM376.07 352.89h0.9v0.9h-0.9zM375.48 350.81h0.9v0.9h-0.9zM388.74 347.37h0.9v0.9h-0.9zM364.83 357.8h0.9v0.9h-0.9zM377.86 350.23h0.9v0.9h-0.9zM385.77 348.59h0.9v0.9h-0.9zM387.73 343.85h0.9v0.9h-0.9zM377.7 352.42h0.9v0.9h-0.9zM380.99 350.82h0.9v0.9h-0.9zM377.54 353.5h0.9v0.9h-0.9zM399.19 339.24h0.9v0.9h-0.9zM369.52 359.33h0.9v0.9h-0.9zM376.19 357.2h0.9v0.9h-0.9zM393.78 349.99h0.9v0.9h-0.9zM385.74 343.92h0.9v0.9h-0.9zM398.82 344.75h0.9v0.9h-0.9zM395.98 343.75h0.9v0.9h-0.9zM381.26 351.86h0.9v0.9h-0.9zM367.83 362.51h0.9v0.9h-0.9zM378.84 351.21h0.9v0.9h-0.9zM387.72 345.4h0.9v0.9h-0.9zM391.67 343.95h0.9v0.9h-0.9zM405.63 341.92h0.9v0.9h-0.9zM390.6 347.53h0.9v0.9h-0.9zM384.99 348.12h0.9v0.9h-0.9zM367.26 358h0.9v0.9h-0.9zM377.37 352.42h0.9v0.9h-0.9zM385.25 343.62h0.9v0.9h-0.9zM373.3 354.17h0.9v0.9h-0.9zM380.36 355.2h0.9v0.9h-0.9zM408.42 335.96h0.9v0.9h-0.9zM390.35 346.65h0.9v0.9h-0.9zM386.87 354.14h0.9v0.9h-0.9zM386.07 350.88h0.9v0.9h-0.9zM384.95 347.78h0.9v0.9h-0.9zM394.22 343.94h0.9v0.9h-0.9zM397.79 338.93h0.9v0.9h-0.9zM388.6 352.97h0.9v0.9h-0.9zM378.91 354.25h0.9v0.9h-0.9zM397.84 343.79h0.9v0.9h-0.9zM377.31 353.01h0.9v0.9h-0.9zM387.36 346.5h0.9v0.9h-0.9zM380.78 352.51h0.9v0.9h-0.9zM373.37 361.56h0.9v0.9h-0.9zM379.2 352.94h0.9v0.9h-0.9zM385.49 353.91h0.9v0.9h-0.9zM381.14 358.35h0.9v0.9h-0.9zM401.24 342.82h0.9v0.9h-0.9zM372.35 352.76h0.9v0.9h-0.9zM382.33 352.12h0.9v0.9h-0.9zM390.34 350.55h0.9v0.9h-0.9zM388.69 347.82h0.9v0.9h-0.9zM388.12 341.54h0.9v0.9h-0.9zM395.01 339.25h0.9v0.9h-0.9zM367.12 357.6h0.9v0.9h-0.9zM380.68 348.29h0.9v0.9h-0.9zM382.62 351.33h0.9v0.9h-0.9zM390.17 348.01h0.9v0.9h-0.9zM379.97 352.9h0.9v0.9h-0.9zM396 342.66h0.9v0.9h-0.9zM383.25 343.98h0.9v0.9h-0.9zM387.19 354.93h0.9v0.9h-0.9zM391.26 345.47h0.9v0.9h-0.9zM395.78 347.57h0.9v0.9h-0.9zM396.8 339.36h0.9v0.9h-0.9zM374.15 358.14h0.9v0.9h-0.9zM389.37 348.7h0.9v0.9h-0.9zM371.42 359.91h0.9v0.9h-0.9zM401.93 343.91h0.9v0.9h-0.9zM407.78 338.31h0.9v0.9h-0.9zM385.76 355.05h0.9v0.9h-0.9zM393.67 337.6h0.9v0.9h-0.9zM370.7 358.67h0.9v0.9h-0.9zM379.96 358.29h0.9v0.9h-0.9zM398.87 345.94h0.9v0.9h-0.9zM381.71 350.91h0.9v0.9h-0.9zM391.72 344.86h0.9v0.9h-0.9zM390.74 347.42h0.9v0.9h-0.9z" fill="#222" fill-opacity="0.45"/>
<path d="M359.4 363 C 368.4 354 378.4 347 386.4 336 L395.4 336 C 388.4 350 380.4 360 372.4 363 Z" fill="#a8a8a8" stroke="#222" stroke-width="0.9"/>
<ellipse cx="389.2" cy="344.2" rx="15.5" ry="7.2" fill="#c8c8c8" stroke="#111" stroke-width="1.1" opacity="1" transform="rotate(-50 389.2 344.2)"/>
<ellipse cx="388.85" cy="344.55" rx="13.8" ry="6" fill="#a0a0a0" stroke="#111" stroke-width="1.2" opacity="1" transform="rotate(-50 388.85 344.55)"/>
<ellipse cx="388.5" cy="344.9" rx="12" ry="5" fill="#888" stroke="#111" stroke-width="1" opacity="1" transform="rotate(-50 388.5 344.9)"/>
<ellipse cx="388.15" cy="345.25" rx="10" ry="4" fill="#999" stroke="#111" stroke-width="0.8" opacity="1" transform="rotate(-50 388.15 345.25)"/>
<ellipse cx="387.8" cy="345.6" rx="7.5" ry="2.8" fill="#b5b5b5" stroke="#111" stroke-width="0.7" opacity="1" transform="rotate(-50 387.8 345.6)"/>
<ellipse cx="387.45" cy="345.95" rx="4.5" ry="1.6" fill="#d0d0d0" stroke="#111" stroke-width="0.6" opacity="1" transform="rotate(-50 387.45 345.95)"/>
<ellipse cx="368.4" cy="359.8" rx="10.5" ry="4.2" fill="#888" stroke="#111" stroke-width="1.3" opacity="1" transform="rotate(-14 368.4 359.8)"/>
<ellipse cx="367.9" cy="360" rx="7.8" ry="2.8" fill="#bdbdbd" stroke="#111" stroke-width="1.1" opacity="1" transform="rotate(-12 367.9 360)"/>
<ellipse cx="367.4" cy="360.1" rx="4.5" ry="1.4" fill="#d8d8d8" stroke="none" stroke-width="0" opacity="1" transform="rotate(-12 367.4 360.1)"/>
</g>
<rect x="348.4" y="314" width="67.6" height="66" fill="none" stroke="#111" stroke-width="1"/>
<line x1="376.5" y1="314" x2="376.5" y2="380" stroke="#111" stroke-width="1"/>
<line x1="348.4" y1="352.5" x2="416" y2="352.5" stroke="#111" stroke-width="1"/>
<text x="351" y="322" font-size="7.2">2.36</text>
<text x="414" y="322" font-size="7.2" text-anchor="end">59.4</text>
<text x="351" y="377.4" font-size="7.2">19.1</text>
<text x="414" y="377.4" font-size="7.2" text-anchor="end">19.1</text>
<text x="382.7" y="311.4" font-size="8.2" text-anchor="middle">shcontrol-I</text>
<text x="343.4" y="323.7" font-size="7.6" text-anchor="end">10<tspan font-size="5.93" dy="-3.19">5</tspan></text>
<text x="343.4" y="339.7" font-size="7.6" text-anchor="end">10<tspan font-size="5.93" dy="-3.19">4</tspan></text>
<text x="343.4" y="357.5" font-size="7.6" text-anchor="end">10<tspan font-size="5.93" dy="-3.19">3</tspan></text>
<text x="343.4" y="368.2" font-size="7.6" text-anchor="end">0</text>
<text x="343.4" y="379.2" font-size="7.6" text-anchor="end">−10<tspan font-size="5.93" dy="-3.19">3</tspan></text>
<path d="M347.9 317h-2M347.9 319h-2M347.9 321h-2M347.9 323h-2M347.9 326h-2M347.9 329h-2M347.9 332h-2M347.9 334h-2M347.9 337h-2M347.9 340h-2M347.9 343h-2M347.9 346h-2M347.9 349h-2M347.9 351h-2M347.9 353h-2M347.9 354.8h-2M347.9 356h-2M347.9 358h-2M347.9 360h-2M347.9 361.5h-2M347.9 363h-2M347.9 364h-2M347.9 365h-2M347.9 366h-2M347.9 367h-2M347.9 368h-2M347.9 370h-2M347.9 372h-2M347.9 374h-2M347.9 376.5h-2M355.4 380.5v2M357.4 380.5v2M359.4 380.5v2M361.4 380.5v2M362.4 380.5v2M363.4 380.5v2M364.4 380.5v2M365.4 380.5v2M366.4 380.5v2M367.4 380.5v2M369.4 380.5v2M371.4 380.5v2M374.4 380.5v2M377.4 380.5v2M380.4 380.5v2M383.4 380.5v2M386.4 380.5v2M389.4 380.5v2M392.4 380.5v2M395.4 380.5v2M398.4 380.5v2M401.4 380.5v2M404.4 380.5v2M407.4 380.5v2M410.4 380.5v2M412.4 380.5v2" stroke="#222" stroke-width="0.6"/>
<text x="353.6" y="392.3" font-size="7.5" text-anchor="middle">−10<tspan font-size="5.85" dy="-3.15">3</tspan></text>
<text x="364.9" y="392.3" font-size="7.5" text-anchor="middle">0</text>
<text x="375.7" y="392.3" font-size="7.5" text-anchor="middle">10<tspan font-size="5.85" dy="-3.15">3</tspan></text>
<text x="395.6" y="392.3" font-size="7.5" text-anchor="middle">10<tspan font-size="5.85" dy="-3.15">4</tspan></text>
<text x="411.6" y="392.3" font-size="7.5" text-anchor="middle">10<tspan font-size="5.85" dy="-3.15">5</tspan></text>
<g>
<path d="M469.13 355.67h0.9v0.9h-0.9zM465.11 355.18h0.9v0.9h-0.9zM476.21 354.53h0.9v0.9h-0.9zM481.3 343.71h0.9v0.9h-0.9zM469.34 346.33h0.9v0.9h-0.9zM462.53 351.16h0.9v0.9h-0.9zM470.57 355.16h0.9v0.9h-0.9zM472.87 369.37h0.9v0.9h-0.9zM475.7 338.62h0.9v0.9h-0.9zM470.44 346.88h0.9v0.9h-0.9zM464.67 362.81h0.9v0.9h-0.9zM467.02 336.65h0.9v0.9h-0.9zM471.28 349.43h0.9v0.9h-0.9zM459.4 345.61h0.9v0.9h-0.9zM463.8 352.31h0.9v0.9h-0.9zM465.39 352.91h0.9v0.9h-0.9zM483.49 344.16h0.9v0.9h-0.9zM462.34 350.66h0.9v0.9h-0.9zM477.56 345.5h0.9v0.9h-0.9zM480.27 340.44h0.9v0.9h-0.9zM460.54 352.39h0.9v0.9h-0.9zM461.89 347.77h0.9v0.9h-0.9zM472.41 357.4h0.9v0.9h-0.9zM469.71 349.72h0.9v0.9h-0.9zM479.55 354.13h0.9v0.9h-0.9zM466.92 361.85h0.9v0.9h-0.9zM461.59 354.03h0.9v0.9h-0.9zM474.08 351.38h0.9v0.9h-0.9zM464.2 355.25h0.9v0.9h-0.9zM464.47 347.69h0.9v0.9h-0.9zM460.62 363.2h0.9v0.9h-0.9zM464.41 361.63h0.9v0.9h-0.9zM471.84 349.62h0.9v0.9h-0.9zM474.14 353.63h0.9v0.9h-0.9zM469.85 340.94h0.9v0.9h-0.9zM469.37 359.06h0.9v0.9h-0.9zM472.7 359.53h0.9v0.9h-0.9zM480.72 354.08h0.9v0.9h-0.9zM484.6 338.37h0.9v0.9h-0.9zM466.88 332.1h0.9v0.9h-0.9zM475.36 352.09h0.9v0.9h-0.9zM482.31 347.73h0.9v0.9h-0.9zM452.59 363.8h0.9v0.9h-0.9zM458.07 342.98h0.9v0.9h-0.9zM467.4 357.14h0.9v0.9h-0.9zM464.73 353.89h0.9v0.9h-0.9zM453.75 367.28h0.9v0.9h-0.9zM468.26 353.01h0.9v0.9h-0.9zM473.48 352.88h0.9v0.9h-0.9zM470.4 344.45h0.9v0.9h-0.9zM467.89 355.57h0.9v0.9h-0.9zM477.15 350.21h0.9v0.9h-0.9zM469.53 354.61h0.9v0.9h-0.9zM473.37 353.19h0.9v0.9h-0.9zM466.78 348.14h0.9v0.9h-0.9zM477.79 353.45h0.9v0.9h-0.9zM475.86 358.08h0.9v0.9h-0.9zM470.02 343.8h0.9v0.9h-0.9zM477.89 350.39h0.9v0.9h-0.9zM469.22 360.13h0.9v0.9h-0.9zM476.94 353.1h0.9v0.9h-0.9zM468.95 368.68h0.9v0.9h-0.9zM473.38 343.38h0.9v0.9h-0.9zM474.81 352.6h0.9v0.9h-0.9zM469.06 357.4h0.9v0.9h-0.9zM470.68 367.77h0.9v0.9h-0.9zM470.43 353.84h0.9v0.9h-0.9zM478.09 346.58h0.9v0.9h-0.9zM476.91 350.71h0.9v0.9h-0.9zM478.27 344.29h0.9v0.9h-0.9zM472.16 338.94h0.9v0.9h-0.9zM465.27 352.48h0.9v0.9h-0.9zM472.76 367.31h0.9v0.9h-0.9zM483.5 339.87h0.9v0.9h-0.9zM462.74 362.57h0.9v0.9h-0.9zM472.31 340.78h0.9v0.9h-0.9zM472.68 342.66h0.9v0.9h-0.9zM461.94 342.68h0.9v0.9h-0.9zM466.72 370.1h0.9v0.9h-0.9zM471.83 350.85h0.9v0.9h-0.9zM488.9 346.32h0.9v0.9h-0.9zM467.61 350.02h0.9v0.9h-0.9zM472.17 349.2h0.9v0.9h-0.9zM480.44 348.52h0.9v0.9h-0.9zM473.3 353.34h0.9v0.9h-0.9zM461.94 344.93h0.9v0.9h-0.9zM468.4 333.81h0.9v0.9h-0.9zM468.93 352.62h0.9v0.9h-0.9zM469.95 351.28h0.9v0.9h-0.9zM471.63 348.95h0.9v0.9h-0.9zM473.94 338.55h0.9v0.9h-0.9zM476.08 344.28h0.9v0.9h-0.9zM472.68 347.92h0.9v0.9h-0.9zM465.41 346.06h0.9v0.9h-0.9zM479.52 342.3h0.9v0.9h-0.9zM459.18 354.7h0.9v0.9h-0.9zM470.88 352.14h0.9v0.9h-0.9zM461.12 347.61h0.9v0.9h-0.9zM476.03 343.09h0.9v0.9h-0.9zM473.68 357.29h0.9v0.9h-0.9zM469.87 342.27h0.9v0.9h-0.9zM484.02 351.48h0.9v0.9h-0.9zM470.38 348.87h0.9v0.9h-0.9zM461.25 350.66h0.9v0.9h-0.9zM470.41 345.16h0.9v0.9h-0.9zM469.74 361.05h0.9v0.9h-0.9zM472.3 350.9h0.9v0.9h-0.9zM477.18 358.47h0.9v0.9h-0.9zM476.01 344.98h0.9v0.9h-0.9zM454.34 359.79h0.9v0.9h-0.9zM469.3 349.03h0.9v0.9h-0.9zM472.68 348.05h0.9v0.9h-0.9zM463.89 366.83h0.9v0.9h-0.9zM456.15 359.93h0.9v0.9h-0.9zM476.88 365.27h0.9v0.9h-0.9zM470.83 355.85h0.9v0.9h-0.9zM461.53 352.99h0.9v0.9h-0.9zM452.07 349.19h0.9v0.9h-0.9zM468.59 351.21h0.9v0.9h-0.9zM465 361.62h0.9v0.9h-0.9zM456.16 354.33h0.9v0.9h-0.9zM465.64 352.63h0.9v0.9h-0.9zM469.24 367.39h0.9v0.9h-0.9zM460.31 363.48h0.9v0.9h-0.9zM479.99 349.89h0.9v0.9h-0.9zM463.93 342.71h0.9v0.9h-0.9zM461.96 368.89h0.9v0.9h-0.9zM451.56 357.33h0.9v0.9h-0.9zM463.29 367.59h0.9v0.9h-0.9zM471.33 341.07h0.9v0.9h-0.9zM464.68 353.97h0.9v0.9h-0.9zM469.8 344.42h0.9v0.9h-0.9zM466.56 348.6h0.9v0.9h-0.9zM472.67 353.81h0.9v0.9h-0.9zM470.61 347.18h0.9v0.9h-0.9zM475.1 346.93h0.9v0.9h-0.9zM462.2 349.26h0.9v0.9h-0.9zM466.23 349.83h0.9v0.9h-0.9zM453.44 364.27h0.9v0.9h-0.9zM473.79 361.99h0.9v0.9h-0.9zM465.67 358.28h0.9v0.9h-0.9zM470.4 352.07h0.9v0.9h-0.9zM483.1 345.89h0.9v0.9h-0.9zM473.38 337.84h0.9v0.9h-0.9zM473.3 350.2h0.9v0.9h-0.9zM460.72 348.11h0.9v0.9h-0.9zM451.93 345.29h0.9v0.9h-0.9zM470.15 330.98h0.9v0.9h-0.9zM477.43 358.88h0.9v0.9h-0.9zM462.82 340.85h0.9v0.9h-0.9zM457.66 342.98h0.9v0.9h-0.9zM462.82 369.85h0.9v0.9h-0.9zM459.81 358.89h0.9v0.9h-0.9zM478.75 343.51h0.9v0.9h-0.9zM466.68 357.57h0.9v0.9h-0.9zM463.6 362.43h0.9v0.9h-0.9zM485.93 349.91h0.9v0.9h-0.9zM462.24 357.38h0.9v0.9h-0.9zM471.49 345.8h0.9v0.9h-0.9zM467.69 352.79h0.9v0.9h-0.9zM472.82 360.68h0.9v0.9h-0.9zM464.95 342.08h0.9v0.9h-0.9zM455.87 368.02h0.9v0.9h-0.9zM465.47 349.09h0.9v0.9h-0.9zM488.47 358.9h0.9v0.9h-0.9zM486.73 348.84h0.9v0.9h-0.9zM463.3 348.37h0.9v0.9h-0.9zM473.99 354.82h0.9v0.9h-0.9zM472 369.67h0.9v0.9h-0.9zM479.63 342.29h0.9v0.9h-0.9zM472.31 356.37h0.9v0.9h-0.9zM462.88 371.03h0.9v0.9h-0.9zM476.13 363.3h0.9v0.9h-0.9zM464.55 343.34h0.9v0.9h-0.9zM474.84 349.83h0.9v0.9h-0.9zM464.17 351.75h0.9v0.9h-0.9zM470.47 352.99h0.9v0.9h-0.9zM467.15 355.87h0.9v0.9h-0.9zM492.01 359.03h0.9v0.9h-0.9zM464.71 368.64h0.9v0.9h-0.9zM464.95 340.06h0.9v0.9h-0.9zM457.71 336.84h0.9v0.9h-0.9zM478.01 342.3h0.9v0.9h-0.9zM457.36 348.64h0.9v0.9h-0.9zM467.13 342.21h0.9v0.9h-0.9zM464.17 352.39h0.9v0.9h-0.9zM473.94 343.89h0.9v0.9h-0.9zM473.22 353.55h0.9v0.9h-0.9zM473.15 347.23h0.9v0.9h-0.9zM459.4 360.54h0.9v0.9h-0.9zM473.41 346.11h0.9v0.9h-0.9zM462.44 358.09h0.9v0.9h-0.9zM484.91 353.24h0.9v0.9h-0.9zM488.96 352.39h0.9v0.9h-0.9zM471.49 355.53h0.9v0.9h-0.9zM477.45 339.07h0.9v0.9h-0.9zM469.95 361.93h0.9v0.9h-0.9zM456.2 355.11h0.9v0.9h-0.9zM474.73 365.06h0.9v0.9h-0.9zM481.32 350.47h0.9v0.9h-0.9zM485.36 341.45h0.9v0.9h-0.9zM457.53 363.73h0.9v0.9h-0.9zM474.15 342.31h0.9v0.9h-0.9zM477.49 358.03h0.9v0.9h-0.9zM474.6 347.84h0.9v0.9h-0.9zM458.5 339.5h0.9v0.9h-0.9zM467.02 350.89h0.9v0.9h-0.9zM464.65 347.91h0.9v0.9h-0.9zM476.19 342.13h0.9v0.9h-0.9zM462.8 368.43h0.9v0.9h-0.9zM463.65 347.39h0.9v0.9h-0.9zM477.31 336.66h0.9v0.9h-0.9zM481.79 340.44h0.9v0.9h-0.9zM462.05 342.33h0.9v0.9h-0.9zM461.05 346.82h0.9v0.9h-0.9zM476.24 350.67h0.9v0.9h-0.9zM479.83 357.07h0.9v0.9h-0.9zM458.75 353.13h0.9v0.9h-0.9zM463.84 349.01h0.9v0.9h-0.9zM469.74 354.82h0.9v0.9h-0.9zM472.25 334.59h0.9v0.9h-0.9zM467.49 348.38h0.9v0.9h-0.9zM483.64 348.51h0.9v0.9h-0.9zM468.46 352.01h0.9v0.9h-0.9zM475.02 342.13h0.9v0.9h-0.9zM467.7 351.05h0.9v0.9h-0.9zM468.58 349.93h0.9v0.9h-0.9zM464.37 353.05h0.9v0.9h-0.9zM458.1 365.97h0.9v0.9h-0.9zM468.65 337.37h0.9v0.9h-0.9zM466.44 359.77h0.9v0.9h-0.9zM467.13 350.88h0.9v0.9h-0.9zM450.3 365.16h0.9v0.9h-0.9zM469.2 336.1h0.9v0.9h-0.9zM465.1 364h0.9v0.9h-0.9zM471.82 339.64h0.9v0.9h-0.9zM464.22 354.35h0.9v0.9h-0.9zM485.4 352.21h0.9v0.9h-0.9zM474.65 348.76h0.9v0.9h-0.9zM469.1 343.84h0.9v0.9h-0.9zM458.11 342.09h0.9v0.9h-0.9zM463.98 362.47h0.9v0.9h-0.9zM468.44 361.55h0.9v0.9h-0.9zM474.95 352.56h0.9v0.9h-0.9zM464.7 369.59h0.9v0.9h-0.9zM477.88 361.01h0.9v0.9h-0.9zM488.85 362.09h0.9v0.9h-0.9zM470.57 354.85h0.9v0.9h-0.9zM473.24 369.53h0.9v0.9h-0.9zM460.58 338.21h0.9v0.9h-0.9zM464.86 352.41h0.9v0.9h-0.9zM464.05 359.87h0.9v0.9h-0.9zM473.62 351.23h0.9v0.9h-0.9zM469.36 367.26h0.9v0.9h-0.9zM484.89 364.33h0.9v0.9h-0.9zM465.81 362.16h0.9v0.9h-0.9zM459.52 338.24h0.9v0.9h-0.9zM482.58 357.68h0.9v0.9h-0.9zM474.27 362.89h0.9v0.9h-0.9zM482.25 352.97h0.9v0.9h-0.9zM471.08 356.68h0.9v0.9h-0.9zM475.72 352.84h0.9v0.9h-0.9zM458.04 373.1h0.9v0.9h-0.9zM462.84 347.89h0.9v0.9h-0.9zM473.7 351.21h0.9v0.9h-0.9zM473.17 370.98h0.9v0.9h-0.9zM480.38 347.21h0.9v0.9h-0.9zM471.53 351.36h0.9v0.9h-0.9zM479.07 343.9h0.9v0.9h-0.9zM461.22 339.42h0.9v0.9h-0.9zM473.03 354.81h0.9v0.9h-0.9zM474.72 358.33h0.9v0.9h-0.9zM459.24 350.12h0.9v0.9h-0.9zM460.25 362.86h0.9v0.9h-0.9zM475.91 339.89h0.9v0.9h-0.9zM473.28 352.63h0.9v0.9h-0.9zM469.93 357.65h0.9v0.9h-0.9zM464.09 350.13h0.9v0.9h-0.9zM463.59 347.36h0.9v0.9h-0.9zM460.58 362.26h0.9v0.9h-0.9zM473.69 349.74h0.9v0.9h-0.9zM455.71 371.65h0.9v0.9h-0.9zM469.24 353.77h0.9v0.9h-0.9zM474.2 365.33h0.9v0.9h-0.9zM466.58 333.56h0.9v0.9h-0.9zM466.48 352.27h0.9v0.9h-0.9zM464.39 364.34h0.9v0.9h-0.9zM465.37 355.07h0.9v0.9h-0.9zM462.46 358.89h0.9v0.9h-0.9zM463.43 359.35h0.9v0.9h-0.9zM470.09 353.35h0.9v0.9h-0.9zM471.53 339.09h0.9v0.9h-0.9zM465.36 354.27h0.9v0.9h-0.9zM465.91 362.05h0.9v0.9h-0.9zM476.03 345.67h0.9v0.9h-0.9zM478.46 349.44h0.9v0.9h-0.9zM473.44 361.52h0.9v0.9h-0.9zM460.05 346.54h0.9v0.9h-0.9zM468.53 350.34h0.9v0.9h-0.9zM455.55 358.84h0.9v0.9h-0.9zM470.33 353.64h0.9v0.9h-0.9zM471.48 357.69h0.9v0.9h-0.9zM462.42 355.38h0.9v0.9h-0.9zM465.56 348.69h0.9v0.9h-0.9zM462.02 362.54h0.9v0.9h-0.9zM449.38 348.41h0.9v0.9h-0.9zM474.49 349.03h0.9v0.9h-0.9zM463.74 361.01h0.9v0.9h-0.9zM461.46 350.66h0.9v0.9h-0.9zM472.25 347.65h0.9v0.9h-0.9zM464.83 353.12h0.9v0.9h-0.9zM476.79 344.02h0.9v0.9h-0.9zM473.24 351.22h0.9v0.9h-0.9zM466.19 341.85h0.9v0.9h-0.9zM482.85 355.28h0.9v0.9h-0.9zM471.11 349.45h0.9v0.9h-0.9zM481.9 345.69h0.9v0.9h-0.9zM460.86 346.7h0.9v0.9h-0.9zM468.57 354.75h0.9v0.9h-0.9zM452.95 356.04h0.9v0.9h-0.9zM471.1 360.48h0.9v0.9h-0.9zM466.31 364.19h0.9v0.9h-0.9zM485.01 346.2h0.9v0.9h-0.9zM466.84 360.23h0.9v0.9h-0.9zM478.62 351.18h0.9v0.9h-0.9zM478.15 338.84h0.9v0.9h-0.9zM476.47 354.94h0.9v0.9h-0.9zM476.17 355.3h0.9v0.9h-0.9zM474.38 348.06h0.9v0.9h-0.9zM480.09 334.51h0.9v0.9h-0.9zM471.04 346.92h0.9v0.9h-0.9zM484.57 341.57h0.9v0.9h-0.9zM469.97 351.87h0.9v0.9h-0.9zM475.44 351.49h0.9v0.9h-0.9zM460.45 351.91h0.9v0.9h-0.9zM478.37 357.29h0.9v0.9h-0.9zM463.22 342.79h0.9v0.9h-0.9zM458.72 352.34h0.9v0.9h-0.9zM467.72 349.41h0.9v0.9h-0.9zM464.82 354.07h0.9v0.9h-0.9zM479.56 359.12h0.9v0.9h-0.9zM465.52 358.8h0.9v0.9h-0.9zM467 362.62h0.9v0.9h-0.9zM477.24 358.86h0.9v0.9h-0.9zM486.82 358.69h0.9v0.9h-0.9zM476.34 362.59h0.9v0.9h-0.9zM460.72 350.46h0.9v0.9h-0.9zM466.28 359.33h0.9v0.9h-0.9zM469.34 342.25h0.9v0.9h-0.9zM462.92 351.23h0.9v0.9h-0.9zM465.34 348.91h0.9v0.9h-0.9zM457.26 354.43h0.9v0.9h-0.9zM458.66 350.14h0.9v0.9h-0.9zM464.05 350.25h0.9v0.9h-0.9zM480.51 347.65h0.9v0.9h-0.9zM465.76 332.71h0.9v0.9h-0.9zM461.93 354.83h0.9v0.9h-0.9zM466.48 358.78h0.9v0.9h-0.9zM466.64 358.81h0.9v0.9h-0.9zM471.14 360.62h0.9v0.9h-0.9zM466.8 359.57h0.9v0.9h-0.9zM465.2 346.43h0.9v0.9h-0.9zM478.14 340.3h0.9v0.9h-0.9zM461.61 366.01h0.9v0.9h-0.9zM470.4 355.04h0.9v0.9h-0.9zM470.87 351.73h0.9v0.9h-0.9zM484.86 350.96h0.9v0.9h-0.9zM480.47 351.02h0.9v0.9h-0.9zM463.47 350.59h0.9v0.9h-0.9zM469.39 372.74h0.9v0.9h-0.9zM464.13 356.14h0.9v0.9h-0.9zM456.68 357.86h0.9v0.9h-0.9zM467.93 355.41h0.9v0.9h-0.9zM469.71 348.45h0.9v0.9h-0.9zM469.53 352.19h0.9v0.9h-0.9zM477.33 350.8h0.9v0.9h-0.9zM467.98 341.95h0.9v0.9h-0.9zM476.04 350.13h0.9v0.9h-0.9zM461.72 362.48h0.9v0.9h-0.9zM476.41 351.27h0.9v0.9h-0.9zM469.41 341.58h0.9v0.9h-0.9zM450.03 355.06h0.9v0.9h-0.9zM456.98 358.47h0.9v0.9h-0.9zM466.15 354.38h0.9v0.9h-0.9zM464.61 355.97h0.9v0.9h-0.9zM475.27 352.47h0.9v0.9h-0.9zM475 357.64h0.9v0.9h-0.9zM467.76 338.74h0.9v0.9h-0.9zM474 346.83h0.9v0.9h-0.9zM460.67 338.21h0.9v0.9h-0.9zM454.75 364.13h0.9v0.9h-0.9zM483.18 361.36h0.9v0.9h-0.9zM485.22 335.23h0.9v0.9h-0.9zM474.93 340.43h0.9v0.9h-0.9zM457.12 358.19h0.9v0.9h-0.9zM476.37 344.04h0.9v0.9h-0.9zM455.69 340.79h0.9v0.9h-0.9zM467.24 359.18h0.9v0.9h-0.9zM484.8 354.01h0.9v0.9h-0.9zM460.59 344.17h0.9v0.9h-0.9zM469.18 357.03h0.9v0.9h-0.9zM452.57 355.8h0.9v0.9h-0.9zM463.68 359.11h0.9v0.9h-0.9zM455.38 360.92h0.9v0.9h-0.9zM480.21 362.06h0.9v0.9h-0.9zM481.17 351.67h0.9v0.9h-0.9zM469.57 342.99h0.9v0.9h-0.9zM468.47 345.58h0.9v0.9h-0.9zM473.58 357.35h0.9v0.9h-0.9zM467.6 364.71h0.9v0.9h-0.9zM457.98 348.49h0.9v0.9h-0.9zM482.42 348.56h0.9v0.9h-0.9zM474.27 331.09h0.9v0.9h-0.9zM480.67 345.15h0.9v0.9h-0.9zM463.3 360.3h0.9v0.9h-0.9zM469.3 337.97h0.9v0.9h-0.9zM479.45 343.22h0.9v0.9h-0.9zM465.81 346.98h0.9v0.9h-0.9zM465.08 348.83h0.9v0.9h-0.9zM465.8 348.35h0.9v0.9h-0.9zM488.63 352.21h0.9v0.9h-0.9zM473.47 346.58h0.9v0.9h-0.9zM483 354.68h0.9v0.9h-0.9zM469.42 347.36h0.9v0.9h-0.9zM475.05 337.51h0.9v0.9h-0.9zM463.09 349.7h0.9v0.9h-0.9zM471.52 352.73h0.9v0.9h-0.9zM456.88 357.8h0.9v0.9h-0.9zM465.11 348.03h0.9v0.9h-0.9zM469.66 349.17h0.9v0.9h-0.9zM465.07 349.14h0.9v0.9h-0.9zM474.04 351.65h0.9v0.9h-0.9zM470.4 346.46h0.9v0.9h-0.9zM477.95 351.89h0.9v0.9h-0.9zM462.71 361.06h0.9v0.9h-0.9zM457.7 347.28h0.9v0.9h-0.9zM475.07 347.71h0.9v0.9h-0.9zM466.14 349.27h0.9v0.9h-0.9zM468.77 355.58h0.9v0.9h-0.9zM473.5 346.02h0.9v0.9h-0.9zM464.78 336.6h0.9v0.9h-0.9zM464.72 356h0.9v0.9h-0.9zM468.91 361.22h0.9v0.9h-0.9zM466.48 354.2h0.9v0.9h-0.9zM475.54 342.15h0.9v0.9h-0.9zM479.53 339.85h0.9v0.9h-0.9zM466.51 337.57h0.9v0.9h-0.9zM466.38 344.18h0.9v0.9h-0.9zM476.29 335.09h0.9v0.9h-0.9z" fill="#222" fill-opacity="0.4"/>
<path d="M487.29 350.51h0.9v0.9h-0.9zM488.06 353.42h0.9v0.9h-0.9zM490.24 342.8h0.9v0.9h-0.9zM488.49 344.32h0.9v0.9h-0.9zM478.28 350.5h0.9v0.9h-0.9zM479.76 348.34h0.9v0.9h-0.9zM491.85 347.22h0.9v0.9h-0.9zM468.59 351.53h0.9v0.9h-0.9zM479.66 363.12h0.9v0.9h-0.9zM485.57 346.52h0.9v0.9h-0.9zM487.15 336.77h0.9v0.9h-0.9zM495.73 343.64h0.9v0.9h-0.9zM476.06 357.04h0.9v0.9h-0.9zM477.36 346.6h0.9v0.9h-0.9zM490.01 357.69h0.9v0.9h-0.9zM480.82 350.61h0.9v0.9h-0.9zM482.67 352.42h0.9v0.9h-0.9zM480.35 351.86h0.9v0.9h-0.9zM477.45 351.6h0.9v0.9h-0.9zM490.18 339.74h0.9v0.9h-0.9zM489.38 356.68h0.9v0.9h-0.9zM478.28 350.04h0.9v0.9h-0.9zM484.56 349.4h0.9v0.9h-0.9zM475.09 357.43h0.9v0.9h-0.9zM488.65 353.33h0.9v0.9h-0.9zM489.28 344.77h0.9v0.9h-0.9zM482.46 347.24h0.9v0.9h-0.9zM504.19 340.3h0.9v0.9h-0.9zM490.73 355.01h0.9v0.9h-0.9zM482.78 351.53h0.9v0.9h-0.9zM486.94 356.96h0.9v0.9h-0.9zM474.21 354.98h0.9v0.9h-0.9zM487.21 351.02h0.9v0.9h-0.9zM477.44 357.06h0.9v0.9h-0.9zM487.54 343.47h0.9v0.9h-0.9zM475.47 363.27h0.9v0.9h-0.9zM478.88 343.72h0.9v0.9h-0.9zM486.95 343.2h0.9v0.9h-0.9zM483.55 352.62h0.9v0.9h-0.9zM476.5 345.52h0.9v0.9h-0.9zM498.47 337.78h0.9v0.9h-0.9zM474.53 353.34h0.9v0.9h-0.9zM487.11 348.28h0.9v0.9h-0.9zM476.71 357.28h0.9v0.9h-0.9zM474.97 349.05h0.9v0.9h-0.9zM488.99 353.25h0.9v0.9h-0.9zM487.33 353.24h0.9v0.9h-0.9zM486.83 352.98h0.9v0.9h-0.9zM478.16 348.36h0.9v0.9h-0.9zM488.24 353.42h0.9v0.9h-0.9zM480.53 347.37h0.9v0.9h-0.9zM482.62 355.95h0.9v0.9h-0.9zM483.07 348.94h0.9v0.9h-0.9zM482.55 348.92h0.9v0.9h-0.9zM487.81 346.34h0.9v0.9h-0.9zM484.75 348.43h0.9v0.9h-0.9zM477.64 352.48h0.9v0.9h-0.9zM486.03 340.36h0.9v0.9h-0.9zM485.62 350.53h0.9v0.9h-0.9zM482.77 345.01h0.9v0.9h-0.9zM478.64 355.38h0.9v0.9h-0.9zM476.77 357.69h0.9v0.9h-0.9zM480.59 352.97h0.9v0.9h-0.9zM460.28 361.59h0.9v0.9h-0.9zM485.13 341.27h0.9v0.9h-0.9zM491.59 344.6h0.9v0.9h-0.9zM474.6 360.47h0.9v0.9h-0.9zM494.7 351.25h0.9v0.9h-0.9zM490.48 353.32h0.9v0.9h-0.9zM470.1 354.36h0.9v0.9h-0.9zM494.82 348.85h0.9v0.9h-0.9zM484.85 348.31h0.9v0.9h-0.9zM481.17 347.13h0.9v0.9h-0.9zM483.01 335.89h0.9v0.9h-0.9zM491.97 347.03h0.9v0.9h-0.9zM461.24 358.52h0.9v0.9h-0.9zM485.52 348.78h0.9v0.9h-0.9zM489.16 352.01h0.9v0.9h-0.9zM488.51 339.58h0.9v0.9h-0.9zM466.85 352.34h0.9v0.9h-0.9zM490.81 337.74h0.9v0.9h-0.9zM479.68 348.54h0.9v0.9h-0.9zM482.56 342.26h0.9v0.9h-0.9zM488.21 346.95h0.9v0.9h-0.9zM491.04 347.94h0.9v0.9h-0.9zM483.51 355.25h0.9v0.9h-0.9zM494.02 348.78h0.9v0.9h-0.9zM478.16 353.91h0.9v0.9h-0.9zM492.2 350.89h0.9v0.9h-0.9zM496.68 351.2h0.9v0.9h-0.9zM480.92 362.02h0.9v0.9h-0.9zM489.46 351.5h0.9v0.9h-0.9zM485.52 343.14h0.9v0.9h-0.9zM468.17 359.31h0.9v0.9h-0.9zM491.83 355.69h0.9v0.9h-0.9zM477.27 352.06h0.9v0.9h-0.9zM480 354.82h0.9v0.9h-0.9zM478 348.03h0.9v0.9h-0.9zM472.29 353.46h0.9v0.9h-0.9zM491.67 340.84h0.9v0.9h-0.9zM480.44 358.64h0.9v0.9h-0.9zM477.6 341.71h0.9v0.9h-0.9zM476.35 356.99h0.9v0.9h-0.9zM484.1 345.2h0.9v0.9h-0.9zM478.67 358.35h0.9v0.9h-0.9zM472.93 361.26h0.9v0.9h-0.9zM480.56 354.22h0.9v0.9h-0.9zM475.47 348.66h0.9v0.9h-0.9zM502.88 342.09h0.9v0.9h-0.9zM476.11 355.57h0.9v0.9h-0.9zM478.31 347.03h0.9v0.9h-0.9zM476.89 349.84h0.9v0.9h-0.9zM494.56 337.51h0.9v0.9h-0.9zM487.15 340.38h0.9v0.9h-0.9zM488.48 345.66h0.9v0.9h-0.9zM488.82 346.87h0.9v0.9h-0.9zM491.32 350.79h0.9v0.9h-0.9zM487.16 352.09h0.9v0.9h-0.9zM480.23 349.52h0.9v0.9h-0.9zM477.68 355.27h0.9v0.9h-0.9zM486.83 348.13h0.9v0.9h-0.9zM474.83 353h0.9v0.9h-0.9zM487.67 352.63h0.9v0.9h-0.9zM478.88 355.55h0.9v0.9h-0.9zM474.25 351.26h0.9v0.9h-0.9zM475.37 354.34h0.9v0.9h-0.9zM476.67 348.88h0.9v0.9h-0.9zM492.04 352.29h0.9v0.9h-0.9zM470.63 360.44h0.9v0.9h-0.9zM490.58 352.28h0.9v0.9h-0.9zM480.32 358.3h0.9v0.9h-0.9zM488.6 341.35h0.9v0.9h-0.9zM467.13 351.01h0.9v0.9h-0.9zM487.73 365.46h0.9v0.9h-0.9zM473.29 356.7h0.9v0.9h-0.9zM485.16 350.43h0.9v0.9h-0.9zM489.21 353.44h0.9v0.9h-0.9zM484.67 358.9h0.9v0.9h-0.9zM490.44 353.84h0.9v0.9h-0.9zM493.75 341.58h0.9v0.9h-0.9zM496.99 340.54h0.9v0.9h-0.9zM485.23 348.31h0.9v0.9h-0.9zM477.07 352.24h0.9v0.9h-0.9zM471.83 357.64h0.9v0.9h-0.9zM483.16 346.75h0.9v0.9h-0.9zM485.25 351.2h0.9v0.9h-0.9zM482.83 340.72h0.9v0.9h-0.9zM487.43 350.18h0.9v0.9h-0.9zM499.58 356.12h0.9v0.9h-0.9zM493.24 349.41h0.9v0.9h-0.9zM487.29 346.46h0.9v0.9h-0.9zM480.82 346.8h0.9v0.9h-0.9zM478.12 347.6h0.9v0.9h-0.9zM493.9 355.14h0.9v0.9h-0.9zM461.12 358.48h0.9v0.9h-0.9zM467.06 348.86h0.9v0.9h-0.9zM482.25 349.1h0.9v0.9h-0.9zM476.67 344.72h0.9v0.9h-0.9zM487.78 344.32h0.9v0.9h-0.9zM480.59 343.99h0.9v0.9h-0.9zM493.05 348.92h0.9v0.9h-0.9zM493.03 343.71h0.9v0.9h-0.9zM484.48 347.86h0.9v0.9h-0.9zM475.61 356.2h0.9v0.9h-0.9zM469.24 352.04h0.9v0.9h-0.9zM473.48 354.28h0.9v0.9h-0.9zM471.9 353.57h0.9v0.9h-0.9zM476.76 350.14h0.9v0.9h-0.9zM480.26 361.45h0.9v0.9h-0.9zM476.09 359.4h0.9v0.9h-0.9zM480.61 366.43h0.9v0.9h-0.9zM485.56 354.64h0.9v0.9h-0.9zM472.67 361.99h0.9v0.9h-0.9zM483.08 346.24h0.9v0.9h-0.9zM484.34 358.36h0.9v0.9h-0.9zM479.04 352.86h0.9v0.9h-0.9zM493.32 351.98h0.9v0.9h-0.9zM476.12 344.9h0.9v0.9h-0.9zM491.9 349.72h0.9v0.9h-0.9zM490.19 352.93h0.9v0.9h-0.9zM484.54 353.45h0.9v0.9h-0.9zM479.36 350.5h0.9v0.9h-0.9zM485.13 346.49h0.9v0.9h-0.9zM482.39 359.19h0.9v0.9h-0.9zM483.22 354.58h0.9v0.9h-0.9zM485.95 342.66h0.9v0.9h-0.9zM489.76 338.04h0.9v0.9h-0.9zM487.11 348.25h0.9v0.9h-0.9zM476.92 356.15h0.9v0.9h-0.9zM480.14 361.54h0.9v0.9h-0.9zM469.36 362.76h0.9v0.9h-0.9zM491.64 349.47h0.9v0.9h-0.9zM474.07 347.06h0.9v0.9h-0.9zM466.75 357.59h0.9v0.9h-0.9zM481.62 355.48h0.9v0.9h-0.9zM485.63 352.46h0.9v0.9h-0.9zM470.88 355.58h0.9v0.9h-0.9zM487.07 354.4h0.9v0.9h-0.9zM463.01 363.84h0.9v0.9h-0.9zM469.26 355.89h0.9v0.9h-0.9zM485.45 360.36h0.9v0.9h-0.9zM488.34 348.74h0.9v0.9h-0.9zM477.28 347.67h0.9v0.9h-0.9zM472.8 352.9h0.9v0.9h-0.9zM477 358.8h0.9v0.9h-0.9zM475.34 357.34h0.9v0.9h-0.9zM482.26 346.22h0.9v0.9h-0.9zM484.85 339.93h0.9v0.9h-0.9zM486.67 348.79h0.9v0.9h-0.9zM479.52 353h0.9v0.9h-0.9zM488.26 353.44h0.9v0.9h-0.9zM484.52 347.08h0.9v0.9h-0.9zM488.11 338.77h0.9v0.9h-0.9zM496.97 343.29h0.9v0.9h-0.9zM487 356.8h0.9v0.9h-0.9zM478.09 350.28h0.9v0.9h-0.9zM485.64 344.8h0.9v0.9h-0.9zM492.65 337.64h0.9v0.9h-0.9zM480.37 352.98h0.9v0.9h-0.9zM485.68 346.51h0.9v0.9h-0.9zM495.71 352.82h0.9v0.9h-0.9zM484.31 353.83h0.9v0.9h-0.9zM473.82 358.97h0.9v0.9h-0.9zM486.17 353.37h0.9v0.9h-0.9zM489.43 349.52h0.9v0.9h-0.9zM483.55 342.68h0.9v0.9h-0.9zM469.95 348.68h0.9v0.9h-0.9zM490.18 348.42h0.9v0.9h-0.9zM478.8 348.2h0.9v0.9h-0.9zM489.43 347.35h0.9v0.9h-0.9zM496.38 343.17h0.9v0.9h-0.9zM475.35 342.07h0.9v0.9h-0.9zM477.17 354.4h0.9v0.9h-0.9zM471.79 357.81h0.9v0.9h-0.9zM488.69 341.55h0.9v0.9h-0.9zM486.88 341.42h0.9v0.9h-0.9zM484.52 347.05h0.9v0.9h-0.9zM488.56 342.59h0.9v0.9h-0.9zM481.83 353.16h0.9v0.9h-0.9zM479.38 349.39h0.9v0.9h-0.9zM477.31 357.42h0.9v0.9h-0.9zM485.28 353.1h0.9v0.9h-0.9zM490.38 349.75h0.9v0.9h-0.9zM486.6 345.51h0.9v0.9h-0.9zM483.34 352.95h0.9v0.9h-0.9zM473.5 348.56h0.9v0.9h-0.9zM489.49 356.76h0.9v0.9h-0.9zM487.78 348.68h0.9v0.9h-0.9zM495.48 350.71h0.9v0.9h-0.9zM495.05 349.96h0.9v0.9h-0.9zM485.52 353.58h0.9v0.9h-0.9zM495.63 351.13h0.9v0.9h-0.9zM471.11 363.45h0.9v0.9h-0.9zM480.24 345.06h0.9v0.9h-0.9zM473.82 355.37h0.9v0.9h-0.9zM465.28 350.33h0.9v0.9h-0.9zM484.74 352.85h0.9v0.9h-0.9zM496.01 345.34h0.9v0.9h-0.9zM477.7 347.98h0.9v0.9h-0.9zM489.47 348.18h0.9v0.9h-0.9zM485.85 345.32h0.9v0.9h-0.9zM476.47 349.07h0.9v0.9h-0.9zM485.07 351.08h0.9v0.9h-0.9zM495.38 348.95h0.9v0.9h-0.9zM484.52 355.93h0.9v0.9h-0.9zM471.85 350.38h0.9v0.9h-0.9zM488.33 352.93h0.9v0.9h-0.9zM484.21 342.17h0.9v0.9h-0.9zM472.51 355.41h0.9v0.9h-0.9zM487.55 338.24h0.9v0.9h-0.9zM480.17 350.91h0.9v0.9h-0.9zM491.93 352.55h0.9v0.9h-0.9zM480.1 346.28h0.9v0.9h-0.9zM481.97 347.25h0.9v0.9h-0.9zM477.64 355.45h0.9v0.9h-0.9zM483.72 336.53h0.9v0.9h-0.9zM483.23 352.56h0.9v0.9h-0.9zM472.87 361.73h0.9v0.9h-0.9zM486.55 348.91h0.9v0.9h-0.9zM479.11 356.82h0.9v0.9h-0.9zM491.97 342.78h0.9v0.9h-0.9zM464.4 363.4h0.9v0.9h-0.9zM482.05 339.62h0.9v0.9h-0.9zM492.19 333.07h0.9v0.9h-0.9zM478.16 343.84h0.9v0.9h-0.9zM471.75 354.32h0.9v0.9h-0.9zM501.78 338.44h0.9v0.9h-0.9zM493.53 341.78h0.9v0.9h-0.9zM475.49 353.37h0.9v0.9h-0.9zM468.48 363.83h0.9v0.9h-0.9zM476.61 344.65h0.9v0.9h-0.9zM481.96 348.62h0.9v0.9h-0.9zM476.77 354.18h0.9v0.9h-0.9zM495.77 343.95h0.9v0.9h-0.9zM477.41 357.04h0.9v0.9h-0.9zM491.46 343.15h0.9v0.9h-0.9zM481.75 346.03h0.9v0.9h-0.9zM471.59 358.53h0.9v0.9h-0.9zM487.58 355.99h0.9v0.9h-0.9zM497.96 330.42h0.9v0.9h-0.9zM472.94 352.78h0.9v0.9h-0.9zM498 344.33h0.9v0.9h-0.9zM490.45 342.86h0.9v0.9h-0.9zM493.9 353.41h0.9v0.9h-0.9zM494.27 350.66h0.9v0.9h-0.9zM480.04 360.53h0.9v0.9h-0.9zM477.77 347.44h0.9v0.9h-0.9zM477.12 353.07h0.9v0.9h-0.9zM494 346.14h0.9v0.9h-0.9zM487.71 347.88h0.9v0.9h-0.9zM488.71 348.66h0.9v0.9h-0.9zM473.95 367.39h0.9v0.9h-0.9zM490.53 352.02h0.9v0.9h-0.9zM488.02 344.94h0.9v0.9h-0.9zM482.38 354h0.9v0.9h-0.9zM493.76 348.56h0.9v0.9h-0.9zM478.63 350.56h0.9v0.9h-0.9zM475.04 350.99h0.9v0.9h-0.9zM481.77 347.11h0.9v0.9h-0.9zM486.13 359.64h0.9v0.9h-0.9zM478.6 343.88h0.9v0.9h-0.9zM477.93 357.92h0.9v0.9h-0.9zM475.03 358.68h0.9v0.9h-0.9zM492.7 345.02h0.9v0.9h-0.9zM471.84 356.7h0.9v0.9h-0.9zM476.15 352.99h0.9v0.9h-0.9zM498.44 345.85h0.9v0.9h-0.9zM468.31 355.21h0.9v0.9h-0.9zM474.57 362.43h0.9v0.9h-0.9zM485.85 345.68h0.9v0.9h-0.9zM484.22 348.34h0.9v0.9h-0.9zM475.24 346.08h0.9v0.9h-0.9zM482.61 346.21h0.9v0.9h-0.9zM480.77 353.78h0.9v0.9h-0.9zM492.34 342.61h0.9v0.9h-0.9zM485.63 343.4h0.9v0.9h-0.9zM466.39 361.63h0.9v0.9h-0.9zM495.91 342.1h0.9v0.9h-0.9zM473.96 344.84h0.9v0.9h-0.9zM480.69 355.26h0.9v0.9h-0.9zM486.58 341.38h0.9v0.9h-0.9zM484.97 341.37h0.9v0.9h-0.9zM480.55 352.72h0.9v0.9h-0.9zM486.16 338.73h0.9v0.9h-0.9zM476.93 351.69h0.9v0.9h-0.9zM486.73 346.13h0.9v0.9h-0.9zM487.47 355.01h0.9v0.9h-0.9zM470.4 356.16h0.9v0.9h-0.9zM502.27 344.21h0.9v0.9h-0.9z" fill="#222" fill-opacity="0.4"/>
<path d="M481.8 351 c -6 -2 -6 7 0 9 c 5 1 11 0 14 -3 c 1 -3 -3 -4 -6 -3 c -3 1 -5 -1 -8 -3 z" fill="none" stroke="#1a1a1a" stroke-width="0.8"/>
<ellipse cx="491" cy="344.5" rx="14.5" ry="11" fill="#e2e2e2" stroke="#222" stroke-width="0.7" opacity="1" transform="rotate(-38 491 344.5)"/>
<ellipse cx="493" cy="342" rx="13" ry="9.8" fill="#b8b8b8" stroke="#111" stroke-width="0.7" opacity="1" transform="rotate(-38 493 342)"/>
<ellipse cx="492.9" cy="342.1" rx="11.6" ry="8.7" fill="#a1a1a1" stroke="#111" stroke-width="0.7" opacity="1" transform="rotate(-38 492.9 342.1)"/>
<ellipse cx="492.8" cy="342.2" rx="10.2" ry="7.6" fill="#8a8a8a" stroke="#111" stroke-width="0.7" opacity="1" transform="rotate(-38 492.8 342.2)"/>
<ellipse cx="492.7" cy="342.3" rx="8.9" ry="6.6" fill="#737373" stroke="#111" stroke-width="0.7" opacity="1" transform="rotate(-38 492.7 342.3)"/>
<ellipse cx="492.6" cy="342.4" rx="7.6" ry="5.6" fill="#5c5c5c" stroke="#111" stroke-width="0.7" opacity="1" transform="rotate(-38 492.6 342.4)"/>
<ellipse cx="492.5" cy="342.5" rx="6.3" ry="4.6" fill="#454545" stroke="#111" stroke-width="0.7" opacity="1" transform="rotate(-38 492.5 342.5)"/>
<ellipse cx="492.4" cy="342.6" rx="5" ry="3.6" fill="#2e2e2e" stroke="#111" stroke-width="0.7" opacity="1" transform="rotate(-38 492.4 342.6)"/>
<ellipse cx="492.3" cy="342.7" rx="3.7" ry="2.6" fill="#171717" stroke="#111" stroke-width="0.7" opacity="1" transform="rotate(-38 492.3 342.7)"/>
<ellipse cx="493" cy="342" rx="1.4" ry="0.8" fill="#fff" stroke="none" stroke-width="0" opacity="1" transform="rotate(-40 493 342)"/>
</g>
<rect x="443.8" y="314" width="65.6" height="66" fill="none" stroke="#111" stroke-width="1"/>
<line x1="472.5" y1="314" x2="472.5" y2="380" stroke="#111" stroke-width="1"/>
<line x1="443.8" y1="352.5" x2="509.4" y2="352.5" stroke="#111" stroke-width="1"/>
<text x="446.4" y="322" font-size="7.2">1.55</text>
<text x="507.4" y="322" font-size="7.2" text-anchor="end">90.2</text>
<text x="446.4" y="377.4" font-size="7.2">2.51</text>
<text x="507.4" y="377.4" font-size="7.2" text-anchor="end">5.70</text>
<text x="477.1" y="311.4" font-size="8.2" text-anchor="middle">shSMARCD-I</text>
<text x="438.8" y="323.7" font-size="7.6" text-anchor="end">10<tspan font-size="5.93" dy="-3.19">5</tspan></text>
<text x="438.8" y="339.7" font-size="7.6" text-anchor="end">10<tspan font-size="5.93" dy="-3.19">4</tspan></text>
<text x="438.8" y="357.5" font-size="7.6" text-anchor="end">10<tspan font-size="5.93" dy="-3.19">3</tspan></text>
<text x="438.8" y="368.2" font-size="7.6" text-anchor="end">0</text>
<text x="438.8" y="379.2" font-size="7.6" text-anchor="end">−10<tspan font-size="5.93" dy="-3.19">3</tspan></text>
<path d="M443.3 317h-2M443.3 319h-2M443.3 321h-2M443.3 323h-2M443.3 326h-2M443.3 329h-2M443.3 332h-2M443.3 334h-2M443.3 337h-2M443.3 340h-2M443.3 343h-2M443.3 346h-2M443.3 349h-2M443.3 351h-2M443.3 353h-2M443.3 354.8h-2M443.3 356h-2M443.3 358h-2M443.3 360h-2M443.3 361.5h-2M443.3 363h-2M443.3 364h-2M443.3 365h-2M443.3 366h-2M443.3 367h-2M443.3 368h-2M443.3 370h-2M443.3 372h-2M443.3 374h-2M443.3 376.5h-2M450.8 380.5v2M452.8 380.5v2M454.8 380.5v2M456.8 380.5v2M457.8 380.5v2M458.8 380.5v2M459.8 380.5v2M460.8 380.5v2M461.8 380.5v2M462.8 380.5v2M464.8 380.5v2M466.8 380.5v2M469.8 380.5v2M472.8 380.5v2M475.8 380.5v2M478.8 380.5v2M481.8 380.5v2M484.8 380.5v2M487.8 380.5v2M490.8 380.5v2M493.8 380.5v2M496.8 380.5v2M499.8 380.5v2M502.8 380.5v2M505.8 380.5v2M507.8 380.5v2" stroke="#222" stroke-width="0.6"/>
<text x="449" y="392.3" font-size="7.5" text-anchor="middle">−10<tspan font-size="5.85" dy="-3.15">3</tspan></text>
<text x="460.3" y="392.3" font-size="7.5" text-anchor="middle">0</text>
<text x="471.1" y="392.3" font-size="7.5" text-anchor="middle">10<tspan font-size="5.85" dy="-3.15">3</tspan></text>
<text x="491" y="392.3" font-size="7.5" text-anchor="middle">10<tspan font-size="5.85" dy="-3.15">4</tspan></text>
<text x="507" y="392.3" font-size="7.5" text-anchor="middle">10<tspan font-size="5.85" dy="-3.15">5</tspan></text>
<path d="M322.7 282.8V236.2" stroke="#222" stroke-width="1.2"/>
<path d="M320.4 236.6L322.7 232.6L325 236.6z" fill="#111"/>
<path d="M322.1 282.2H377" stroke="#222" stroke-width="1.2"/>
<path d="M376 279.9L380.2 282.2L376 284.5z" fill="#111"/>
<path d="M322.7 395.9V349.3" stroke="#222" stroke-width="1.2"/>
<path d="M320.4 349.7L322.7 345.7L325 349.7z" fill="#111"/>
<path d="M322.1 395.3H377" stroke="#222" stroke-width="1.2"/>
<path d="M376 393L380.2 395.3L376 397.6z" fill="#111"/>
<text transform="translate(319.3 257.1) rotate(-90) scale(0.69 1)" font-size="8.53" text-anchor="middle" stroke="#1a1a1a" stroke-width="0.28">CD11b FITC-A</text>
<text transform="translate(319.3 369.9) rotate(-90) scale(0.69 1)" font-size="8.53" text-anchor="middle" stroke="#1a1a1a" stroke-width="0.28">CD11b FITC-A</text>
<text transform="translate(329 292) scale(0.69 1)" font-size="8.53" stroke="#1a1a1a" stroke-width="0.28">CD14 APC-H7-A</text>
<text transform="translate(329 405.4) scale(0.69 1)" font-size="8.53" stroke="#1a1a1a" stroke-width="0.28">CD14 APC-H7-A</text>
<rect x="43.8" y="484.8" width="12" height="7.3" fill="#e58a9c"/>
<rect x="61.9" y="445" width="12.1" height="47.1" fill="#86a8c9"/>
<line x1="37.5" y1="424.8" x2="37.5" y2="492.6" stroke="#262626" stroke-width="1.1"/>
<line x1="37" y1="492.5" x2="78.8" y2="492.5" stroke="#262626" stroke-width="1.1"/>
<line x1="34.3" y1="492.5" x2="37.5" y2="492.5" stroke="#262626" stroke-width="1"/>
<text x="32.1" y="494.88" font-size="7.5" text-anchor="end">0</text>
<line x1="34.3" y1="476.5" x2="37.5" y2="476.5" stroke="#262626" stroke-width="1"/>
<text x="32.1" y="479.02" font-size="7.5" text-anchor="end">2</text>
<line x1="34.3" y1="460.5" x2="37.5" y2="460.5" stroke="#262626" stroke-width="1"/>
<text x="32.1" y="463.18" font-size="7.5" text-anchor="end">4</text>
<line x1="34.3" y1="444.5" x2="37.5" y2="444.5" stroke="#262626" stroke-width="1"/>
<text x="32.1" y="447.32" font-size="7.5" text-anchor="end">6</text>
<line x1="34.3" y1="428.5" x2="37.5" y2="428.5" stroke="#262626" stroke-width="1"/>
<text x="32.1" y="431.48" font-size="7.5" text-anchor="end">8</text>
<polyline points="49.6,482.5 49.6,436 67.7,436 67.7,438.5" stroke="#333" stroke-width="1" fill="none"/>
<circle cx="54.75" cy="432.4" r="1" fill="#1a1a1a"/>
<circle cx="57.35" cy="432.4" r="1" fill="#1a1a1a"/>
<circle cx="59.95" cy="432.4" r="1" fill="#1a1a1a"/>
<circle cx="62.55" cy="432.4" r="1" fill="#1a1a1a"/>
<circle cx="47.5" cy="485.4" r="1.6" fill="#c8102e"/>
<circle cx="49.8" cy="485" r="1.6" fill="#c8102e"/>
<circle cx="52.1" cy="485.4" r="1.6" fill="#c8102e"/>
<circle cx="67.7" cy="441" r="1.6" fill="#1c5592"/>
<circle cx="66.2" cy="447.3" r="1.6" fill="#1c5592"/>
<circle cx="69.2" cy="447.6" r="1.6" fill="#1c5592"/>
<line x1="67.5" y1="439.8" x2="67.5" y2="449.2" stroke="#333" stroke-width="1"/>
<line x1="65.5" y1="439.5" x2="69.9" y2="439.5" stroke="#333" stroke-width="1"/>
<line x1="65.5" y1="449.5" x2="69.9" y2="449.5" stroke="#333" stroke-width="1"/>
<text transform="translate(21.3 458.3) rotate(-90) scale(0.69 1)" font-size="9.18" text-anchor="middle" stroke="#1a1a1a" stroke-width="0.28">% (CD14+, CD11b+)</text>
<rect x="135.2" y="450.8" width="12.1" height="41.3" fill="#e58a9c"/>
<rect x="153.8" y="441.5" width="12.2" height="50.6" fill="#86a8c9"/>
<line x1="128.5" y1="424.6" x2="128.5" y2="492.6" stroke="#262626" stroke-width="1.1"/>
<line x1="128.4" y1="492.5" x2="171.7" y2="492.5" stroke="#262626" stroke-width="1.1"/>
<line x1="125.7" y1="492.5" x2="128.9" y2="492.5" stroke="#262626" stroke-width="1"/>
<text x="123.5" y="494.99" font-size="7.8" text-anchor="end">0</text>
<line x1="125.7" y1="480.5" x2="128.9" y2="480.5" stroke="#262626" stroke-width="1"/>
<text x="123.5" y="483.74" font-size="7.8" text-anchor="end">100</text>
<line x1="125.7" y1="469.5" x2="128.9" y2="469.5" stroke="#262626" stroke-width="1"/>
<text x="123.5" y="472.49" font-size="7.8" text-anchor="end">200</text>
<line x1="125.7" y1="458.5" x2="128.9" y2="458.5" stroke="#262626" stroke-width="1"/>
<text x="123.5" y="461.24" font-size="7.8" text-anchor="end">300</text>
<line x1="125.7" y1="447.5" x2="128.9" y2="447.5" stroke="#262626" stroke-width="1"/>
<text x="123.5" y="449.99" font-size="7.8" text-anchor="end">400</text>
<line x1="125.7" y1="435.5" x2="128.9" y2="435.5" stroke="#262626" stroke-width="1"/>
<text x="123.5" y="438.74" font-size="7.8" text-anchor="end">500</text>
<polyline points="141,449.5 141,435.4 159.6,435.4 159.6,440" stroke="#333" stroke-width="1" fill="none"/>
<circle cx="147.7" cy="431.8" r="1" fill="#1a1a1a"/>
<circle cx="150.3" cy="431.8" r="1" fill="#1a1a1a"/>
<circle cx="152.9" cy="431.8" r="1" fill="#1a1a1a"/>
<circle cx="139.5" cy="450.6" r="1.6" fill="#c8102e"/>
<circle cx="141.2" cy="449.5" r="1.6" fill="#c8102e"/>
<circle cx="143" cy="450.8" r="1.6" fill="#c8102e"/>
<circle cx="157.8" cy="441.2" r="1.6" fill="#1c5592"/>
<circle cx="159.6" cy="440.6" r="1.6" fill="#1c5592"/>
<circle cx="161.4" cy="441.2" r="1.6" fill="#1c5592"/>
<text transform="translate(103.6 461.9) rotate(-90) scale(0.69 1)" font-size="8.64" text-anchor="middle" stroke="#1a1a1a" stroke-width="0.28">M.F.I.</text>
<text x="146.7" y="421.8" font-size="8.6" text-anchor="middle">CD11b</text>
<rect x="227.1" y="470.4" width="11.9" height="21.7" fill="#e58a9c"/>
<rect x="245" y="443" width="11.9" height="49.1" fill="#86a8c9"/>
<line x1="221.5" y1="424.6" x2="221.5" y2="492.6" stroke="#262626" stroke-width="1.1"/>
<line x1="220.7" y1="492.5" x2="262.7" y2="492.5" stroke="#262626" stroke-width="1.1"/>
<line x1="218" y1="492.5" x2="221.2" y2="492.5" stroke="#262626" stroke-width="1"/>
<text x="215.8" y="494.99" font-size="7.8" text-anchor="end">0</text>
<line x1="218" y1="470.5" x2="221.2" y2="470.5" stroke="#262626" stroke-width="1"/>
<text x="215.8" y="473.79" font-size="7.8" text-anchor="end">100</text>
<line x1="218" y1="449.5" x2="221.2" y2="449.5" stroke="#262626" stroke-width="1"/>
<text x="215.8" y="452.59" font-size="7.8" text-anchor="end">200</text>
<line x1="218" y1="428.5" x2="221.2" y2="428.5" stroke="#262626" stroke-width="1"/>
<text x="215.8" y="431.39" font-size="7.8" text-anchor="end">300</text>
<polyline points="232.9,469 232.9,435.4 251.2,435.4 251.2,440" stroke="#333" stroke-width="1" fill="none"/>
<circle cx="238.15" cy="431.8" r="1" fill="#1a1a1a"/>
<circle cx="240.75" cy="431.8" r="1" fill="#1a1a1a"/>
<circle cx="243.35" cy="431.8" r="1" fill="#1a1a1a"/>
<circle cx="245.95" cy="431.8" r="1" fill="#1a1a1a"/>
<circle cx="231" cy="470.6" r="1.6" fill="#c8102e"/>
<circle cx="233" cy="470" r="1.6" fill="#c8102e"/>
<circle cx="235" cy="470.6" r="1.6" fill="#c8102e"/>
<circle cx="251.2" cy="441" r="1.6" fill="#1c5592"/>
<circle cx="249.5" cy="445.3" r="1.6" fill="#1c5592"/>
<circle cx="252.9" cy="445.6" r="1.6" fill="#1c5592"/>
<line x1="251.5" y1="440" x2="251.5" y2="446.8" stroke="#333" stroke-width="1"/>
<line x1="249" y1="440.5" x2="253.4" y2="440.5" stroke="#333" stroke-width="1"/>
<line x1="249" y1="446.5" x2="253.4" y2="446.5" stroke="#333" stroke-width="1"/>
<text transform="translate(194.8 460.2) rotate(-90) scale(0.69 1)" font-size="8.64" text-anchor="middle" stroke="#1a1a1a" stroke-width="0.28">M.F.I.</text>
<text x="239.2" y="421.8" font-size="8.6" text-anchor="middle">CD14</text>
<rect x="85.6" y="502.1" width="3.4" height="3.4" fill="#c8102e"/>
<text x="91.5" y="506.3" font-size="7">shcontrol</text>
<rect x="130.5" y="502.1" width="3.4" height="3.4" fill="#1c5592"/>
<text x="137.3" y="506.3" font-size="7">shSMARCD1</text>
<rect x="44.2" y="593.8" width="12" height="11.6" fill="#e58a9c"/>
<rect x="63" y="554" width="12" height="51.4" fill="#86a8c9"/>
<line x1="37.5" y1="534.2" x2="37.5" y2="605.9" stroke="#262626" stroke-width="1.1"/>
<line x1="37" y1="605.5" x2="79.8" y2="605.5" stroke="#262626" stroke-width="1.1"/>
<line x1="34.3" y1="605.5" x2="37.5" y2="605.5" stroke="#262626" stroke-width="1"/>
<text x="32.1" y="608.17" font-size="7.5" text-anchor="end">50</text>
<line x1="34.3" y1="592.5" x2="37.5" y2="592.5" stroke="#262626" stroke-width="1"/>
<text x="32.1" y="595.09" font-size="7.5" text-anchor="end">60</text>
<line x1="34.3" y1="579.5" x2="37.5" y2="579.5" stroke="#262626" stroke-width="1"/>
<text x="32.1" y="582.01" font-size="7.5" text-anchor="end">70</text>
<line x1="34.3" y1="566.5" x2="37.5" y2="566.5" stroke="#262626" stroke-width="1"/>
<text x="32.1" y="568.93" font-size="7.5" text-anchor="end">80</text>
<line x1="34.3" y1="553.5" x2="37.5" y2="553.5" stroke="#262626" stroke-width="1"/>
<text x="32.1" y="555.85" font-size="7.5" text-anchor="end">90</text>
<line x1="34.3" y1="540.5" x2="37.5" y2="540.5" stroke="#262626" stroke-width="1"/>
<text x="32.1" y="542.77" font-size="7.5" text-anchor="end">100</text>
<polyline points="50,589 50,548.3 69.6,548.3 69.6,552.5" stroke="#333" stroke-width="1" fill="none"/>
<circle cx="55.9" cy="544.7" r="1" fill="#1a1a1a"/>
<circle cx="58.5" cy="544.7" r="1" fill="#1a1a1a"/>
<circle cx="61.1" cy="544.7" r="1" fill="#1a1a1a"/>
<circle cx="63.7" cy="544.7" r="1" fill="#1a1a1a"/>
<circle cx="50" cy="591.5" r="1.6" fill="#c8102e"/>
<circle cx="48.5" cy="593.9" r="1.6" fill="#c8102e"/>
<circle cx="51.5" cy="594.1" r="1.6" fill="#c8102e"/>
<circle cx="67.8" cy="553.5" r="1.6" fill="#1c5592"/>
<circle cx="69.6" cy="553" r="1.6" fill="#1c5592"/>
<circle cx="71.4" cy="553.6" r="1.6" fill="#1c5592"/>
<line x1="50.5" y1="589.8" x2="50.5" y2="595.8" stroke="#333" stroke-width="1"/>
<line x1="47.8" y1="589.5" x2="52.2" y2="589.5" stroke="#333" stroke-width="1"/>
<line x1="47.8" y1="595.5" x2="52.2" y2="595.5" stroke="#333" stroke-width="1"/>
<text transform="translate(12.8 574.6) rotate(-90) scale(0.69 1)" font-size="9.18" text-anchor="middle" stroke="#1a1a1a" stroke-width="0.28">% (CD14+, CD11b+)</text>
<rect x="135.2" y="580.2" width="12.1" height="25.4" fill="#e58a9c"/>
<rect x="153.8" y="547.9" width="12.2" height="57.7" fill="#86a8c9"/>
<line x1="128.5" y1="533.5" x2="128.5" y2="606.1" stroke="#262626" stroke-width="1.1"/>
<line x1="128.4" y1="605.5" x2="171.7" y2="605.5" stroke="#262626" stroke-width="1.1"/>
<line x1="125.7" y1="605.5" x2="128.9" y2="605.5" stroke="#262626" stroke-width="1"/>
<text x="123.5" y="608.49" font-size="7.8" text-anchor="end">0</text>
<line x1="125.7" y1="592.5" x2="128.9" y2="592.5" stroke="#262626" stroke-width="1"/>
<text x="123.5" y="595.61" font-size="7.8" text-anchor="end">1000</text>
<line x1="125.7" y1="579.5" x2="128.9" y2="579.5" stroke="#262626" stroke-width="1"/>
<text x="123.5" y="582.73" font-size="7.8" text-anchor="end">2000</text>
<line x1="125.7" y1="566.5" x2="128.9" y2="566.5" stroke="#262626" stroke-width="1"/>
<text x="123.5" y="569.85" font-size="7.8" text-anchor="end">3000</text>
<line x1="125.7" y1="554.5" x2="128.9" y2="554.5" stroke="#262626" stroke-width="1"/>
<text x="123.5" y="556.97" font-size="7.8" text-anchor="end">4000</text>
<line x1="125.7" y1="541.5" x2="128.9" y2="541.5" stroke="#262626" stroke-width="1"/>
<text x="123.5" y="544.09" font-size="7.8" text-anchor="end">5000</text>
<polyline points="141,578.5 141,542.1 159.6,542.1 159.6,546" stroke="#333" stroke-width="1" fill="none"/>
<circle cx="146.4" cy="538.5" r="1" fill="#1a1a1a"/>
<circle cx="149" cy="538.5" r="1" fill="#1a1a1a"/>
<circle cx="151.6" cy="538.5" r="1" fill="#1a1a1a"/>
<circle cx="154.2" cy="538.5" r="1" fill="#1a1a1a"/>
<circle cx="139.8" cy="580.4" r="1.6" fill="#c8102e"/>
<circle cx="141" cy="579" r="1.6" fill="#c8102e"/>
<circle cx="142.6" cy="580.8" r="1.6" fill="#c8102e"/>
<circle cx="158.2" cy="546.4" r="1.6" fill="#1c5592"/>
<circle cx="159.6" cy="547.6" r="1.6" fill="#1c5592"/>
<circle cx="161" cy="546.8" r="1.6" fill="#1c5592"/>
<text transform="translate(99.8 573.8) rotate(-90) scale(0.69 1)" font-size="8.64" text-anchor="middle" stroke="#1a1a1a" stroke-width="0.28">M.F.I.</text>
<text x="148.7" y="531.8" font-size="8.6" text-anchor="middle">CD11b</text>
<rect x="227.5" y="592.7" width="13.1" height="12.9" fill="#e58a9c"/>
<rect x="245.4" y="554.6" width="13.1" height="51" fill="#86a8c9"/>
<line x1="221.5" y1="533.5" x2="221.5" y2="606.1" stroke="#262626" stroke-width="1.1"/>
<line x1="220.7" y1="605.5" x2="262.7" y2="605.5" stroke="#262626" stroke-width="1.1"/>
<line x1="218" y1="605.5" x2="221.2" y2="605.5" stroke="#262626" stroke-width="1"/>
<text x="215.8" y="608.49" font-size="7.8" text-anchor="end">0</text>
<line x1="218" y1="592.5" x2="221.2" y2="592.5" stroke="#262626" stroke-width="1"/>
<text x="215.8" y="594.99" font-size="7.8" text-anchor="end">5000</text>
<line x1="218" y1="578.5" x2="221.2" y2="578.5" stroke="#262626" stroke-width="1"/>
<text x="215.8" y="581.49" font-size="7.8" text-anchor="end">10000</text>
<line x1="218" y1="565.5" x2="221.2" y2="565.5" stroke="#262626" stroke-width="1"/>
<text x="215.8" y="567.99" font-size="7.8" text-anchor="end">15000</text>
<line x1="218" y1="551.5" x2="221.2" y2="551.5" stroke="#262626" stroke-width="1"/>
<text x="215.8" y="554.49" font-size="7.8" text-anchor="end">20000</text>
<line x1="218" y1="538.5" x2="221.2" y2="538.5" stroke="#262626" stroke-width="1"/>
<text x="215.8" y="540.99" font-size="7.8" text-anchor="end">25000</text>
<polyline points="233.8,590.5 233.8,546 252.1,546 252.1,549.5" stroke="#333" stroke-width="1" fill="none"/>
<circle cx="239.05" cy="542.4" r="1" fill="#1a1a1a"/>
<circle cx="241.65" cy="542.4" r="1" fill="#1a1a1a"/>
<circle cx="244.25" cy="542.4" r="1" fill="#1a1a1a"/>
<circle cx="246.85" cy="542.4" r="1" fill="#1a1a1a"/>
<circle cx="231.6" cy="592.6" r="1.6" fill="#c8102e"/>
<circle cx="233.8" cy="592" r="1.6" fill="#c8102e"/>
<circle cx="236" cy="592.6" r="1.6" fill="#c8102e"/>
<circle cx="252.1" cy="551" r="1.6" fill="#1c5592"/>
<circle cx="250.5" cy="555.6" r="1.6" fill="#1c5592"/>
<circle cx="253.7" cy="555.8" r="1.6" fill="#1c5592"/>
<line x1="252.5" y1="550" x2="252.5" y2="557" stroke="#333" stroke-width="1"/>
<line x1="249.9" y1="550.5" x2="254.3" y2="550.5" stroke="#333" stroke-width="1"/>
<line x1="249.9" y1="557.5" x2="254.3" y2="557.5" stroke="#333" stroke-width="1"/>
<text transform="translate(188.2 571) rotate(-90) scale(0.69 1)" font-size="8.64" text-anchor="middle" stroke="#1a1a1a" stroke-width="0.28">M.F.I.</text>
<text x="241.9" y="531.8" font-size="8.6" text-anchor="middle">CD14</text>
<rect x="85.6" y="615.1" width="3.4" height="3.4" fill="#c8102e"/>
<text x="91.5" y="619.3" font-size="7">shcontrol-I</text>
<rect x="130.5" y="615.1" width="3.4" height="3.4" fill="#1c5592"/>
<text x="137.3" y="619.3" font-size="7">shSMARCD1-I</text>
<g clip-path="url(#cp_k1)">
<rect x="303.1" y="421.7" width="94.2" height="78.4" fill="#d1d4d7"/>
<ellipse cx="331.5" cy="466.4" rx="3.5" ry="2.6" fill="#b79cc4" filter="url(#mb2)"/>
<ellipse cx="312" cy="483" rx="3" ry="1.5" fill="#bcb0cc" filter="url(#mb2)"/>
<circle cx="320" cy="424" r="1.9" fill="#eeeee8" stroke="#a2aaac" stroke-width="0.6" stroke-opacity="0.6"/>
<circle cx="343" cy="422" r="1.9" fill="#eeeee8" stroke="#a2aaac" stroke-width="0.6" stroke-opacity="0.6"/>
<circle cx="328" cy="443.5" r="1.9" fill="#eeeee8" stroke="#a2aaac" stroke-width="0.6" stroke-opacity="0.6"/>
<circle cx="338" cy="425.6" r="1.9" fill="#eeeee8" stroke="#a2aaac" stroke-width="0.6" stroke-opacity="0.6"/>
<circle cx="348" cy="428" r="1.9" fill="#eeeee8" stroke="#a2aaac" stroke-width="0.6" stroke-opacity="0.6"/>
<circle cx="336" cy="448" r="1.9" fill="#eeeee8" stroke="#a2aaac" stroke-width="0.6" stroke-opacity="0.6"/>
<circle cx="342" cy="444" r="1.9" fill="#eeeee8" stroke="#a2aaac" stroke-width="0.6" stroke-opacity="0.6"/>
<circle cx="349.5" cy="442.5" r="1.9" fill="#eeeee8" stroke="#a2aaac" stroke-width="0.6" stroke-opacity="0.6"/>
<circle cx="364" cy="445.5" r="1.9" fill="#eeeee8" stroke="#a2aaac" stroke-width="0.6" stroke-opacity="0.6"/>
<circle cx="389" cy="426" r="1.9" fill="#eeeee8" stroke="#a2aaac" stroke-width="0.6" stroke-opacity="0.6"/>
<circle cx="389" cy="449" r="1.9" fill="#eeeee8" stroke="#a2aaac" stroke-width="0.6" stroke-opacity="0.6"/>
<circle cx="386" cy="446" r="1.9" fill="#eeeee8" stroke="#a2aaac" stroke-width="0.6" stroke-opacity="0.6"/>
<circle cx="316" cy="462" r="1.9" fill="#eeeee8" stroke="#a2aaac" stroke-width="0.6" stroke-opacity="0.6"/>
<circle cx="336" cy="468" r="1.9" fill="#eeeee8" stroke="#a2aaac" stroke-width="0.6" stroke-opacity="0.6"/>
<circle cx="336.5" cy="459" r="1.9" fill="#eeeee8" stroke="#a2aaac" stroke-width="0.6" stroke-opacity="0.6"/>
<circle cx="318" cy="477" r="1.9" fill="#eeeee8" stroke="#a2aaac" stroke-width="0.6" stroke-opacity="0.6"/>
<circle cx="331" cy="484" r="1.9" fill="#eeeee8" stroke="#a2aaac" stroke-width="0.6" stroke-opacity="0.6"/>
<circle cx="345" cy="479" r="1.9" fill="#eeeee8" stroke="#a2aaac" stroke-width="0.6" stroke-opacity="0.6"/>
<circle cx="347" cy="480" r="1.9" fill="#eeeee8" stroke="#a2aaac" stroke-width="0.6" stroke-opacity="0.6"/>
<circle cx="331" cy="497" r="1.9" fill="#eeeee8" stroke="#a2aaac" stroke-width="0.6" stroke-opacity="0.6"/>
<circle cx="386" cy="493" r="1.9" fill="#eeeee8" stroke="#a2aaac" stroke-width="0.6" stroke-opacity="0.6"/>
<circle cx="383" cy="465.5" r="1.9" fill="#eeeee8" stroke="#a2aaac" stroke-width="0.6" stroke-opacity="0.6"/>
<circle cx="372" cy="445" r="1.9" fill="#eeeee8" stroke="#a2aaac" stroke-width="0.6" stroke-opacity="0.6"/>
<circle cx="367" cy="488.5" r="1.9" fill="#eeeee8" stroke="#a2aaac" stroke-width="0.6" stroke-opacity="0.6"/>
<circle cx="310" cy="447" r="1.9" fill="#eeeee8" stroke="#a2aaac" stroke-width="0.6" stroke-opacity="0.6"/>
<circle cx="313" cy="489" r="1.9" fill="#eeeee8" stroke="#a2aaac" stroke-width="0.6" stroke-opacity="0.6"/>
<circle cx="340" cy="495" r="1.9" fill="#eeeee8" stroke="#a2aaac" stroke-width="0.6" stroke-opacity="0.6"/>
<circle cx="369" cy="497" r="1.9" fill="#eeeee8" stroke="#a2aaac" stroke-width="0.6" stroke-opacity="0.6"/>
<g filter="url(#mb)">
<path d="M313.42 436.89C313.03 435.6 313.01 433.87 313.41 432.59C313.81 431.31 314.86 430.15 315.84 429.21C316.81 428.28 317.98 427.33 319.25 426.96C320.51 426.58 322.11 426.61 323.43 426.98C324.75 427.34 326.3 428.11 327.16 429.15C328.02 430.19 328.34 431.84 328.6 433.2C328.86 434.57 329.08 436.07 328.73 437.33C328.38 438.58 327.42 439.72 326.5 440.72C325.58 441.72 324.48 442.94 323.22 443.33C321.96 443.73 320.19 443.58 318.95 443.08C317.71 442.58 316.68 441.37 315.76 440.34C314.84 439.31 313.81 438.18 313.42 436.89Z" fill="url(#c_k1)"/>
<path d="M313.82 436.99C313.51 435.94 313.93 434.41 314.56 433.32C315.18 432.23 316.36 431.06 317.57 430.45C318.78 429.84 320.5 429.6 321.83 429.66C323.16 429.73 324.55 430.21 325.56 430.86C326.57 431.51 327.65 432.54 327.9 433.57C328.16 434.6 327.69 436.01 327.09 437.06C326.49 438.1 325.46 439.2 324.31 439.84C323.15 440.47 321.49 440.9 320.18 440.87C318.87 440.83 317.5 440.28 316.44 439.63C315.38 438.99 314.13 438.04 313.82 436.99Z" fill="url(#n_k1)"/>
<path d="M353.74 439.79C353.13 438.72 352.91 437.22 352.94 435.94C352.97 434.67 353.25 433.2 353.9 432.14C354.55 431.09 355.73 430.14 356.84 429.6C357.95 429.06 359.29 428.91 360.57 428.89C361.85 428.86 363.38 428.85 364.51 429.44C365.64 430.04 366.73 431.28 367.34 432.45C367.95 433.63 368.23 435.16 368.17 436.47C368.1 437.77 367.65 439.24 366.93 440.28C366.22 441.31 365.02 442.16 363.9 442.69C362.79 443.22 361.45 443.51 360.23 443.47C359.02 443.42 357.7 443.03 356.62 442.42C355.54 441.8 354.36 440.87 353.74 439.79Z" fill="url(#c_k1)"/>
<path d="M355.44 438.58C354.85 437.49 354.67 435.96 354.73 434.74C354.79 433.53 355.1 432.07 355.78 431.27C356.47 430.47 357.75 430.07 358.85 429.92C359.95 429.77 361.33 429.81 362.38 430.39C363.43 430.96 364.59 432.22 365.13 433.35C365.66 434.48 365.69 435.99 365.59 437.16C365.48 438.34 365.12 439.54 364.48 440.41C363.84 441.27 362.79 442.19 361.75 442.34C360.71 442.5 359.3 441.95 358.25 441.32C357.19 440.69 356.02 439.68 355.44 438.58Z" fill="url(#n_k1)"/>
<path d="M317.94 458.78C317.68 459.95 316.62 461.13 315.71 461.95C314.79 462.78 313.6 463.4 312.43 463.75C311.25 464.1 309.91 464.23 308.65 464.05C307.39 463.87 305.83 463.48 304.86 462.67C303.89 461.86 303.1 460.39 302.83 459.17C302.57 457.95 302.9 456.54 303.25 455.35C303.59 454.17 304.09 452.91 304.91 452.06C305.73 451.21 307 450.56 308.17 450.24C309.33 449.93 310.65 449.98 311.89 450.18C313.14 450.38 314.74 450.64 315.63 451.44C316.53 452.24 316.88 453.75 317.26 454.98C317.64 456.2 318.2 457.62 317.94 458.78Z" fill="url(#c_k1)"/>
<path d="M317.89 457.97C317.57 459.05 316.8 460.11 315.93 460.85C315.06 461.6 313.8 462.38 312.67 462.45C311.55 462.53 310.19 461.92 309.17 461.31C308.15 460.71 307 459.82 306.55 458.81C306.1 457.81 306.22 456.4 306.49 455.31C306.77 454.22 307.34 452.99 308.18 452.28C309.03 451.57 310.4 451.14 311.55 451.06C312.7 450.99 314.02 451.31 315.07 451.85C316.11 452.4 317.35 453.33 317.82 454.35C318.29 455.37 318.2 456.88 317.89 457.97Z" fill="url(#n_k1)"/>
<path d="M319.44 459.1C318.96 458.07 318.56 456.7 318.65 455.59C318.75 454.48 319.33 453.23 320 452.44C320.68 451.66 321.73 451.31 322.69 450.91C323.65 450.5 324.79 449.8 325.76 450C326.73 450.21 327.76 451.31 328.54 452.13C329.32 452.95 330.01 453.89 330.47 454.93C330.93 455.98 331.4 457.32 331.29 458.4C331.18 459.48 330.47 460.58 329.81 461.39C329.16 462.19 328.28 462.93 327.36 463.25C326.45 463.56 325.29 463.51 324.32 463.27C323.34 463.03 322.33 462.49 321.51 461.8C320.7 461.1 319.92 460.14 319.44 459.1Z" fill="url(#c_k1)"/>
<path d="M321.28 458.15C320.92 457.28 320.75 456.07 321.02 455.16C321.29 454.24 322.08 453.26 322.89 452.65C323.69 452.04 324.81 451.6 325.82 451.5C326.84 451.4 328.16 451.53 328.98 452.04C329.81 452.55 330.46 453.63 330.78 454.55C331.1 455.48 331.18 456.63 330.92 457.58C330.66 458.54 330.01 459.68 329.21 460.27C328.41 460.86 327.12 461.1 326.12 461.12C325.12 461.14 323.99 460.88 323.19 460.38C322.38 459.89 321.64 459.02 321.28 458.15Z" fill="url(#n_k1)"/>
<path d="M353.87 458.36C353.05 459.22 351.88 460.13 350.82 460.42C349.76 460.71 348.57 460.32 347.5 460.1C346.43 459.89 345.15 459.78 344.39 459.13C343.62 458.48 343.06 457.26 342.88 456.19C342.71 455.13 342.92 453.82 343.32 452.75C343.72 451.69 344.46 450.57 345.29 449.81C346.12 449.05 347.28 448.49 348.31 448.19C349.34 447.89 350.41 447.91 351.46 448.02C352.52 448.13 353.93 448.2 354.62 448.86C355.32 449.52 355.44 450.9 355.63 451.97C355.82 453.03 356.05 454.2 355.75 455.26C355.46 456.33 354.69 457.5 353.87 458.36Z" fill="url(#c_k1)"/>
<path d="M354.31 458.51C353.58 459.24 352.37 459.82 351.39 459.98C350.4 460.15 349.23 459.93 348.39 459.5C347.56 459.07 346.82 458.27 346.39 457.42C345.96 456.58 345.6 455.39 345.79 454.45C345.99 453.51 346.82 452.48 347.56 451.78C348.3 451.08 349.3 450.46 350.25 450.23C351.21 450.01 352.41 450.05 353.29 450.42C354.17 450.79 355.11 451.6 355.53 452.46C355.94 453.32 355.99 454.57 355.78 455.58C355.58 456.59 355.04 457.77 354.31 458.51Z" fill="url(#n_k1)"/>
<path d="M366.77 454.93C365.92 456.03 364.83 457.21 363.7 457.78C362.57 458.35 361.16 458.43 360 458.37C358.84 458.3 357.63 458.01 356.73 457.39C355.83 456.78 355.02 455.77 354.6 454.68C354.19 453.58 353.98 452.08 354.26 450.82C354.55 449.56 355.48 448.22 356.32 447.14C357.16 446.05 358.18 445 359.32 444.29C360.46 443.57 361.92 442.91 363.16 442.85C364.4 442.8 365.83 443.24 366.74 443.97C367.66 444.69 368.29 445.99 368.64 447.19C368.99 448.4 369.15 449.89 368.84 451.18C368.53 452.47 367.63 453.83 366.77 454.93Z" fill="url(#c_k1)"/>
<path d="M365.33 456.03C364.63 456.88 363.54 457.61 362.49 457.9C361.44 458.18 360.14 458.08 359.02 457.75C357.9 457.42 356.5 456.81 355.77 455.91C355.05 455.01 354.69 453.51 354.67 452.33C354.65 451.15 354.95 449.66 355.65 448.81C356.34 447.96 357.73 447.53 358.86 447.24C360 446.94 361.35 446.7 362.44 447.05C363.53 447.4 364.68 448.39 365.39 449.35C366.1 450.31 366.71 451.68 366.7 452.8C366.69 453.91 366.03 455.18 365.33 456.03Z" fill="url(#n_k1)"/>
<path d="M355.53 467.62C355.27 468.76 354.7 470.03 353.91 470.87C353.11 471.71 351.88 472.35 350.76 472.66C349.63 472.97 348.31 472.99 347.18 472.73C346.05 472.46 344.86 471.85 344 471.07C343.14 470.28 342.29 469.12 342.02 468.01C341.75 466.91 342.07 465.58 342.37 464.45C342.67 463.32 343.08 462.12 343.82 461.25C344.56 460.38 345.7 459.57 346.81 459.22C347.91 458.86 349.35 458.82 350.45 459.14C351.55 459.47 352.56 460.34 353.39 461.15C354.23 461.96 355.13 462.94 355.48 464.02C355.84 465.09 355.79 466.48 355.53 467.62Z" fill="url(#c_k1)"/>
<path d="M353.8 469.03C353.57 469.97 352.91 470.99 352.08 471.57C351.25 472.15 349.95 472.47 348.83 472.5C347.71 472.53 346.35 472.28 345.37 471.76C344.39 471.24 343.39 470.27 342.96 469.37C342.54 468.48 342.62 467.33 342.84 466.39C343.06 465.46 343.52 464.43 344.29 463.79C345.07 463.15 346.38 462.63 347.51 462.58C348.64 462.53 350.09 462.92 351.09 463.49C352.08 464.06 353.02 465.05 353.47 465.98C353.93 466.9 354.03 468.1 353.8 469.03Z" fill="url(#n_k1)"/>
<path d="M372.42 471.36C371.32 471.05 370.4 469.92 369.52 469.07C368.65 468.23 367.49 467.34 367.19 466.3C366.88 465.26 367.4 463.93 367.71 462.81C368.02 461.7 368.29 460.41 369.04 459.6C369.8 458.78 371.12 458.16 372.25 457.91C373.39 457.67 374.69 457.85 375.86 458.12C377.02 458.4 378.38 458.8 379.24 459.57C380.1 460.34 380.69 461.63 381.01 462.75C381.33 463.88 381.41 465.17 381.17 466.31C380.93 467.45 380.4 468.82 379.55 469.59C378.71 470.35 377.28 470.61 376.1 470.91C374.91 471.2 373.51 471.67 372.42 471.36Z" fill="url(#c_k1)"/>
<path d="M372.6 469.97C371.44 469.66 370.08 469.08 369.32 468.31C368.56 467.54 368.15 466.31 368.07 465.34C367.98 464.37 368.29 463.33 368.82 462.51C369.36 461.68 370.25 460.74 371.29 460.41C372.33 460.08 373.91 460.18 375.06 460.51C376.21 460.84 377.39 461.59 378.2 462.39C379.02 463.19 379.84 464.33 379.95 465.29C380.06 466.25 379.49 467.37 378.88 468.17C378.27 468.98 377.32 469.82 376.27 470.11C375.23 470.41 373.76 470.27 372.6 469.97Z" fill="url(#n_k1)"/>
<path d="M357.04 474.75C356.47 473.99 356.43 472.71 356.43 471.67C356.43 470.64 356.54 469.45 357.05 468.53C357.55 467.6 358.52 466.71 359.44 466.13C360.35 465.54 361.48 465.2 362.53 465.03C363.57 464.87 364.75 464.83 365.72 465.14C366.69 465.44 367.74 466.07 368.34 466.86C368.94 467.66 369.31 468.84 369.33 469.88C369.34 470.92 368.96 472.11 368.44 473.11C367.92 474.1 367.14 475.24 366.22 475.84C365.29 476.43 363.95 476.6 362.88 476.67C361.81 476.74 360.77 476.56 359.8 476.24C358.82 475.92 357.6 475.52 357.04 474.75Z" fill="url(#c_k1)"/>
<path d="M357.88 473.29C357.35 472.55 357.05 471.43 357.06 470.49C357.07 469.56 357.39 468.45 357.93 467.69C358.48 466.92 359.43 466.18 360.34 465.9C361.24 465.62 362.45 465.69 363.34 466.01C364.23 466.34 365.09 467.09 365.66 467.87C366.23 468.64 366.74 469.72 366.76 470.68C366.78 471.65 366.4 472.89 365.81 473.64C365.21 474.4 364.1 474.98 363.17 475.2C362.24 475.42 361.13 475.29 360.25 474.97C359.37 474.66 358.42 474.04 357.88 473.29Z" fill="url(#n_k1)"/>
<path d="M379.38 477.34C379.21 478.33 378.6 479.3 377.97 480.13C377.33 480.95 376.52 481.96 375.57 482.3C374.62 482.63 373.3 482.35 372.26 482.14C371.22 481.94 370.18 481.63 369.33 481.06C368.48 480.5 367.55 479.65 367.16 478.76C366.78 477.87 366.95 476.74 367.04 475.72C367.13 474.7 367.12 473.41 367.72 472.64C368.31 471.87 369.59 471.39 370.6 471.08C371.6 470.76 372.75 470.62 373.75 470.77C374.76 470.92 375.76 471.42 376.63 471.99C377.5 472.56 378.5 473.3 378.96 474.19C379.42 475.08 379.54 476.35 379.38 477.34Z" fill="url(#c_k1)"/>
<path d="M376.4 478.29C376.28 479.24 375.76 480.33 375.1 481.04C374.45 481.75 373.41 482.37 372.45 482.56C371.5 482.76 370.25 482.65 369.37 482.23C368.5 481.8 367.64 480.88 367.22 480.02C366.81 479.15 366.76 477.99 366.89 477.05C367.03 476.1 367.42 475 368.05 474.33C368.68 473.66 369.78 473.18 370.69 473.04C371.61 472.9 372.68 473.1 373.53 473.48C374.38 473.87 375.3 474.54 375.78 475.35C376.26 476.15 376.51 477.34 376.4 478.29Z" fill="url(#n_k1)"/>
<path d="M388.21 483.02C387.4 483.72 386.21 484.2 385.16 484.43C384.11 484.66 382.91 484.68 381.91 484.4C380.91 484.12 379.82 483.53 379.18 482.76C378.55 481.99 378.27 480.83 378.1 479.79C377.94 478.76 377.84 477.57 378.17 476.55C378.5 475.53 379.24 474.32 380.09 473.67C380.95 473.03 382.21 472.93 383.29 472.68C384.37 472.43 385.59 471.95 386.58 472.18C387.56 472.41 388.61 473.24 389.2 474.06C389.79 474.87 389.97 476.03 390.1 477.05C390.23 478.07 390.31 479.19 389.99 480.18C389.68 481.17 389.01 482.31 388.21 483.02Z" fill="url(#c_k1)"/>
<path d="M388.29 481.35C387.58 481.93 386.41 482.18 385.45 482.21C384.49 482.24 383.37 482.01 382.52 481.51C381.66 481.01 380.76 480.11 380.34 479.21C379.92 478.3 379.81 477.06 379.99 476.1C380.18 475.14 380.72 474.04 381.43 473.45C382.14 472.86 383.31 472.59 384.27 472.56C385.24 472.52 386.42 472.74 387.23 473.26C388.04 473.79 388.7 474.81 389.11 475.72C389.52 476.62 389.84 477.76 389.7 478.7C389.56 479.64 389 480.76 388.29 481.35Z" fill="url(#n_k1)"/>
<path d="M386.08 492.9C385.06 492.13 384.1 490.91 383.59 489.76C383.07 488.61 382.79 487.13 382.96 485.99C383.13 484.84 383.89 483.76 384.63 482.9C385.37 482.03 386.31 481.1 387.38 480.79C388.46 480.47 389.86 480.77 391.08 481.02C392.31 481.27 393.72 481.55 394.73 482.29C395.73 483.03 396.69 484.34 397.12 485.47C397.55 486.61 397.52 488 397.31 489.1C397.1 490.19 396.53 491.21 395.86 492.05C395.19 492.89 394.32 493.75 393.29 494.14C392.27 494.52 390.9 494.57 389.7 494.36C388.5 494.16 387.1 493.67 386.08 492.9Z" fill="url(#c_k1)"/>
<path d="M387.85 492.58C387.11 491.97 386.7 490.8 386.47 489.77C386.24 488.73 386.07 487.37 386.49 486.38C386.91 485.4 388.06 484.5 389.01 483.84C389.96 483.18 391.17 482.43 392.18 482.41C393.19 482.4 394.3 483.08 395.06 483.74C395.81 484.4 396.46 485.36 396.7 486.37C396.94 487.38 396.96 488.8 396.52 489.8C396.07 490.8 394.97 491.77 394.03 492.38C393.09 492.98 391.91 493.39 390.88 493.43C389.85 493.46 388.58 493.19 387.85 492.58Z" fill="url(#n_k1)"/>
<path d="M346.42 493.09C345.84 492.02 345.87 490.5 345.92 489.2C345.98 487.9 346.04 486.31 346.74 485.3C347.45 484.28 348.98 483.65 350.15 483.11C351.33 482.57 352.56 482.11 353.8 482.05C355.04 481.99 356.53 482.18 357.57 482.77C358.61 483.37 359.43 484.53 360.05 485.6C360.67 486.67 361.3 487.98 361.29 489.2C361.29 490.43 360.73 491.89 360.02 492.96C359.31 494.03 358.17 494.97 357.03 495.63C355.89 496.28 354.45 496.9 353.18 496.9C351.91 496.91 350.54 496.29 349.41 495.65C348.29 495.02 347 494.17 346.42 493.09Z" fill="url(#c_k1)"/>
<path d="M348.66 492.73C348.06 491.69 347.58 490.28 347.65 489.11C347.73 487.93 348.32 486.49 349.1 485.69C349.89 484.9 351.22 484.52 352.36 484.33C353.51 484.14 354.88 484.07 355.94 484.55C357.01 485.02 358.18 486.12 358.74 487.19C359.3 488.25 359.44 489.76 359.29 490.94C359.15 492.12 358.64 493.45 357.89 494.25C357.13 495.05 355.86 495.55 354.76 495.74C353.65 495.92 352.27 495.87 351.25 495.37C350.23 494.87 349.26 493.78 348.66 492.73Z" fill="url(#n_k1)"/>
<path d="M402.39 427.6C402.32 428.58 401.76 429.61 401.12 430.45C400.49 431.3 399.62 432.23 398.59 432.65C397.57 433.08 396.14 433.13 394.98 433C393.81 432.86 392.59 432.43 391.62 431.85C390.65 431.27 389.58 430.42 389.15 429.51C388.71 428.61 388.88 427.43 388.99 426.43C389.09 425.43 389.19 424.29 389.78 423.49C390.38 422.68 391.5 422.06 392.55 421.6C393.59 421.14 394.88 420.67 396.05 420.72C397.22 420.77 398.67 421.25 399.58 421.9C400.5 422.55 401.07 423.66 401.54 424.61C402.01 425.56 402.45 426.63 402.39 427.6Z" fill="url(#c_k1)"/>
<path d="M400.34 427.76C400.28 428.71 399.89 429.83 399.28 430.59C398.67 431.36 397.65 432.09 396.68 432.35C395.71 432.6 394.39 432.51 393.47 432.1C392.56 431.7 391.69 430.76 391.21 429.9C390.73 429.03 390.49 427.86 390.59 426.91C390.69 425.95 391.2 424.91 391.83 424.16C392.45 423.41 393.41 422.69 394.36 422.42C395.32 422.16 396.67 422.15 397.55 422.56C398.43 422.97 399.2 424 399.66 424.86C400.13 425.73 400.4 426.81 400.34 427.76Z" fill="url(#n_k1)"/>
<path d="M400.06 444.54C399.41 445.45 398.28 446.18 397.28 446.67C396.29 447.16 395.15 447.46 394.11 447.46C393.07 447.46 391.82 447.26 391.04 446.67C390.25 446.09 389.83 444.95 389.42 443.97C389.01 442.99 388.44 441.84 388.58 440.8C388.73 439.75 389.59 438.63 390.27 437.7C390.95 436.76 391.73 435.71 392.66 435.2C393.6 434.69 394.86 434.55 395.88 434.62C396.9 434.69 397.93 435.07 398.77 435.61C399.6 436.15 400.48 436.94 400.88 437.87C401.29 438.81 401.33 440.09 401.19 441.2C401.06 442.31 400.71 443.63 400.06 444.54Z" fill="url(#c_k1)"/>
<path d="M399.9 442.26C399.3 443.08 398.36 443.9 397.45 444.22C396.54 444.53 395.33 444.44 394.42 444.15C393.51 443.86 392.58 443.23 391.99 442.48C391.39 441.73 390.88 440.62 390.85 439.65C390.82 438.67 391.23 437.43 391.81 436.61C392.39 435.79 393.4 435.08 394.34 434.72C395.29 434.36 396.54 434.19 397.48 434.46C398.41 434.73 399.37 435.53 399.96 436.33C400.56 437.14 401.06 438.3 401.05 439.29C401.04 440.27 400.5 441.44 399.9 442.26Z" fill="url(#n_k1)"/>
<path d="M297.9 484.12C297.46 483.39 297.21 482.53 297.13 481.66C297.06 480.79 297.02 479.66 297.46 478.88C297.9 478.1 298.95 477.54 299.77 476.97C300.6 476.41 301.48 475.66 302.4 475.48C303.32 475.31 304.52 475.52 305.29 475.93C306.05 476.34 306.58 477.22 307 477.95C307.42 478.69 307.74 479.49 307.82 480.35C307.89 481.2 307.86 482.29 307.43 483.07C307 483.86 306.05 484.57 305.24 485.05C304.44 485.53 303.51 485.79 302.59 485.95C301.67 486.12 300.51 486.34 299.73 486.04C298.95 485.73 298.33 484.85 297.9 484.12Z" fill="url(#c_k1)"/>
<path d="M298.26 484.03C297.81 483.38 297.73 482.31 297.77 481.48C297.82 480.66 298.05 479.73 298.51 479.08C298.98 478.42 299.82 477.74 300.58 477.54C301.35 477.35 302.35 477.59 303.11 477.9C303.87 478.21 304.63 478.74 305.12 479.39C305.6 480.04 306 480.99 306.02 481.81C306.03 482.64 305.72 483.67 305.22 484.34C304.72 485.01 303.81 485.67 303.02 485.85C302.22 486.03 301.24 485.73 300.45 485.42C299.65 485.12 298.7 484.69 298.26 484.03Z" fill="url(#n_k1)"/>
<path d="M304.96 425.22C304.26 425.14 303.56 424.94 302.99 424.58C302.41 424.22 301.85 423.66 301.53 423.06C301.21 422.45 301.08 421.68 301.05 420.97C301.02 420.25 301.06 419.4 301.38 418.76C301.69 418.13 302.33 417.55 302.94 417.18C303.55 416.82 304.36 416.55 305.04 416.58C305.72 416.62 306.46 417 307.03 417.39C307.61 417.78 308.17 418.31 308.5 418.92C308.84 419.53 308.99 420.3 309.03 421.04C309.07 421.77 309.06 422.65 308.75 423.31C308.44 423.98 307.81 424.72 307.18 425.04C306.55 425.35 305.66 425.29 304.96 425.22Z" fill="url(#c_k1)"/>
<path d="M304.98 425.09C304.4 425.06 303.78 424.79 303.28 424.39C302.79 424 302.19 423.38 302 422.71C301.81 422.05 301.95 421.1 302.16 420.39C302.36 419.69 302.74 418.89 303.22 418.48C303.7 418.07 304.44 417.91 305.04 417.93C305.64 417.95 306.33 418.18 306.81 418.6C307.29 419.01 307.73 419.75 307.9 420.44C308.08 421.12 308.05 422.02 307.86 422.71C307.67 423.4 307.26 424.18 306.78 424.58C306.3 424.98 305.56 425.13 304.98 425.09Z" fill="url(#n_k1)"/>
<path d="M302.37 502.4C302.09 501.88 301.82 501.24 301.81 500.69C301.8 500.14 302.04 499.53 302.31 499.09C302.58 498.66 303.01 498.29 303.44 498.07C303.88 497.86 304.42 497.77 304.92 497.8C305.43 497.83 306.05 497.95 306.48 498.26C306.91 498.57 307.2 499.17 307.49 499.67C307.78 500.18 308.19 500.76 308.24 501.31C308.3 501.87 308.09 502.53 307.82 503C307.56 503.46 307.11 503.87 306.66 504.11C306.2 504.36 305.61 504.53 305.08 504.48C304.56 504.42 303.95 504.13 303.5 503.78C303.05 503.43 302.65 502.91 302.37 502.4Z" fill="url(#c_k1)"/>
<path d="M302.01 502.5C301.78 502.06 301.7 501.45 301.75 500.95C301.8 500.45 301.99 499.84 302.33 499.48C302.66 499.11 303.26 498.82 303.75 498.77C304.24 498.71 304.81 498.9 305.26 499.12C305.72 499.34 306.24 499.68 306.49 500.11C306.74 500.54 306.81 501.2 306.74 501.7C306.67 502.21 306.42 502.77 306.07 503.14C305.73 503.5 305.17 503.81 304.69 503.88C304.2 503.95 303.61 503.79 303.16 503.56C302.71 503.33 302.25 502.93 302.01 502.5Z" fill="url(#n_k1)"/>
</g>
</g>
<g clip-path="url(#cp_k2)">
<rect x="418.5" y="421.6" width="94.5" height="78.5" fill="#d2dddd"/>
<ellipse cx="485" cy="448" rx="5" ry="3.5" fill="#c9a6c4" filter="url(#mb2)" opacity="0.8"/>
<circle cx="426" cy="425" r="1.9" fill="#eeeee8" stroke="#a2aaac" stroke-width="0.6" stroke-opacity="0.6"/>
<circle cx="453" cy="423.5" r="1.9" fill="#eeeee8" stroke="#a2aaac" stroke-width="0.6" stroke-opacity="0.6"/>
<circle cx="481" cy="424" r="1.9" fill="#eeeee8" stroke="#a2aaac" stroke-width="0.6" stroke-opacity="0.6"/>
<circle cx="488" cy="425.5" r="1.9" fill="#eeeee8" stroke="#a2aaac" stroke-width="0.6" stroke-opacity="0.6"/>
<circle cx="498" cy="427" r="1.9" fill="#eeeee8" stroke="#a2aaac" stroke-width="0.6" stroke-opacity="0.6"/>
<circle cx="509" cy="424" r="1.9" fill="#eeeee8" stroke="#a2aaac" stroke-width="0.6" stroke-opacity="0.6"/>
<circle cx="427" cy="451.4" r="1.9" fill="#eeeee8" stroke="#a2aaac" stroke-width="0.6" stroke-opacity="0.6"/>
<circle cx="421" cy="463.5" r="1.9" fill="#eeeee8" stroke="#a2aaac" stroke-width="0.6" stroke-opacity="0.6"/>
<circle cx="430" cy="464" r="1.9" fill="#eeeee8" stroke="#a2aaac" stroke-width="0.6" stroke-opacity="0.6"/>
<circle cx="452" cy="467" r="1.9" fill="#eeeee8" stroke="#a2aaac" stroke-width="0.6" stroke-opacity="0.6"/>
<circle cx="465" cy="432" r="1.9" fill="#eeeee8" stroke="#a2aaac" stroke-width="0.6" stroke-opacity="0.6"/>
<circle cx="452" cy="436" r="1.9" fill="#eeeee8" stroke="#a2aaac" stroke-width="0.6" stroke-opacity="0.6"/>
<circle cx="500" cy="468" r="1.9" fill="#eeeee8" stroke="#a2aaac" stroke-width="0.6" stroke-opacity="0.6"/>
<circle cx="505" cy="478" r="1.9" fill="#eeeee8" stroke="#a2aaac" stroke-width="0.6" stroke-opacity="0.6"/>
<circle cx="511" cy="467" r="1.9" fill="#eeeee8" stroke="#a2aaac" stroke-width="0.6" stroke-opacity="0.6"/>
<circle cx="424" cy="478" r="1.9" fill="#eeeee8" stroke="#a2aaac" stroke-width="0.6" stroke-opacity="0.6"/>
<circle cx="423" cy="485" r="1.9" fill="#eeeee8" stroke="#a2aaac" stroke-width="0.6" stroke-opacity="0.6"/>
<circle cx="446" cy="480.5" r="1.9" fill="#eeeee8" stroke="#a2aaac" stroke-width="0.6" stroke-opacity="0.6"/>
<circle cx="489" cy="479" r="1.9" fill="#eeeee8" stroke="#a2aaac" stroke-width="0.6" stroke-opacity="0.6"/>
<circle cx="490" cy="487" r="1.9" fill="#eeeee8" stroke="#a2aaac" stroke-width="0.6" stroke-opacity="0.6"/>
<circle cx="503" cy="493" r="1.9" fill="#eeeee8" stroke="#a2aaac" stroke-width="0.6" stroke-opacity="0.6"/>
<circle cx="510" cy="488" r="1.9" fill="#eeeee8" stroke="#a2aaac" stroke-width="0.6" stroke-opacity="0.6"/>
<circle cx="463" cy="486" r="1.9" fill="#eeeee8" stroke="#a2aaac" stroke-width="0.6" stroke-opacity="0.6"/>
<circle cx="443" cy="498" r="1.9" fill="#eeeee8" stroke="#a2aaac" stroke-width="0.6" stroke-opacity="0.6"/>
<g filter="url(#mb)">
<path d="M441.33 441.18C439.82 441.19 438.09 439.8 436.81 438.88C435.54 437.96 434.62 436.88 433.69 435.65C432.77 434.43 431.49 433.02 431.27 431.54C431.05 430.06 431.82 428.38 432.37 426.77C432.91 425.16 433.34 422.95 434.55 421.88C435.77 420.81 437.97 420.4 439.66 420.35C441.36 420.3 443.24 420.78 444.71 421.57C446.19 422.36 447.55 423.68 448.52 425.08C449.48 426.49 450.53 428.4 450.5 430C450.47 431.6 449.09 433.19 448.32 434.67C447.55 436.15 447.05 437.79 445.88 438.87C444.72 439.96 442.84 441.18 441.33 441.18Z" fill="url(#c_k2)"/>
<path d="M439.51 436.67C438.33 436.76 437 435.49 435.81 434.84C434.62 434.19 432.81 433.73 432.36 432.78C431.92 431.82 432.77 430.31 433.13 429.13C433.5 427.95 433.62 426.45 434.52 425.71C435.43 424.97 437.23 424.73 438.55 424.68C439.87 424.62 441.28 424.85 442.46 425.37C443.65 425.9 445.28 426.8 445.67 427.81C446.06 428.83 445.25 430.38 444.78 431.46C444.32 432.53 443.75 433.41 442.87 434.27C441.99 435.14 440.69 436.57 439.51 436.67Z" fill="url(#n_k2)"/>
<path d="M442.2 444.56C441.8 445.56 439.69 446.02 438.6 446.72C437.5 447.42 436.77 448.54 435.62 448.75C434.48 448.96 432.98 448.37 431.74 447.97C430.51 447.58 429.26 447.15 428.23 446.38C427.2 445.62 425.86 444.48 425.57 443.41C425.28 442.33 426.18 441.11 426.5 439.94C426.82 438.78 426.62 437.08 427.47 436.41C428.32 435.75 430.3 436.04 431.6 435.97C432.9 435.89 433.95 435.79 435.28 435.96C436.6 436.12 438.6 436.18 439.55 436.96C440.5 437.75 440.52 439.41 440.96 440.68C441.4 441.94 442.59 443.55 442.2 444.56Z" fill="url(#c_k2)"/>
<path d="M439.7 443.4C439.46 444.3 438.68 445.26 437.92 445.82C437.16 446.37 436.04 446.76 435.16 446.72C434.28 446.69 433.44 446.1 432.63 445.6C431.83 445.11 430.78 444.59 430.34 443.75C429.9 442.91 429.77 441.54 430.02 440.56C430.27 439.57 431.04 438.41 431.86 437.83C432.68 437.24 433.97 436.99 434.93 437.04C435.9 437.1 436.92 437.61 437.66 438.18C438.41 438.74 439.06 439.58 439.4 440.45C439.74 441.32 439.95 442.51 439.7 443.4Z" fill="url(#n_k2)"/>
<path d="M439.29 459.86C438.08 458.94 436.85 457.94 436.14 456.63C435.42 455.31 434.97 453.57 435.01 451.99C435.05 450.4 435.54 448.61 436.36 447.1C437.18 445.59 438.43 443.69 439.9 442.95C441.38 442.21 443.66 442.26 445.2 442.66C446.75 443.06 447.72 444.51 449.17 445.34C450.62 446.17 453.15 446.36 453.92 447.64C454.68 448.92 454.05 451.31 453.77 453.02C453.5 454.74 453.21 456.65 452.26 457.91C451.3 459.17 449.51 459.9 448.03 460.61C446.56 461.31 444.87 462.26 443.41 462.14C441.96 462.02 440.51 460.78 439.29 459.86Z" fill="url(#c_k2)"/>
<path d="M442.12 458.41C441.19 457.78 440.84 456.05 440.43 454.85C440.02 453.64 439.38 452.24 439.67 451.16C439.96 450.08 441.19 449.16 442.16 448.39C443.13 447.61 444.38 446.5 445.51 446.5C446.63 446.51 447.93 447.67 448.91 448.43C449.89 449.19 450.94 450.02 451.4 451.08C451.85 452.13 451.91 453.58 451.65 454.76C451.39 455.93 450.77 457.48 449.84 458.12C448.91 458.76 447.34 458.55 446.05 458.6C444.77 458.65 443.06 459.03 442.12 458.41Z" fill="url(#n_k2)"/>
<path d="M461.1 451.44C460.07 452.18 458.41 452.04 457.06 452.28C455.71 452.51 454.03 453.34 452.99 452.86C451.95 452.38 451.68 450.46 450.84 449.42C450 448.38 448.18 447.71 447.96 446.61C447.73 445.52 448.84 443.91 449.5 442.83C450.15 441.75 450.98 441.02 451.87 440.15C452.77 439.28 453.67 438.01 454.86 437.59C456.04 437.17 457.97 437.02 458.98 437.62C459.98 438.22 460.28 440.13 460.9 441.19C461.53 442.26 462.33 442.91 462.72 444.02C463.12 445.13 463.54 446.61 463.27 447.85C463 449.09 462.13 450.7 461.1 451.44Z" fill="url(#c_k2)"/>
<path d="M458.55 447.44C457.78 447.94 456.83 448.2 455.99 448.24C455.15 448.28 454.28 448.06 453.5 447.68C452.73 447.3 451.79 446.76 451.35 445.97C450.91 445.19 450.67 443.92 450.89 442.97C451.11 442.01 451.87 440.82 452.67 440.25C453.47 439.68 454.78 439.48 455.7 439.54C456.62 439.6 457.46 440.14 458.19 440.62C458.92 441.1 459.66 441.66 460.06 442.44C460.47 443.21 460.87 444.44 460.62 445.28C460.37 446.11 459.32 446.95 458.55 447.44Z" fill="url(#n_k2)"/>
<path d="M477.23 448.5C476.15 449.7 474.83 451.11 473.4 451.52C471.98 451.92 470.32 451.14 468.67 450.94C467.03 450.74 464.86 451.17 463.53 450.31C462.2 449.46 460.93 447.39 460.71 445.82C460.5 444.26 461.71 442.41 462.25 440.91C462.78 439.4 463.1 438.15 463.93 436.81C464.75 435.47 465.83 433.35 467.2 432.88C468.56 432.42 470.46 433.72 472.13 434.02C473.81 434.33 476.09 433.78 477.26 434.69C478.43 435.6 478.72 437.88 479.16 439.49C479.6 441.1 480.22 442.85 479.9 444.36C479.58 445.86 478.31 447.31 477.23 448.5Z" fill="url(#c_k2)"/>
<path d="M476.29 446.98C475.57 447.76 474.51 448.46 473.46 448.64C472.41 448.83 471.09 448.55 469.98 448.11C468.86 447.66 467.49 446.95 466.78 445.97C466.07 445 465.58 443.35 465.73 442.25C465.87 441.15 466.9 440.28 467.65 439.38C468.39 438.48 469.13 437.09 470.18 436.86C471.23 436.63 472.88 437.36 473.95 437.98C475.02 438.6 475.95 439.58 476.59 440.58C477.22 441.58 477.83 442.92 477.78 443.98C477.73 445.05 477.01 446.2 476.29 446.98Z" fill="url(#n_k2)"/>
<path d="M450.4 459.45C450.21 457.68 450.04 455.6 450.7 453.96C451.36 452.33 452.85 450.56 454.37 449.62C455.89 448.69 458.1 448.24 459.82 448.34C461.55 448.45 463.23 449.43 464.74 450.25C466.24 451.06 467.74 451.94 468.84 453.25C469.95 454.56 471.17 456.39 471.36 458.1C471.55 459.8 470.86 461.98 469.98 463.48C469.09 464.98 467.53 466.33 466.05 467.11C464.57 467.88 462.72 468.11 461.1 468.13C459.48 468.15 457.87 467.83 456.32 467.23C454.78 466.64 452.81 465.87 451.82 464.58C450.83 463.28 450.58 461.22 450.4 459.45Z" fill="url(#c_k2)"/>
<path d="M454.8 459.17C454.61 458.01 454.32 456.49 454.84 455.4C455.37 454.31 456.71 453.1 457.94 452.62C459.17 452.13 460.88 452.16 462.21 452.48C463.53 452.8 465 453.56 465.88 454.53C466.76 455.51 467.47 457.09 467.48 458.35C467.49 459.61 466.69 460.99 465.95 462.08C465.2 463.16 464.17 464.42 463 464.84C461.83 465.25 460.11 464.98 458.94 464.57C457.78 464.15 456.69 463.26 456 462.37C455.31 461.47 454.99 460.33 454.8 459.17Z" fill="url(#n_k2)"/>
<path d="M472.02 461.99C471.62 460.88 471.6 459.19 472.11 458.12C472.62 457.05 474.09 456.39 475.08 455.57C476.08 454.75 476.9 453.61 478.08 453.19C479.27 452.77 481 452.63 482.18 453.03C483.36 453.44 484.44 454.63 485.17 455.61C485.9 456.59 486.31 457.78 486.56 458.94C486.8 460.09 487.01 461.45 486.65 462.55C486.29 463.65 485.31 464.64 484.4 465.53C483.49 466.43 482.35 467.72 481.18 467.91C480.01 468.1 478.51 467.2 477.4 466.67C476.29 466.15 475.42 465.55 474.52 464.77C473.62 463.99 472.42 463.1 472.02 461.99Z" fill="url(#c_k2)"/>
<path d="M474.32 460.69C474.1 459.7 474.16 458.42 474.54 457.51C474.92 456.6 475.77 455.77 476.6 455.24C477.43 454.71 478.62 454.17 479.53 454.33C480.43 454.49 481.43 455.44 482.03 456.19C482.63 456.95 482.9 457.92 483.11 458.84C483.32 459.77 483.59 460.91 483.31 461.76C483.02 462.61 482.17 463.53 481.39 463.94C480.61 464.36 479.57 464.32 478.65 464.24C477.73 464.15 476.59 464.04 475.86 463.45C475.14 462.85 474.54 461.68 474.32 460.69Z" fill="url(#n_k2)"/>
<path d="M496.46 462.71C495.25 463.33 494.22 464.44 492.95 464.49C491.69 464.54 490.05 463.79 488.88 462.98C487.7 462.18 486.7 460.92 485.89 459.66C485.07 458.41 484.1 456.84 483.99 455.45C483.88 454.07 484.74 452.78 485.22 451.35C485.71 449.91 485.84 447.62 486.91 446.85C487.98 446.08 490.08 446.61 491.62 446.75C493.16 446.9 494.98 446.85 496.15 447.72C497.32 448.59 497.88 450.58 498.64 451.98C499.39 453.39 500.43 454.69 500.69 456.15C500.95 457.62 500.91 459.68 500.21 460.77C499.5 461.87 497.67 462.09 496.46 462.71Z" fill="url(#c_k2)"/>
<path d="M494.56 459.57C493.67 460.06 492.62 460.45 491.55 460.37C490.47 460.3 489.03 459.91 488.12 459.12C487.2 458.33 486.28 456.8 486.06 455.65C485.83 454.49 486.39 453.21 486.79 452.17C487.19 451.13 487.63 450.02 488.45 449.41C489.26 448.81 490.62 448.35 491.67 448.55C492.72 448.75 493.88 449.76 494.76 450.62C495.64 451.48 496.61 452.57 496.97 453.7C497.33 454.83 497.32 456.42 496.92 457.4C496.52 458.38 495.46 459.07 494.56 459.57Z" fill="url(#n_k2)"/>
<path d="M495.85 441.59C495.63 440.27 496.78 438.66 497.42 437.25C498.05 435.85 498.52 433.96 499.67 433.17C500.81 432.38 502.78 432.57 504.28 432.52C505.79 432.48 507.43 432.3 508.7 432.88C509.96 433.46 511.13 434.78 511.88 435.99C512.64 437.19 513.2 438.73 513.23 440.09C513.27 441.44 512.71 442.9 512.11 444.12C511.51 445.34 510.68 446.5 509.62 447.41C508.57 448.33 507.11 449.49 505.77 449.62C504.42 449.74 502.73 448.91 501.56 448.17C500.39 447.43 499.7 446.27 498.75 445.17C497.8 444.08 496.08 442.91 495.85 441.59Z" fill="url(#c_k2)"/>
<path d="M501.75 439.93C501.68 439.2 501.44 438.3 501.81 437.71C502.18 437.13 503.2 436.63 503.97 436.41C504.74 436.18 505.61 436.23 506.41 436.35C507.21 436.47 508.2 436.66 508.76 437.14C509.33 437.62 509.79 438.54 509.79 439.23C509.78 439.91 509.21 440.71 508.72 441.25C508.24 441.79 507.57 442.16 506.87 442.46C506.17 442.76 505.3 443.11 504.53 443.04C503.76 442.97 502.72 442.57 502.26 442.05C501.79 441.53 501.83 440.65 501.75 439.93Z" fill="#4a2878"/>
<path d="M474.45 484.65C472.81 485.29 470.6 485.55 468.83 485.14C467.07 484.73 465.19 483.52 463.87 482.19C462.55 480.87 461.43 478.99 460.91 477.19C460.39 475.38 460.47 473.34 460.75 471.36C461.03 469.39 461.27 466.57 462.59 465.35C463.9 464.13 466.73 464.29 468.63 464.04C470.54 463.8 472.31 463.48 474.01 463.89C475.71 464.3 477.21 465.36 478.86 466.5C480.5 467.63 483.26 468.93 483.89 470.7C484.52 472.48 483.5 475.37 482.63 477.14C481.76 478.91 480.04 480.08 478.68 481.33C477.32 482.58 476.09 484.01 474.45 484.65Z" fill="url(#c_k2)"/>
<path d="M474.47 484.15C473.09 484.53 471.17 484.38 469.89 483.65C468.6 482.93 467.59 481.24 466.75 479.83C465.92 478.42 464.87 476.67 464.88 475.18C464.88 473.7 465.9 472 466.77 470.93C467.65 469.86 468.86 469.28 470.13 468.78C471.4 468.28 473.06 467.51 474.38 467.94C475.71 468.38 477.39 469.99 478.08 471.4C478.78 472.81 478.55 474.75 478.56 476.41C478.58 478.08 478.88 480.11 478.19 481.4C477.51 482.69 475.86 483.78 474.47 484.15Z" fill="url(#n_k2)"/>
<path d="M444.36 475.7C444.38 477.3 444.9 479.43 444.26 480.68C443.62 481.93 441.79 482.67 440.52 483.22C439.25 483.77 437.91 484.06 436.65 483.97C435.4 483.87 434.08 483.39 432.99 482.66C431.91 481.92 430.97 480.84 430.15 479.57C429.33 478.3 428.08 476.59 428.05 475.04C428.01 473.49 429.01 471.44 429.95 470.27C430.89 469.11 432.44 468.82 433.68 468.03C434.92 467.24 436.11 465.64 437.4 465.53C438.69 465.42 440.32 466.44 441.44 467.36C442.56 468.28 443.64 469.67 444.13 471.06C444.61 472.45 444.34 474.1 444.36 475.7Z" fill="url(#c_k2)"/>
<path d="M440.79 474.8C440.76 475.94 440.41 477.37 439.69 478.21C438.96 479.06 437.6 479.59 436.47 479.87C435.33 480.15 433.93 480.26 432.89 479.88C431.86 479.5 430.87 478.51 430.23 477.59C429.59 476.66 429.02 475.38 429.07 474.32C429.13 473.26 429.85 472.06 430.57 471.23C431.29 470.4 432.36 469.67 433.41 469.36C434.46 469.05 435.82 469.05 436.9 469.38C437.98 469.72 439.23 470.47 439.88 471.37C440.53 472.27 440.83 473.66 440.79 474.8Z" fill="url(#n_k2)"/>
<path d="M452.24 498.13C450.97 498.47 449.09 498.31 447.91 497.6C446.74 496.88 445.73 495.21 445.17 493.84C444.6 492.48 444.47 490.83 444.52 489.4C444.57 487.97 444.9 486.52 445.45 485.24C446.01 483.97 446.82 482.59 447.87 481.74C448.92 480.88 450.41 480.23 451.76 480.12C453.11 480 454.96 480.19 455.97 481.05C456.98 481.9 457.37 483.91 457.82 485.24C458.28 486.57 458.67 487.76 458.7 489.02C458.73 490.28 458.51 491.72 457.99 492.82C457.46 493.92 456.5 494.71 455.55 495.6C454.59 496.49 453.51 497.8 452.24 498.13Z" fill="url(#c_k2)"/>
<path d="M451.22 495.09C450.2 495.15 448.9 495.04 448.07 494.58C447.24 494.13 446.67 493.21 446.24 492.37C445.81 491.53 445.25 490.42 445.48 489.55C445.7 488.67 446.69 487.74 447.6 487.1C448.52 486.46 449.79 485.8 450.97 485.72C452.15 485.64 453.7 486.03 454.66 486.62C455.62 487.2 456.33 488.27 456.73 489.23C457.13 490.18 457.49 491.52 457.06 492.35C456.63 493.19 455.14 493.77 454.17 494.23C453.19 494.69 452.24 495.03 451.22 495.09Z" fill="url(#n_k2)"/>
<path d="M434.12 501.86C432.74 501.99 431.11 501.11 429.8 500.5C428.5 499.89 427.03 499.2 426.29 498.19C425.55 497.17 425.37 495.65 425.38 494.43C425.39 493.2 425.7 491.86 426.35 490.84C427 489.83 428.18 489.13 429.27 488.33C430.36 487.53 431.49 486.43 432.9 486.05C434.32 485.68 436.31 485.62 437.76 486.09C439.21 486.56 440.77 487.71 441.6 488.88C442.42 490.04 442.61 491.67 442.7 493.09C442.79 494.51 442.91 496.27 442.14 497.37C441.38 498.48 439.44 499 438.1 499.74C436.76 500.49 435.51 501.74 434.12 501.86Z" fill="url(#c_k2)"/>
<path d="M432.82 500.95C431.79 501.06 430.45 500.44 429.52 499.86C428.6 499.29 427.57 498.41 427.28 497.51C426.99 496.62 427.48 495.42 427.79 494.5C428.11 493.58 428.47 492.63 429.18 491.97C429.88 491.32 430.99 490.73 432.02 490.57C433.05 490.42 434.42 490.56 435.37 491.04C436.31 491.52 437.29 492.5 437.71 493.45C438.13 494.4 438.21 495.77 437.88 496.72C437.55 497.67 436.56 498.45 435.72 499.15C434.88 499.85 433.86 500.83 432.82 500.95Z" fill="url(#n_k2)"/>
<path d="M466.7 491.77C466.51 490.25 466.13 488.33 466.71 486.95C467.28 485.57 468.81 484.24 470.15 483.5C471.48 482.77 473.24 482.48 474.71 482.55C476.17 482.61 477.66 483.21 478.95 483.91C480.24 484.6 481.56 485.53 482.46 486.74C483.36 487.96 484.41 489.74 484.36 491.19C484.32 492.64 482.93 494.05 482.18 495.44C481.43 496.83 481 498.42 479.86 499.51C478.72 500.6 476.92 501.86 475.34 501.99C473.77 502.12 471.69 501.26 470.43 500.28C469.18 499.29 468.45 497.49 467.83 496.07C467.2 494.66 466.88 493.29 466.7 491.77Z" fill="url(#c_k2)"/>
<path d="M469.14 493.34C469.03 492.17 468.82 490.65 469.36 489.66C469.91 488.67 471.31 487.72 472.41 487.42C473.51 487.12 474.84 487.54 475.96 487.88C477.07 488.23 478.37 488.64 479.11 489.49C479.86 490.33 480.38 491.79 480.42 492.97C480.46 494.15 480.05 495.62 479.38 496.56C478.71 497.49 477.47 498.25 476.39 498.6C475.31 498.94 473.97 498.94 472.91 498.62C471.84 498.31 470.62 497.57 470 496.69C469.37 495.81 469.24 494.51 469.14 493.34Z" fill="url(#n_k2)"/>
<path d="M484.16 506.13C483.2 506.1 482.09 506.16 481.32 505.73C480.55 505.3 479.98 504.35 479.53 503.56C479.09 502.76 478.67 501.84 478.64 500.96C478.61 500.07 478.88 499.02 479.34 498.24C479.81 497.46 480.62 496.89 481.43 496.29C482.25 495.69 483.32 494.64 484.25 494.66C485.18 494.68 486.19 495.79 486.99 496.41C487.79 497.02 488.5 497.57 489.05 498.34C489.6 499.12 490.3 500.14 490.31 501.05C490.32 501.95 489.63 502.97 489.1 503.78C488.56 504.6 487.92 505.55 487.1 505.94C486.28 506.33 485.12 506.17 484.16 506.13Z" fill="url(#c_k2)"/>
<path d="M485.6 503.98C484.92 504.02 483.96 504.12 483.45 503.72C482.94 503.32 482.73 502.29 482.56 501.57C482.4 500.84 482.32 500.1 482.47 499.37C482.62 498.64 482.91 497.7 483.44 497.18C483.97 496.66 484.93 496.23 485.66 496.26C486.39 496.28 487.3 496.77 487.81 497.3C488.33 497.84 488.56 498.7 488.75 499.44C488.94 500.17 489.13 501.03 488.93 501.71C488.74 502.38 488.14 503.1 487.58 503.48C487.03 503.86 486.29 503.94 485.6 503.98Z" fill="url(#n_k2)"/>
<path d="M423.96 502.8C423.58 503.44 422.76 504 422.04 504.29C421.32 504.58 420.47 504.55 419.64 504.53C418.8 504.51 417.67 504.62 417.04 504.17C416.42 503.72 416.24 502.62 415.87 501.83C415.51 501.04 414.76 500.19 414.83 499.45C414.9 498.71 415.77 497.98 416.31 497.38C416.84 496.78 417.36 496.15 418.03 495.85C418.71 495.56 419.56 495.59 420.35 495.63C421.14 495.66 422.09 495.68 422.78 496.08C423.46 496.48 424.22 497.29 424.47 498.02C424.72 498.75 424.36 499.66 424.27 500.45C424.19 501.25 424.33 502.16 423.96 502.8Z" fill="url(#c_k2)"/>
<path d="M423.35 501.2C422.99 501.67 422.35 502 421.77 502.18C421.2 502.35 420.48 502.44 419.91 502.27C419.35 502.1 418.75 501.63 418.38 501.15C418 500.66 417.68 499.95 417.68 499.38C417.69 498.81 418.06 498.16 418.42 497.71C418.78 497.27 419.32 496.85 419.84 496.72C420.36 496.58 420.95 496.77 421.54 496.9C422.12 497.03 422.94 497.11 423.34 497.52C423.74 497.94 423.93 498.78 423.94 499.4C423.94 500.01 423.71 500.74 423.35 501.2Z" fill="url(#n_k2)"/>
</g>
</g>
<g clip-path="url(#cp_l1)">
<rect x="302.7" y="531.6" width="94.6" height="79.2" fill="#d8e6e9"/>
<ellipse cx="306" cy="555.5" rx="5" ry="8" fill="#d2bcd6" opacity="0.75" filter="url(#mb2)"/>
<circle cx="321" cy="545" r="1.9" fill="#eeeee8" stroke="#a2aaac" stroke-width="0.6" stroke-opacity="0.6"/>
<circle cx="333" cy="528" r="1.9" fill="#eeeee8" stroke="#a2aaac" stroke-width="0.6" stroke-opacity="0.6"/>
<circle cx="372" cy="537" r="1.9" fill="#eeeee8" stroke="#a2aaac" stroke-width="0.6" stroke-opacity="0.6"/>
<circle cx="390" cy="536" r="1.9" fill="#eeeee8" stroke="#a2aaac" stroke-width="0.6" stroke-opacity="0.6"/>
<circle cx="393" cy="558" r="1.9" fill="#eeeee8" stroke="#a2aaac" stroke-width="0.6" stroke-opacity="0.6"/>
<circle cx="368" cy="556" r="1.9" fill="#eeeee8" stroke="#a2aaac" stroke-width="0.6" stroke-opacity="0.6"/>
<circle cx="355" cy="557" r="1.9" fill="#eeeee8" stroke="#a2aaac" stroke-width="0.6" stroke-opacity="0.6"/>
<circle cx="318" cy="559" r="1.9" fill="#eeeee8" stroke="#a2aaac" stroke-width="0.6" stroke-opacity="0.6"/>
<circle cx="307" cy="585" r="1.9" fill="#eeeee8" stroke="#a2aaac" stroke-width="0.6" stroke-opacity="0.6"/>
<circle cx="324" cy="593" r="1.9" fill="#eeeee8" stroke="#a2aaac" stroke-width="0.6" stroke-opacity="0.6"/>
<circle cx="340" cy="605" r="1.9" fill="#eeeee8" stroke="#a2aaac" stroke-width="0.6" stroke-opacity="0.6"/>
<circle cx="357" cy="604" r="1.9" fill="#eeeee8" stroke="#a2aaac" stroke-width="0.6" stroke-opacity="0.6"/>
<circle cx="372" cy="600" r="1.9" fill="#eeeee8" stroke="#a2aaac" stroke-width="0.6" stroke-opacity="0.6"/>
<circle cx="385" cy="604" r="1.9" fill="#eeeee8" stroke="#a2aaac" stroke-width="0.6" stroke-opacity="0.6"/>
<circle cx="375" cy="594" r="1.9" fill="#eeeee8" stroke="#a2aaac" stroke-width="0.6" stroke-opacity="0.6"/>
<circle cx="392" cy="586" r="1.9" fill="#eeeee8" stroke="#a2aaac" stroke-width="0.6" stroke-opacity="0.6"/>
<circle cx="310" cy="608" r="1.9" fill="#eeeee8" stroke="#a2aaac" stroke-width="0.6" stroke-opacity="0.6"/>
<g filter="url(#mb)">
<path d="M323.68 540.59C322.91 540.04 322.18 539.28 321.8 538.43C321.42 537.57 321.29 536.44 321.39 535.45C321.49 534.46 321.86 533.39 322.39 532.49C322.91 531.58 323.66 530.48 324.53 530.01C325.39 529.53 326.59 529.6 327.58 529.63C328.57 529.66 329.7 529.7 330.47 530.19C331.24 530.68 331.82 531.69 332.19 532.58C332.57 533.47 332.79 534.55 332.71 535.55C332.64 536.55 332.27 537.67 331.73 538.59C331.2 539.51 330.39 540.54 329.5 541.06C328.61 541.58 327.36 541.8 326.39 541.72C325.42 541.64 324.44 541.14 323.68 540.59Z" fill="url(#c_l1)"/>
<path d="M324.25 539.16C323.51 538.68 322.86 537.86 322.45 537.1C322.03 536.33 321.66 535.33 321.78 534.57C321.89 533.81 322.48 533.01 323.12 532.56C323.77 532.11 324.77 531.84 325.65 531.87C326.53 531.91 327.63 532.27 328.42 532.78C329.2 533.29 329.94 534.16 330.34 534.95C330.74 535.75 330.96 536.79 330.81 537.55C330.66 538.32 330.08 539.14 329.43 539.55C328.77 539.96 327.74 540.09 326.87 540.02C326.01 539.96 324.99 539.65 324.25 539.16Z" fill="url(#n_l1)"/>
<path d="M334.93 542.66C334.36 542.09 333.93 541.21 333.73 540.41C333.53 539.6 333.5 538.63 333.73 537.85C333.96 537.06 334.5 536.24 335.1 535.69C335.71 535.15 336.54 534.82 337.34 534.58C338.15 534.33 339.12 534.04 339.93 534.2C340.74 534.37 341.61 534.97 342.22 535.59C342.84 536.21 343.44 537.07 343.63 537.9C343.83 538.74 343.69 539.78 343.42 540.59C343.14 541.41 342.61 542.21 342 542.81C341.39 543.41 340.55 544.03 339.75 544.19C338.94 544.36 337.99 544.06 337.18 543.8C336.38 543.54 335.51 543.22 334.93 542.66Z" fill="url(#c_l1)"/>
<path d="M336.75 541.71C336.32 541.24 336.04 540.47 335.99 539.8C335.93 539.14 336.11 538.34 336.44 537.72C336.77 537.1 337.36 536.42 337.98 536.09C338.59 535.77 339.45 535.69 340.12 535.77C340.8 535.86 341.54 536.17 342 536.62C342.46 537.08 342.85 537.83 342.91 538.5C342.97 539.17 342.73 540.04 342.37 540.64C342 541.25 341.35 541.79 340.72 542.13C340.09 542.46 339.27 542.71 338.61 542.64C337.95 542.57 337.19 542.18 336.75 541.71Z" fill="url(#n_l1)"/>
<path d="M351.91 548.99C351.25 550.03 350.4 551.18 349.35 551.83C348.3 552.47 346.78 552.98 345.6 552.88C344.42 552.78 343.25 551.94 342.28 551.22C341.31 550.51 340.31 549.65 339.78 548.58C339.24 547.5 338.84 545.97 339.06 544.78C339.28 543.59 340.32 542.4 341.12 541.43C341.91 540.46 342.78 539.6 343.82 538.97C344.87 538.34 346.2 537.67 347.39 537.65C348.57 537.63 349.99 538.15 350.95 538.85C351.91 539.55 352.77 540.73 353.16 541.85C353.55 542.98 353.49 544.4 353.28 545.59C353.07 546.77 352.56 547.95 351.91 548.99Z" fill="url(#c_l1)"/>
<path d="M349.78 547.21C349.21 548.06 348.17 548.85 347.2 549.19C346.24 549.53 344.92 549.56 343.99 549.24C343.06 548.91 342.23 548.05 341.62 547.24C341.02 546.43 340.37 545.35 340.35 544.38C340.33 543.41 340.91 542.25 341.51 541.42C342.1 540.58 343 539.69 343.92 539.38C344.84 539.07 346.03 539.3 347.01 539.57C347.98 539.84 349.17 540.27 349.77 541.03C350.37 541.79 350.62 543.09 350.62 544.12C350.62 545.15 350.35 546.37 349.78 547.21Z" fill="url(#n_l1)"/>
<path d="M356.82 552.36C355.83 551.95 354.93 551.09 354.23 550.24C353.53 549.39 352.78 548.31 352.62 547.26C352.46 546.2 352.84 544.91 353.28 543.91C353.72 542.92 354.42 541.91 355.25 541.26C356.08 540.61 357.2 540.23 358.26 540.02C359.32 539.8 360.64 539.6 361.6 539.97C362.56 540.35 363.39 541.41 364.02 542.28C364.65 543.15 365.24 544.18 365.39 545.21C365.54 546.23 365.27 547.39 364.92 548.41C364.58 549.43 364.11 550.64 363.32 551.35C362.53 552.06 361.27 552.52 360.19 552.68C359.11 552.85 357.82 552.77 356.82 552.36Z" fill="url(#c_l1)"/>
<path d="M358.33 549.4C357.51 549.08 356.62 548.53 356.15 547.8C355.68 547.08 355.44 545.96 355.52 545.08C355.59 544.19 356.05 543.18 356.61 542.51C357.18 541.84 358.04 541.33 358.88 541.03C359.72 540.73 360.89 540.43 361.67 540.73C362.46 541.02 363.14 542.01 363.58 542.8C364.02 543.59 364.36 544.57 364.31 545.45C364.27 546.33 363.84 547.35 363.29 548.07C362.74 548.78 361.86 549.53 361.03 549.75C360.2 549.97 359.14 549.72 358.33 549.4Z" fill="url(#n_l1)"/>
<path d="M332.73 559.24C331.72 559.63 330.63 560.03 329.57 559.93C328.5 559.83 327.3 559.31 326.33 558.64C325.36 557.97 324.24 556.97 323.75 555.88C323.26 554.79 323.28 553.3 323.41 552.12C323.54 550.93 323.94 549.73 324.54 548.78C325.15 547.83 326.06 546.86 327.04 546.44C328.02 546.03 329.36 546.07 330.43 546.3C331.5 546.54 332.55 547.18 333.46 547.87C334.38 548.56 335.34 549.42 335.92 550.47C336.49 551.51 336.95 552.95 336.9 554.13C336.85 555.31 336.32 556.71 335.63 557.56C334.93 558.41 333.74 558.84 332.73 559.24Z" fill="url(#c_l1)"/>
<path d="M330.45 557.23C329.58 557.67 328.28 557.89 327.35 557.71C326.43 557.52 325.52 556.81 324.9 556.13C324.28 555.46 323.7 554.52 323.63 553.64C323.55 552.76 323.93 551.63 324.45 550.85C324.97 550.07 325.88 549.32 326.76 548.94C327.63 548.55 328.8 548.38 329.71 548.54C330.62 548.69 331.59 549.24 332.21 549.88C332.82 550.52 333.33 551.5 333.39 552.37C333.44 553.24 333.04 554.27 332.55 555.08C332.06 555.89 331.31 556.79 330.45 557.23Z" fill="url(#n_l1)"/>
<path d="M338.23 564C337.66 563.39 336.86 562.77 336.67 562.02C336.48 561.27 336.82 560.29 337.08 559.5C337.35 558.71 337.69 557.86 338.26 557.28C338.83 556.7 339.69 556.2 340.48 556.02C341.27 555.83 342.23 555.94 343 556.19C343.77 556.43 344.53 556.91 345.09 557.48C345.65 558.06 346.17 558.86 346.34 559.63C346.5 560.39 346.29 561.28 346.09 562.09C345.88 562.9 345.67 563.94 345.09 564.48C344.52 565.02 343.49 565.13 342.66 565.33C341.83 565.53 340.86 565.91 340.12 565.69C339.38 565.47 338.81 564.61 338.23 564Z" fill="url(#c_l1)"/>
<path d="M339.04 561.98C338.55 561.47 338.12 560.71 338.01 560.05C337.91 559.4 338.1 558.62 338.39 558.07C338.68 557.51 339.2 556.98 339.77 556.71C340.33 556.45 341.13 556.34 341.79 556.48C342.44 556.62 343.18 557.06 343.69 557.56C344.2 558.07 344.69 558.82 344.84 559.51C344.99 560.19 344.91 561.12 344.59 561.67C344.27 562.23 343.53 562.59 342.92 562.83C342.3 563.08 341.55 563.29 340.91 563.15C340.26 563.01 339.52 562.5 339.04 561.98Z" fill="url(#n_l1)"/>
<path d="M316.83 576.36C315.9 576.85 314.63 576.97 313.55 576.88C312.48 576.8 311.33 576.41 310.36 575.84C309.39 575.27 308.43 574.45 307.72 573.49C307.01 572.52 306.17 571.19 306.09 570.07C306.01 568.94 306.71 567.74 307.23 566.74C307.75 565.75 308.33 564.66 309.2 564.09C310.06 563.52 311.34 563.27 312.43 563.31C313.52 563.35 314.72 563.75 315.75 564.32C316.79 564.88 318.03 565.69 318.64 566.69C319.25 567.69 319.3 569.12 319.39 570.32C319.48 571.52 319.61 572.9 319.18 573.9C318.75 574.91 317.77 575.86 316.83 576.36Z" fill="url(#c_l1)"/>
<path d="M314.48 575.64C313.75 576.12 312.55 576.19 311.6 576.08C310.65 575.96 309.49 575.62 308.77 574.97C308.05 574.33 307.52 573.17 307.28 572.21C307.04 571.25 307.01 570.09 307.31 569.21C307.61 568.33 308.31 567.45 309.08 566.95C309.84 566.46 310.94 566.15 311.88 566.24C312.82 566.33 314.01 566.83 314.71 567.5C315.4 568.18 315.85 569.34 316.06 570.29C316.27 571.23 316.25 572.28 315.99 573.17C315.72 574.06 315.21 575.15 314.48 575.64Z" fill="url(#n_l1)"/>
<path d="M328.56 579.51C327.54 579.39 326.44 578.63 325.64 577.99C324.84 577.34 324.16 576.51 323.77 575.66C323.37 574.81 323.18 573.77 323.28 572.87C323.38 571.98 323.83 571.07 324.37 570.27C324.91 569.48 325.62 568.46 326.52 568.1C327.42 567.73 328.7 567.96 329.77 568.08C330.84 568.19 332.05 568.27 332.94 568.78C333.84 569.29 334.69 570.22 335.17 571.13C335.65 572.03 335.94 573.22 335.83 574.2C335.72 575.19 335.18 576.29 334.51 577.05C333.83 577.8 332.77 578.3 331.78 578.71C330.79 579.12 329.59 579.63 328.56 579.51Z" fill="url(#c_l1)"/>
<path d="M328.83 578.91C328.02 578.82 327.08 578.35 326.51 577.76C325.94 577.16 325.57 576.2 325.41 575.35C325.24 574.5 325.19 573.4 325.52 572.65C325.85 571.89 326.67 571.23 327.38 570.82C328.09 570.41 328.95 570.15 329.75 570.19C330.55 570.22 331.59 570.48 332.17 571.03C332.76 571.58 333.14 572.66 333.26 573.51C333.39 574.36 333.23 575.34 332.91 576.14C332.59 576.94 332.03 577.83 331.35 578.29C330.67 578.75 329.64 579 328.83 578.91Z" fill="url(#n_l1)"/>
<path d="M359.5 572.05C359.4 573.25 359.35 574.7 358.75 575.61C358.16 576.52 356.93 577.01 355.94 577.52C354.96 578.02 353.88 578.65 352.84 578.62C351.81 578.6 350.56 578.08 349.74 577.38C348.92 576.67 348.39 575.48 347.94 574.4C347.48 573.32 346.94 572.06 347.01 570.9C347.08 569.75 347.69 568.4 348.35 567.47C349.02 566.54 350.03 565.74 350.99 565.31C351.95 564.87 353.09 564.76 354.11 564.86C355.13 564.95 356.21 565.29 357.09 565.89C357.97 566.48 358.99 567.4 359.39 568.43C359.79 569.46 359.61 570.86 359.5 572.05Z" fill="url(#c_l1)"/>
<path d="M357.82 570.3C357.72 571.17 357.36 572.15 356.79 572.81C356.21 573.47 355.24 574.07 354.37 574.24C353.5 574.42 352.42 574.21 351.58 573.87C350.74 573.52 349.78 572.91 349.34 572.17C348.9 571.44 348.86 570.37 348.93 569.48C349 568.59 349.17 567.47 349.74 566.84C350.31 566.2 351.44 565.81 352.33 565.66C353.23 565.51 354.25 565.62 355.08 565.94C355.92 566.27 356.89 566.87 357.34 567.6C357.8 568.32 357.91 569.43 357.82 570.3Z" fill="url(#n_l1)"/>
<path d="M361.56 570.6C360.63 570.62 359.6 569.94 358.73 569.45C357.86 568.95 356.85 568.42 356.33 567.62C355.8 566.82 355.54 565.63 355.56 564.66C355.58 563.69 355.99 562.67 356.46 561.79C356.93 560.91 357.54 559.8 358.37 559.36C359.2 558.93 360.43 559.17 361.45 559.17C362.47 559.17 363.68 558.92 364.49 559.36C365.31 559.8 365.8 560.93 366.31 561.79C366.82 562.66 367.56 563.62 367.57 564.54C367.58 565.46 366.91 566.52 366.37 567.32C365.83 568.11 365.11 568.75 364.31 569.3C363.5 569.84 362.49 570.57 361.56 570.6Z" fill="url(#c_l1)"/>
<path d="M360.98 569.99C360.21 569.99 359.31 569.47 358.67 568.98C358.02 568.49 357.4 567.77 357.14 567.02C356.87 566.27 356.82 565.23 357.07 564.47C357.31 563.72 357.97 562.98 358.61 562.5C359.24 562.02 360.14 561.6 360.9 561.6C361.66 561.61 362.52 562.06 363.16 562.53C363.8 563 364.45 563.68 364.73 564.42C365.02 565.16 365.11 566.22 364.87 566.98C364.63 567.74 363.95 568.46 363.3 568.96C362.65 569.46 361.75 569.98 360.98 569.99Z" fill="url(#n_l1)"/>
<path d="M374.97 567.68C374.04 567.07 373.18 565.88 372.8 564.85C372.42 563.82 372.61 562.62 372.69 561.51C372.76 560.4 372.71 559.1 373.26 558.18C373.8 557.27 374.94 556.45 375.97 556.03C377.01 555.61 378.34 555.5 379.47 555.65C380.61 555.81 381.88 556.28 382.79 556.97C383.7 557.65 384.49 558.73 384.96 559.76C385.43 560.79 385.7 562.06 385.6 563.15C385.5 564.24 385.03 565.44 384.38 566.3C383.74 567.16 382.72 567.96 381.71 568.33C380.71 568.7 379.49 568.62 378.36 568.52C377.24 568.41 375.9 568.3 374.97 567.68Z" fill="url(#c_l1)"/>
<path d="M375.45 564.33C374.66 563.74 373.91 562.77 373.61 561.92C373.31 561.07 373.43 560.05 373.65 559.22C373.88 558.4 374.29 557.47 374.96 556.99C375.63 556.51 376.76 556.26 377.68 556.33C378.6 556.41 379.69 556.85 380.49 557.42C381.28 557.99 382.08 558.88 382.45 559.74C382.81 560.61 382.94 561.78 382.69 562.59C382.44 563.4 381.68 564.12 380.95 564.6C380.22 565.07 379.23 565.48 378.31 565.43C377.39 565.39 376.23 564.92 375.45 564.33Z" fill="url(#n_l1)"/>
<path d="M322.23 587.45C321.17 587.77 319.87 588.13 318.84 587.79C317.81 587.44 316.84 586.3 316.04 585.38C315.24 584.45 314.43 583.4 314.04 582.24C313.65 581.07 313.47 579.55 313.7 578.37C313.94 577.2 314.67 575.97 315.45 575.18C316.23 574.38 317.36 573.81 318.39 573.61C319.42 573.4 320.58 573.62 321.62 573.94C322.66 574.26 323.84 574.73 324.63 575.54C325.42 576.35 326.01 577.64 326.37 578.82C326.74 579.99 327.01 581.42 326.82 582.6C326.63 583.78 325.98 585.08 325.21 585.89C324.45 586.7 323.29 587.13 322.23 587.45Z" fill="url(#c_l1)"/>
<path d="M321.71 585.84C320.88 586.03 319.86 585.92 319.04 585.52C318.23 585.12 317.34 584.31 316.81 583.43C316.28 582.55 315.84 581.24 315.85 580.23C315.86 579.23 316.37 578.15 316.88 577.41C317.39 576.66 318.14 575.98 318.92 575.76C319.69 575.54 320.72 575.7 321.52 576.09C322.32 576.49 323.2 577.27 323.71 578.12C324.21 578.98 324.51 580.19 324.56 581.23C324.61 582.28 324.5 583.61 324.02 584.38C323.55 585.14 322.54 585.65 321.71 585.84Z" fill="url(#n_l1)"/>
<path d="M337.67 590.54C336.77 591.2 335.3 591.28 334.18 591.39C333.06 591.49 331.91 591.5 330.97 591.17C330.02 590.83 329.08 590.16 328.5 589.39C327.93 588.61 327.61 587.53 327.51 586.52C327.42 585.51 327.48 584.27 327.94 583.3C328.4 582.33 329.35 581.36 330.26 580.7C331.18 580.05 332.36 579.52 333.42 579.36C334.47 579.19 335.59 579.41 336.6 579.7C337.61 580 338.9 580.36 339.48 581.13C340.06 581.89 340.06 583.23 340.07 584.28C340.09 585.34 339.95 586.41 339.55 587.46C339.15 588.5 338.57 589.89 337.67 590.54Z" fill="url(#c_l1)"/>
<path d="M335.76 590.67C335.06 591.2 333.95 591.48 333.04 591.46C332.12 591.45 331.04 591.11 330.29 590.57C329.54 590.03 328.85 589.1 328.53 588.23C328.21 587.35 328.13 586.2 328.37 585.33C328.61 584.45 329.23 583.45 329.95 582.96C330.67 582.47 331.79 582.33 332.67 582.38C333.56 582.43 334.51 582.77 335.25 583.28C336 583.78 336.81 584.57 337.14 585.4C337.47 586.23 337.44 587.38 337.21 588.25C336.98 589.13 336.45 590.14 335.76 590.67Z" fill="url(#n_l1)"/>
<path d="M349.24 579.27C348.79 580.07 347.95 580.84 347.11 581.25C346.27 581.66 345.16 581.81 344.2 581.75C343.24 581.69 342.19 581.38 341.34 580.9C340.48 580.41 339.57 579.68 339.06 578.85C338.55 578.02 338.32 576.91 338.29 575.92C338.25 574.94 338.36 573.73 338.86 572.95C339.37 572.17 340.45 571.68 341.34 571.24C342.23 570.8 343.26 570.26 344.2 570.33C345.14 570.39 346.13 571.08 347 571.61C347.86 572.14 348.91 572.72 349.38 573.53C349.85 574.34 349.86 575.51 349.84 576.46C349.81 577.42 349.7 578.48 349.24 579.27Z" fill="url(#c_l1)"/>
<path d="M348.2 579.42C347.81 580.03 346.9 580.42 346.13 580.66C345.35 580.9 344.36 581.1 343.56 580.87C342.76 580.64 341.9 579.91 341.33 579.27C340.76 578.63 340.26 577.77 340.14 577.03C340.03 576.28 340.26 575.43 340.63 574.8C341 574.18 341.64 573.54 342.36 573.31C343.07 573.07 344.09 573.2 344.91 573.42C345.74 573.64 346.74 574.06 347.33 574.65C347.93 575.25 348.34 576.21 348.49 577.01C348.63 577.8 348.6 578.81 348.2 579.42Z" fill="url(#n_l1)"/>
<path d="M351.06 590.61C350.28 591.38 349.18 591.83 348.14 592.27C347.1 592.71 345.81 593.41 344.82 593.25C343.83 593.08 342.9 592.05 342.19 591.28C341.48 590.52 340.92 589.65 340.56 588.66C340.19 587.68 339.81 586.45 339.99 585.36C340.18 584.28 340.89 582.99 341.69 582.17C342.48 581.34 343.7 580.75 344.76 580.41C345.83 580.07 347.08 579.9 348.09 580.11C349.1 580.33 350.12 580.98 350.84 581.68C351.55 582.39 352.04 583.38 352.37 584.36C352.7 585.35 353.01 586.56 352.8 587.6C352.58 588.64 351.84 589.83 351.06 590.61Z" fill="url(#c_l1)"/>
<path d="M349.36 589.99C348.73 590.71 347.84 591.58 347 591.79C346.16 592 345.08 591.61 344.29 591.25C343.5 590.89 342.7 590.35 342.26 589.62C341.82 588.9 341.53 587.81 341.65 586.91C341.76 586.01 342.29 584.88 342.94 584.21C343.59 583.54 344.64 583.15 345.54 582.92C346.43 582.68 347.53 582.52 348.33 582.81C349.12 583.11 349.89 583.92 350.3 584.69C350.71 585.47 350.94 586.57 350.78 587.45C350.62 588.33 349.99 589.27 349.36 589.99Z" fill="url(#n_l1)"/>
<path d="M361.73 595.22C360.73 594.92 359.72 594.23 359 593.43C358.27 592.63 357.58 591.5 357.37 590.41C357.16 589.31 357.36 587.92 357.76 586.85C358.15 585.78 358.92 584.7 359.74 584C360.56 583.3 361.65 582.96 362.68 582.65C363.72 582.34 364.98 581.88 365.94 582.15C366.91 582.42 367.81 583.43 368.48 584.28C369.15 585.14 369.75 586.2 369.94 587.26C370.13 588.33 369.94 589.6 369.6 590.67C369.27 591.75 368.72 592.95 367.95 593.71C367.18 594.47 366.01 595 364.97 595.25C363.93 595.5 362.73 595.52 361.73 595.22Z" fill="url(#c_l1)"/>
<path d="M363.71 594.5C362.93 594.25 362.12 593.58 361.65 592.83C361.17 592.08 360.81 590.95 360.86 590C360.9 589.05 361.38 587.91 361.93 587.11C362.47 586.31 363.3 585.56 364.11 585.2C364.92 584.84 365.99 584.72 366.79 584.97C367.59 585.21 368.42 585.9 368.89 586.67C369.36 587.43 369.64 588.56 369.61 589.54C369.58 590.52 369.24 591.75 368.7 592.55C368.16 593.35 367.2 594.02 366.37 594.35C365.54 594.68 364.5 594.76 363.71 594.5Z" fill="url(#n_l1)"/>
<path d="M383.87 585.51C383.13 586.44 381.95 587.5 380.84 587.79C379.73 588.09 378.35 587.59 377.22 587.28C376.1 586.96 374.95 586.62 374.07 585.9C373.19 585.19 372.28 584.11 371.96 583.01C371.64 581.91 371.87 580.52 372.17 579.33C372.46 578.14 372.89 576.72 373.72 575.9C374.54 575.07 375.96 574.76 377.13 574.4C378.3 574.04 379.62 573.51 380.73 573.72C381.84 573.93 382.95 574.83 383.78 575.64C384.61 576.46 385.45 577.54 385.7 578.63C385.96 579.73 385.61 581.05 385.31 582.2C385 583.34 384.62 584.57 383.87 585.51Z" fill="url(#c_l1)"/>
<path d="M382.71 583.14C382.06 583.86 380.92 584.45 379.96 584.63C378.99 584.8 377.79 584.61 376.93 584.19C376.07 583.77 375.21 582.93 374.8 582.09C374.39 581.25 374.34 580.12 374.46 579.16C374.58 578.2 374.87 577.02 375.51 576.32C376.14 575.61 377.29 575.12 378.25 574.92C379.22 574.73 380.42 574.77 381.29 575.16C382.16 575.55 383.03 576.44 383.47 577.29C383.9 578.14 384.02 579.31 383.9 580.28C383.77 581.26 383.37 582.41 382.71 583.14Z" fill="url(#n_l1)"/>
<path d="M381.77 574.61C381.6 573.43 381.96 571.99 382.38 570.91C382.8 569.83 383.51 568.87 384.28 568.12C385.06 567.37 386.06 566.53 387.04 566.39C388.02 566.26 389.23 566.77 390.17 567.31C391.1 567.85 392.09 568.65 392.66 569.61C393.23 570.58 393.41 571.89 393.59 573.08C393.77 574.27 394.06 575.67 393.76 576.76C393.47 577.85 392.62 578.97 391.8 579.61C390.99 580.26 389.86 580.56 388.88 580.62C387.9 580.68 386.85 580.43 385.94 579.98C385.02 579.53 384.08 578.84 383.39 577.94C382.69 577.05 381.94 575.78 381.77 574.61Z" fill="url(#c_l1)"/>
<path d="M384.05 573.27C383.97 572.46 384.35 571.43 384.89 570.73C385.42 570.04 386.36 569.48 387.26 569.09C388.17 568.7 389.36 568.28 390.29 568.4C391.22 568.51 392.17 569.18 392.84 569.77C393.51 570.36 394.2 571.16 394.32 571.94C394.44 572.73 394.06 573.73 393.56 574.48C393.07 575.23 392.24 576.11 391.35 576.45C390.46 576.79 389.21 576.69 388.21 576.55C387.22 576.41 386.08 576.15 385.39 575.61C384.69 575.06 384.13 574.08 384.05 573.27Z" fill="url(#n_l1)"/>
<path d="M394.01 571.77C393.13 571.66 392.07 571.26 391.4 570.7C390.73 570.14 390.22 569.23 389.97 568.43C389.71 567.64 389.7 566.72 389.87 565.93C390.04 565.14 390.41 564.26 390.99 563.7C391.57 563.14 392.5 562.79 393.33 562.56C394.16 562.34 395.15 562.17 395.97 562.35C396.79 562.54 397.57 563.12 398.25 563.66C398.94 564.19 399.8 564.83 400.06 565.56C400.33 566.28 400.05 567.23 399.87 568.01C399.69 568.8 399.51 569.71 398.97 570.27C398.44 570.83 397.49 571.15 396.66 571.4C395.83 571.65 394.88 571.89 394.01 571.77Z" fill="url(#c_l1)"/>
<path d="M394.85 569.15C394.21 568.99 393.57 568.6 393.11 568.11C392.65 567.62 392.2 566.9 392.1 566.22C392.01 565.54 392.19 564.64 392.53 564.01C392.87 563.38 393.5 562.72 394.12 562.42C394.75 562.13 395.61 562.09 396.29 562.23C396.98 562.36 397.81 562.72 398.23 563.25C398.66 563.78 398.79 564.67 398.84 565.39C398.89 566.11 398.86 566.95 398.54 567.56C398.23 568.18 397.56 568.82 396.94 569.08C396.33 569.35 395.49 569.31 394.85 569.15Z" fill="url(#n_l1)"/>
<path d="M334.74 604.49C334.05 605.21 333.03 605.82 332.08 606.09C331.12 606.36 329.94 606.38 329.02 606.1C328.11 605.83 327.33 605.09 326.6 604.43C325.88 603.77 325 603.04 324.69 602.15C324.38 601.26 324.48 600.02 324.76 599.1C325.04 598.17 325.7 597.32 326.37 596.6C327.03 595.88 327.85 595.06 328.74 594.77C329.63 594.49 330.8 594.67 331.72 594.92C332.65 595.16 333.61 595.62 334.31 596.25C335.01 596.88 335.61 597.79 335.93 598.71C336.25 599.62 336.4 600.78 336.21 601.74C336.01 602.7 335.43 603.76 334.74 604.49Z" fill="url(#c_l1)"/>
<path d="M332.17 601.91C331.58 602.52 330.68 602.99 329.88 603.22C329.09 603.44 328.11 603.51 327.4 603.26C326.69 603 325.94 602.36 325.64 601.67C325.33 600.99 325.4 599.99 325.57 599.16C325.74 598.34 326.1 597.36 326.67 596.73C327.25 596.11 328.23 595.59 329.02 595.41C329.82 595.22 330.75 595.33 331.43 595.62C332.1 595.91 332.75 596.5 333.09 597.15C333.43 597.81 333.61 598.76 333.45 599.55C333.3 600.35 332.77 601.3 332.17 601.91Z" fill="url(#n_l1)"/>
<path d="M354.53 597.01C354.56 598.02 354.09 599.23 353.5 600.1C352.9 600.98 351.94 601.73 350.97 602.25C350 602.76 348.81 603.15 347.69 603.2C346.57 603.25 345.18 603.06 344.23 602.53C343.28 602 342.5 600.95 342 600.03C341.5 599.1 341.3 598.04 341.23 596.99C341.16 595.94 341.06 594.62 341.58 593.72C342.1 592.83 343.33 592.06 344.35 591.62C345.37 591.18 346.56 591.12 347.71 591.08C348.86 591.03 350.32 590.85 351.25 591.34C352.18 591.84 352.74 593.09 353.29 594.03C353.84 594.98 354.49 596 354.53 597.01Z" fill="url(#c_l1)"/>
<path d="M353.21 597.34C353.2 598.26 352.87 599.35 352.36 600.11C351.84 600.87 350.95 601.67 350.12 601.92C349.29 602.17 348.2 601.91 347.35 601.61C346.51 601.3 345.61 600.79 345.06 600.07C344.51 599.36 344.07 598.23 344.07 597.32C344.08 596.41 344.57 595.36 345.1 594.61C345.64 593.86 346.47 593.1 347.3 592.82C348.13 592.54 349.23 592.64 350.08 592.93C350.93 593.22 351.86 593.82 352.39 594.55C352.91 595.29 353.21 596.41 353.21 597.34Z" fill="url(#n_l1)"/>
<path d="M391.41 599.04C390.61 598.37 389.99 597.22 389.64 596.21C389.29 595.2 389.14 594 389.32 593C389.5 591.99 390.02 590.89 390.71 590.18C391.4 589.48 392.47 589.03 393.46 588.75C394.45 588.47 395.69 588.2 396.65 588.5C397.62 588.79 398.49 589.78 399.25 590.53C400.01 591.29 400.92 592.1 401.23 593.02C401.54 593.95 401.31 595.09 401.12 596.06C400.94 597.03 400.73 598.13 400.13 598.87C399.54 599.61 398.51 600.28 397.56 600.51C396.61 600.74 395.46 600.49 394.43 600.24C393.41 599.99 392.2 599.71 391.41 599.04Z" fill="url(#c_l1)"/>
<path d="M393.83 597.42C393.29 596.89 392.91 596.02 392.83 595.23C392.74 594.44 392.93 593.46 393.31 592.68C393.69 591.9 394.36 591.01 395.09 590.55C395.81 590.09 396.88 589.86 397.67 589.92C398.45 589.98 399.26 590.42 399.81 590.93C400.36 591.45 400.81 592.21 400.96 593C401.11 593.79 401.1 594.89 400.71 595.67C400.33 596.44 399.42 597.19 398.64 597.65C397.87 598.11 396.86 598.48 396.06 598.44C395.26 598.4 394.37 597.96 393.83 597.42Z" fill="url(#n_l1)"/>
<path d="M301.96 602.2C301.11 601.91 300.16 601.53 299.54 600.93C298.92 600.34 298.37 599.4 298.25 598.62C298.12 597.84 298.53 597.04 298.79 596.27C299.05 595.5 299.17 594.46 299.79 594C300.4 593.55 301.58 593.58 302.46 593.54C303.34 593.5 304.24 593.5 305.05 593.78C305.86 594.05 306.69 594.57 307.32 595.17C307.95 595.77 308.61 596.58 308.83 597.37C309.05 598.16 308.93 599.14 308.65 599.89C308.37 600.65 307.8 601.44 307.13 601.9C306.45 602.37 305.45 602.64 304.59 602.69C303.73 602.74 302.8 602.49 301.96 602.2Z" fill="url(#c_l1)"/>
<path d="M302.03 600.42C301.43 600.22 300.67 599.88 300.36 599.31C300.06 598.74 300.11 597.74 300.21 597C300.31 596.25 300.57 595.46 300.97 594.84C301.37 594.22 302 593.54 302.62 593.27C303.24 593 304.08 593 304.68 593.22C305.28 593.44 305.89 594 306.19 594.61C306.49 595.22 306.55 596.1 306.49 596.86C306.43 597.62 306.24 598.56 305.83 599.16C305.41 599.77 304.63 600.29 304 600.5C303.36 600.71 302.64 600.62 302.03 600.42Z" fill="url(#n_l1)"/>
<path d="M329.41 611.15C329.35 610.27 329.53 609.28 329.84 608.44C330.14 607.59 330.62 606.63 331.25 606.1C331.87 605.58 332.81 605.31 333.6 605.29C334.39 605.27 335.31 605.5 336 605.97C336.68 606.43 337.36 607.26 337.7 608.07C338.05 608.89 338.04 609.92 338.08 610.85C338.12 611.79 338.27 612.91 337.95 613.68C337.63 614.46 336.81 614.99 336.15 615.5C335.49 616.02 334.76 616.68 334 616.79C333.24 616.89 332.21 616.62 331.57 616.11C330.93 615.6 330.52 614.56 330.16 613.73C329.8 612.91 329.46 612.03 329.41 611.15Z" fill="url(#c_l1)"/>
<path d="M329.45 610.12C329.46 609.47 329.73 608.78 330.11 608.23C330.5 607.67 331.1 607.02 331.77 606.78C332.43 606.55 333.4 606.63 334.1 606.83C334.79 607.03 335.49 607.48 335.94 607.99C336.39 608.49 336.79 609.24 336.8 609.86C336.81 610.49 336.42 611.21 336.01 611.75C335.59 612.28 334.98 612.82 334.31 613.06C333.65 613.31 332.73 613.37 332.01 613.21C331.3 613.05 330.46 612.62 330.03 612.1C329.6 611.59 329.43 610.76 329.45 610.12Z" fill="url(#n_l1)"/>
<path d="M307.47 535.19C307.23 535.84 306.77 536.5 306.28 536.95C305.79 537.4 305.16 537.71 304.54 537.9C303.93 538.1 303.17 538.29 302.59 538.11C302.01 537.94 301.43 537.38 301.06 536.85C300.69 536.32 300.48 535.61 300.38 534.93C300.27 534.25 300.22 533.42 300.45 532.78C300.67 532.14 301.24 531.56 301.73 531.07C302.23 530.57 302.79 530.03 303.42 529.81C304.04 529.58 304.87 529.52 305.46 529.74C306.06 529.96 306.58 530.57 306.96 531.12C307.34 531.68 307.64 532.37 307.73 533.05C307.81 533.72 307.72 534.54 307.47 535.19Z" fill="url(#c_l1)"/>
<path d="M305.83 535.67C305.65 536.19 305.25 536.76 304.81 537.07C304.37 537.38 303.71 537.54 303.18 537.53C302.64 537.52 302.03 537.33 301.59 537.01C301.15 536.7 300.7 536.17 300.54 535.65C300.38 535.13 300.44 534.4 300.63 533.89C300.83 533.38 301.29 532.89 301.74 532.58C302.18 532.27 302.77 532.08 303.31 532.06C303.85 532.03 304.56 532.13 304.98 532.44C305.41 532.76 305.72 533.41 305.87 533.95C306.01 534.49 306 535.15 305.83 535.67Z" fill="url(#n_l1)"/>
</g>
</g>
<g clip-path="url(#cp_l2)">
<rect x="418.5" y="532.3" width="94.5" height="78.5" fill="#bdc9ca"/>
<g filter="url(#mb)"><ellipse cx="462.5" cy="537.5" rx="6" ry="5.5" fill="url(#c_l2)" transform="rotate(0 462.5 537.5)"/><ellipse cx="450.2" cy="547.8" rx="10" ry="5.8" fill="url(#c_l2)" transform="rotate(8 450.2 547.8)"/><ellipse cx="467.5" cy="558.5" rx="8.5" ry="7.5" fill="url(#c_l2)" transform="rotate(0 467.5 558.5)"/><ellipse cx="429.2" cy="558.8" rx="5.8" ry="7" fill="url(#c_l2)" transform="rotate(0 429.2 558.8)"/><ellipse cx="435.2" cy="569.8" rx="7.5" ry="6.5" fill="url(#c_l2)" transform="rotate(0 435.2 569.8)"/><ellipse cx="480.2" cy="567.4" rx="8.6" ry="8" fill="url(#c_l2)" transform="rotate(0 480.2 567.4)"/><ellipse cx="469.3" cy="577.3" rx="7" ry="7" fill="url(#c_l2)" transform="rotate(0 469.3 577.3)"/><ellipse cx="497" cy="571.5" rx="7" ry="6.5" fill="url(#c_l2)" transform="rotate(0 497 571.5)"/><ellipse cx="491" cy="579" rx="6" ry="6" fill="url(#c_l2)" transform="rotate(0 491 579)"/><ellipse cx="501" cy="585" rx="7" ry="6.5" fill="url(#c_l2)" transform="rotate(0 501 585)"/><ellipse cx="505.5" cy="590.5" rx="6" ry="5.5" fill="url(#c_l2)" transform="rotate(0 505.5 590.5)"/><ellipse cx="509.5" cy="576.5" rx="6" ry="6.5" fill="url(#c_l2)" transform="rotate(0 509.5 576.5)"/><ellipse cx="503" cy="567" rx="5" ry="4.5" fill="url(#c_l2)" transform="rotate(0 503 567)"/><ellipse cx="441" cy="591.2" rx="8.8" ry="8.2" fill="url(#c_l2)" transform="rotate(0 441 591.2)"/><ellipse cx="459.4" cy="590.6" rx="9.8" ry="8.6" fill="url(#c_l2)" transform="rotate(0 459.4 590.6)"/><ellipse cx="486.5" cy="611.5" rx="5" ry="3" fill="url(#c_l2)" transform="rotate(0 486.5 611.5)"/><ellipse cx="462.3" cy="536.5" rx="4" ry="4.2" fill="url(#n_l2)" transform="rotate(0 462.3 536.5)"/><ellipse cx="451.3" cy="547.8" rx="6.2" ry="4" fill="url(#n_l2)" transform="rotate(8 451.3 547.8)"/><ellipse cx="465" cy="558" rx="4.8" ry="4.6" fill="url(#n_l2)" transform="rotate(0 465 558)"/><ellipse cx="427.8" cy="560.3" rx="4" ry="4.2" fill="url(#n_l2)" transform="rotate(0 427.8 560.3)"/><ellipse cx="433.8" cy="570.5" rx="4.2" ry="3.5" fill="url(#n_l2)" transform="rotate(0 433.8 570.5)"/><ellipse cx="480.8" cy="569.2" rx="4.2" ry="4.5" fill="url(#n_l2)" transform="rotate(0 480.8 569.2)"/><ellipse cx="468.8" cy="575.5" rx="4" ry="3.8" fill="url(#n_l2)" transform="rotate(0 468.8 575.5)"/><ellipse cx="441.5" cy="591.2" rx="6" ry="5.5" fill="#8552a6" transform="rotate(0 441.5 591.2)"/><ellipse cx="458.8" cy="591.2" rx="6" ry="5.5" fill="#8e5aa8" transform="rotate(0 458.8 591.2)"/><ellipse cx="497" cy="571.5" rx="3.8" ry="3.6" fill="#67308c" transform="rotate(0 497 571.5)"/><ellipse cx="491" cy="578" rx="3.5" ry="3.8" fill="#6e3690" transform="rotate(0 491 578)"/><ellipse cx="499.5" cy="584" rx="4.2" ry="3.8" fill="#64308a" transform="rotate(0 499.5 584)"/><ellipse cx="504" cy="589.5" rx="3.8" ry="3.5" fill="#6a338e" transform="rotate(0 504 589.5)"/><ellipse cx="509.6" cy="577.3" rx="3.4" ry="3.8" fill="#6e3690" transform="rotate(0 509.6 577.3)"/><ellipse cx="503.5" cy="567.5" rx="2.8" ry="2.6" fill="#7a4a9c" transform="rotate(0 503.5 567.5)"/></g>
<rect x="466.5" y="543.5" width="3.6" height="7.5" rx="1.8" fill="#ece4d2" stroke="#5a5a4a" stroke-width="0.7" transform="rotate(22 468.3 547.2)"/>
<circle cx="423" cy="598" r="1.8" fill="#e8d8c8" stroke="#555" stroke-width="0.6"/>
<circle cx="440" cy="606" r="1.9" fill="#eeeee8" stroke="#a2aaac" stroke-width="0.6" stroke-opacity="0.6"/>
<circle cx="452" cy="609" r="1.9" fill="#eeeee8" stroke="#a2aaac" stroke-width="0.6" stroke-opacity="0.6"/>
<circle cx="503" cy="603" r="1.9" fill="#eeeee8" stroke="#a2aaac" stroke-width="0.6" stroke-opacity="0.6"/>
<circle cx="470" cy="600" r="1.9" fill="#eeeee8" stroke="#a2aaac" stroke-width="0.6" stroke-opacity="0.6"/>
<g filter="url(#mb)">
</g>
</g>
<text transform="translate(299.8 460.4) rotate(-90)" font-size="6.9" text-anchor="middle">shcontrol</text>
<text transform="translate(415.6 460.9) rotate(-90)" font-size="7.2" text-anchor="middle">shSMARCD1</text>
<text transform="translate(299.8 571.5) rotate(-90)" font-size="6.9" text-anchor="middle">shcontrol-I</text>
<text transform="translate(415.6 571.5) rotate(-90)" font-size="7.2" text-anchor="middle">shSMARCD1-I</text>
<rect x="0.5" y="0.5" width="519" height="625" fill="none" stroke="#000" stroke-width="1"/>
</svg>
</body></html>
